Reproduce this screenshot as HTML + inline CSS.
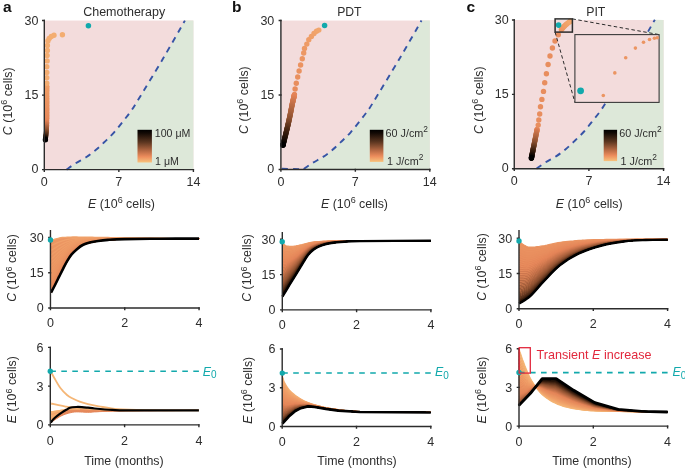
<!DOCTYPE html>
<html><head><meta charset="utf-8"><style>
html,body{margin:0;padding:0;background:#fff;}
svg{display:block;filter:blur(0.3px);}
</style></head><body>
<svg width="685" height="468" viewBox="0 0 685 468" font-family="'Liberation Sans', sans-serif">
<defs><linearGradient id="cba" x1="0" y1="0" x2="0" y2="1"><stop offset="0" stop-color="#000"/><stop offset="0.1" stop-color="#120904"/><stop offset="0.38" stop-color="#5c3620"/><stop offset="0.65" stop-color="#b86a44"/><stop offset="0.82" stop-color="#ec8c5c"/><stop offset="1" stop-color="#f8c27c"/></linearGradient><linearGradient id="cbb" x1="0" y1="0" x2="0" y2="1"><stop offset="0" stop-color="#000"/><stop offset="0.1" stop-color="#120904"/><stop offset="0.38" stop-color="#5c3620"/><stop offset="0.65" stop-color="#b86a44"/><stop offset="0.82" stop-color="#ec8c5c"/><stop offset="1" stop-color="#f8c27c"/></linearGradient><linearGradient id="cbc" x1="0" y1="0" x2="0" y2="1"><stop offset="0" stop-color="#000"/><stop offset="0.1" stop-color="#120904"/><stop offset="0.38" stop-color="#5c3620"/><stop offset="0.65" stop-color="#b86a44"/><stop offset="0.82" stop-color="#ec8c5c"/><stop offset="1" stop-color="#f8c27c"/></linearGradient></defs>
<rect width="685" height="468" fill="#fff"/>
<rect x="44.3" y="20.55" width="149.10" height="149.05" fill="#f3dcdc"/>
<polygon points="66.5,169.6 67.5,168.9 68.8,167.9 70.4,166.8 72.2,165.6 74.0,164.3 75.7,163.2 77.4,162.2 79.2,161.1 81.1,160.1 83.0,159.1 84.8,158.1 86.5,157.0 88.1,155.9 89.7,154.8 91.2,153.7 92.7,152.5 94.2,151.4 95.7,150.1 97.2,148.8 98.8,147.4 100.3,146.0 101.8,144.5 103.4,143.1 104.9,141.6 106.4,140.1 108.0,138.7 109.5,137.2 111.0,135.7 112.6,134.1 114.1,132.4 115.7,130.6 117.3,128.7 118.8,126.7 120.4,124.7 121.9,122.8 123.4,120.9 124.8,119.2 126.1,117.5 127.4,115.9 128.7,114.2 129.9,112.6 131.1,110.9 132.1,109.5 132.8,108.5 133.4,107.5 134.4,106.1 135.8,103.7 138.0,100.1 141.2,94.8 145.3,88.1 149.8,80.6 154.6,72.7 159.3,64.9 163.5,57.8 167.6,50.9 171.7,43.6 175.8,36.6 179.5,30.1 182.6,24.6 184.9,20.6 193.4,20.55 193.4,169.6" fill="#dde8d9"/>
<path d="M66.50,169.60 C68.03,168.53 72.37,165.30 75.70,163.20 C79.03,161.10 83.17,159.18 86.50,157.00 C89.83,154.82 92.63,152.67 95.70,150.10 C98.77,147.53 101.83,144.55 104.90,141.60 C107.97,138.65 111.02,135.85 114.10,132.40 C117.18,128.95 120.57,124.48 123.40,120.90 C126.23,117.32 128.67,114.37 131.10,110.90 C133.53,107.43 132.60,108.95 138.00,100.10 C143.40,91.25 155.68,71.05 163.50,57.80 C171.32,44.55 181.33,26.80 184.90,20.60" fill="none" stroke="#3654a6" stroke-width="1.9" stroke-dasharray="6 5.2"/>
<rect x="280.9" y="20.55" width="148.90" height="148.95" fill="#f3dcdc"/>
<polygon points="303.1,169.5 304.1,168.8 305.4,167.8 307.0,166.7 308.8,165.5 310.6,164.2 312.3,163.1 314.0,162.1 315.8,161.0 317.7,160.0 319.6,159.0 321.4,158.0 323.1,156.9 324.7,155.8 326.3,154.7 327.8,153.6 329.3,152.4 330.8,151.3 332.3,150.0 333.8,148.7 335.4,147.3 336.9,145.9 338.4,144.4 340.0,143.0 341.5,141.5 343.0,140.0 344.6,138.6 346.1,137.1 347.6,135.6 349.2,134.0 350.7,132.3 352.3,130.5 353.9,128.6 355.4,126.6 357.0,124.6 358.5,122.7 360.0,120.8 361.4,119.1 362.7,117.4 364.0,115.8 365.3,114.1 366.5,112.5 367.7,110.8 368.7,109.4 369.4,108.4 370.0,107.4 371.0,106.0 372.4,103.6 374.6,100.0 377.8,94.7 381.9,88.0 386.4,80.5 391.2,72.6 395.9,64.8 400.1,57.7 404.2,50.8 408.3,43.5 412.4,36.5 416.1,30.0 419.2,24.5 421.5,20.5 429.8,20.55 429.8,169.5" fill="#dde8d9"/>
<path d="M281.9,168.7 L303.10,169.2 L303.10,169.50 C304.63,168.43 308.97,165.20 312.30,163.10 C315.63,161.00 319.77,159.08 323.10,156.90 C326.43,154.72 329.23,152.57 332.30,150.00 C335.37,147.43 338.43,144.45 341.50,141.50 C344.57,138.55 347.62,135.75 350.70,132.30 C353.78,128.85 357.17,124.38 360.00,120.80 C362.83,117.22 365.27,114.27 367.70,110.80 C370.13,107.33 369.20,108.85 374.60,100.00 C380.00,91.15 392.28,70.95 400.10,57.70 C407.92,44.45 417.93,26.70 421.50,20.50" fill="none" stroke="#3654a6" stroke-width="1.9" stroke-dasharray="6 5.2"/>
<rect x="514.25" y="20.0" width="149.30" height="148.70" fill="#f3dcdc"/>
<polygon points="536.5,168.7 537.4,168.0 538.8,167.0 540.4,165.9 542.1,164.7 543.9,163.4 545.6,162.3 547.4,161.3 549.2,160.2 551.0,159.2 552.9,158.2 554.7,157.2 556.5,156.1 558.1,155.0 559.6,153.9 561.2,152.8 562.6,151.6 564.1,150.5 565.6,149.2 567.2,147.9 568.7,146.5 570.2,145.1 571.8,143.6 573.3,142.2 574.9,140.7 576.4,139.2 577.9,137.8 579.4,136.3 581.0,134.8 582.5,133.2 584.0,131.5 585.6,129.7 587.2,127.8 588.8,125.8 590.4,123.8 591.9,121.9 593.4,120.0 594.7,118.3 596.1,116.6 597.4,115.0 598.6,113.3 599.8,111.7 601.0,110.0 602.0,108.6 602.7,107.6 603.4,106.6 604.3,105.2 605.7,102.8 608.0,99.2 611.2,93.9 615.2,87.2 619.8,79.7 624.6,71.8 629.2,64.0 633.5,56.9 637.5,50.0 641.7,42.7 645.7,35.7 649.5,29.2 652.6,23.7 654.9,19.7 663.55,20.0 663.55,168.7" fill="#dde8d9"/>
<path d="M536.45,168.70 C537.98,167.63 542.32,164.40 545.65,162.30 C548.98,160.20 553.12,158.28 556.45,156.10 C559.78,153.92 562.58,151.77 565.65,149.20 C568.72,146.63 571.78,143.65 574.85,140.70 C577.92,137.75 580.97,134.95 584.05,131.50 C587.13,128.05 590.52,123.58 593.35,120.00 C596.18,116.42 598.62,113.47 601.05,110.00 C603.48,106.53 602.55,108.05 607.95,99.20 C613.35,90.35 625.63,70.15 633.45,56.90 C641.27,43.65 651.28,25.90 654.85,19.70" fill="none" stroke="#3654a6" stroke-width="1.9" stroke-dasharray="6 5.2"/>
<circle cx="46.9" cy="86.0" r="2.4" fill="#f0a069"/>
<circle cx="46.9" cy="86.3" r="2.4" fill="#f0a069"/>
<circle cx="46.9" cy="86.7" r="2.4" fill="#f09f69"/>
<circle cx="46.9" cy="87.1" r="2.4" fill="#f09f68"/>
<circle cx="46.9" cy="87.5" r="2.4" fill="#ef9e68"/>
<circle cx="46.9" cy="88.0" r="2.4" fill="#ef9e68"/>
<circle cx="46.9" cy="88.5" r="2.4" fill="#ef9e68"/>
<circle cx="46.9" cy="89.1" r="2.4" fill="#ef9d67"/>
<circle cx="46.9" cy="89.6" r="2.4" fill="#ef9d67"/>
<circle cx="46.9" cy="90.2" r="2.4" fill="#ee9c67"/>
<circle cx="46.9" cy="90.8" r="2.4" fill="#ee9c67"/>
<circle cx="46.9" cy="91.5" r="2.4" fill="#ee9c66"/>
<circle cx="46.9" cy="92.1" r="2.4" fill="#ee9b66"/>
<circle cx="46.9" cy="92.8" r="2.4" fill="#ee9b66"/>
<circle cx="46.9" cy="93.5" r="2.4" fill="#ee9b66"/>
<circle cx="46.9" cy="94.1" r="2.4" fill="#ee9a65"/>
<circle cx="46.9" cy="94.8" r="2.4" fill="#ed9a65"/>
<circle cx="46.9" cy="95.5" r="2.4" fill="#ed9965"/>
<circle cx="46.9" cy="96.2" r="2.4" fill="#ed9965"/>
<circle cx="46.9" cy="96.8" r="2.4" fill="#ed9965"/>
<circle cx="46.9" cy="97.5" r="2.4" fill="#ed9864"/>
<circle cx="46.9" cy="98.2" r="2.4" fill="#ec9864"/>
<circle cx="46.9" cy="98.8" r="2.4" fill="#ec9764"/>
<circle cx="46.9" cy="99.4" r="2.4" fill="#ec9764"/>
<circle cx="46.9" cy="100.0" r="2.4" fill="#ec9763"/>
<circle cx="46.9" cy="100.6" r="2.4" fill="#ec9663"/>
<circle cx="46.9" cy="101.2" r="2.4" fill="#ec9663"/>
<circle cx="46.9" cy="101.8" r="2.4" fill="#ec9663"/>
<circle cx="46.9" cy="102.3" r="2.4" fill="#eb9562"/>
<circle cx="46.9" cy="102.9" r="2.4" fill="#eb9562"/>
<circle cx="46.9" cy="103.5" r="2.4" fill="#eb9462"/>
<circle cx="46.9" cy="104.1" r="2.4" fill="#eb9462"/>
<circle cx="46.9" cy="104.7" r="2.4" fill="#eb9461"/>
<circle cx="46.9" cy="105.2" r="2.4" fill="#ea9361"/>
<circle cx="46.9" cy="105.8" r="2.4" fill="#ea9361"/>
<circle cx="46.9" cy="106.4" r="2.4" fill="#ea9261"/>
<circle cx="46.9" cy="107.0" r="2.4" fill="#ea9260"/>
<circle cx="46.9" cy="107.6" r="2.4" fill="#ea9260"/>
<circle cx="46.9" cy="108.2" r="2.4" fill="#ea9160"/>
<circle cx="46.9" cy="108.8" r="2.4" fill="#ea9160"/>
<circle cx="46.9" cy="109.3" r="2.4" fill="#e99060"/>
<circle cx="46.9" cy="109.9" r="2.4" fill="#e9905f"/>
<circle cx="46.9" cy="110.5" r="2.4" fill="#e9905f"/>
<circle cx="46.9" cy="111.1" r="2.4" fill="#e98f5f"/>
<circle cx="46.9" cy="111.7" r="2.4" fill="#e98f5f"/>
<circle cx="46.9" cy="112.2" r="2.4" fill="#e88e5e"/>
<circle cx="46.9" cy="112.8" r="2.4" fill="#e88e5e"/>
<circle cx="46.9" cy="113.4" r="2.4" fill="#e88e5e"/>
<circle cx="46.9" cy="114.0" r="2.4" fill="#e88d5e"/>
<circle cx="46.9" cy="114.6" r="2.4" fill="#e88d5d"/>
<circle cx="46.9" cy="115.2" r="2.4" fill="#e88d5d"/>
<circle cx="46.9" cy="115.8" r="2.4" fill="#e88c5d"/>
<circle cx="46.9" cy="116.4" r="2.4" fill="#e78c5d"/>
<circle cx="46.9" cy="117.0" r="2.4" fill="#e78b5c"/>
<circle cx="46.9" cy="117.6" r="2.4" fill="#e78b5c"/>
<circle cx="46.9" cy="118.2" r="2.4" fill="#e78b5c"/>
<circle cx="46.9" cy="118.8" r="2.4" fill="#e78a5c"/>
<circle cx="46.8" cy="119.4" r="2.4" fill="#e68a5c"/>
<circle cx="46.8" cy="119.9" r="2.4" fill="#e6895b"/>
<circle cx="46.8" cy="120.5" r="2.4" fill="#e6885a"/>
<circle cx="46.8" cy="121.1" r="2.4" fill="#e58659"/>
<circle cx="46.8" cy="121.7" r="2.4" fill="#e48559"/>
<circle cx="46.8" cy="122.3" r="2.4" fill="#e28357"/>
<circle cx="46.8" cy="122.9" r="2.4" fill="#dd8055"/>
<circle cx="46.8" cy="123.5" r="2.4" fill="#d87d53"/>
<circle cx="46.8" cy="124.1" r="2.4" fill="#d37a50"/>
<circle cx="46.7" cy="124.7" r="2.4" fill="#ce774e"/>
<circle cx="46.7" cy="125.2" r="2.4" fill="#c9744c"/>
<circle cx="46.7" cy="125.8" r="2.4" fill="#c37149"/>
<circle cx="46.7" cy="126.4" r="2.4" fill="#be6e47"/>
<circle cx="46.7" cy="126.9" r="2.4" fill="#b96a44"/>
<circle cx="46.6" cy="127.5" r="2.4" fill="#b36742"/>
<circle cx="46.6" cy="128.0" r="2.4" fill="#ae643f"/>
<circle cx="46.6" cy="128.5" r="2.4" fill="#a8613d"/>
<circle cx="46.5" cy="129.1" r="2.4" fill="#a35d3a"/>
<circle cx="46.5" cy="129.7" r="2.4" fill="#9d5a38"/>
<circle cx="46.4" cy="130.2" r="2.4" fill="#985735"/>
<circle cx="46.4" cy="130.8" r="2.4" fill="#925433"/>
<circle cx="46.3" cy="131.4" r="2.4" fill="#8c5030"/>
<circle cx="46.3" cy="131.9" r="2.4" fill="#844b2d"/>
<circle cx="46.2" cy="132.5" r="2.4" fill="#7c472a"/>
<circle cx="46.2" cy="133.1" r="2.4" fill="#744226"/>
<circle cx="46.1" cy="133.6" r="2.4" fill="#6c3d23"/>
<circle cx="46.0" cy="134.2" r="2.4" fill="#643820"/>
<circle cx="46.0" cy="134.7" r="2.4" fill="#5b331d"/>
<circle cx="45.9" cy="135.3" r="2.4" fill="#532e19"/>
<circle cx="45.9" cy="135.8" r="2.4" fill="#4b2916"/>
<circle cx="45.8" cy="136.3" r="2.4" fill="#422413"/>
<circle cx="45.7" cy="136.8" r="2.4" fill="#3a1f0f"/>
<circle cx="45.7" cy="137.2" r="2.4" fill="#321a0c"/>
<circle cx="45.6" cy="137.7" r="2.4" fill="#2b160a"/>
<circle cx="45.6" cy="138.1" r="2.4" fill="#241209"/>
<circle cx="45.5" cy="138.5" r="2.4" fill="#1c0f07"/>
<circle cx="45.5" cy="138.8" r="2.4" fill="#150b05"/>
<circle cx="45.5" cy="139.1" r="2.4" fill="#0e0703"/>
<circle cx="45.4" cy="139.4" r="2.4" fill="#070402"/>
<circle cx="45.4" cy="139.7" r="2.4" fill="#000000"/>
<circle cx="45.4" cy="139.7" r="2.7" fill="#000"/>
<circle cx="46.8" cy="83.3" r="2.7" fill="#f3ad71"/>
<circle cx="46.8" cy="77.8" r="2.7" fill="#f3ad71"/>
<circle cx="46.8" cy="72.4" r="2.7" fill="#f3ad71"/>
<circle cx="46.8" cy="66.7" r="2.7" fill="#f3ad71"/>
<circle cx="47.1" cy="60.9" r="2.7" fill="#f3ad71"/>
<circle cx="47.1" cy="55.5" r="2.7" fill="#f3ad71"/>
<circle cx="47.4" cy="50.4" r="2.7" fill="#f3ad71"/>
<circle cx="47.4" cy="45.5" r="2.7" fill="#f3ad71"/>
<circle cx="47.9" cy="41.0" r="2.7" fill="#f3ad71"/>
<circle cx="49.2" cy="38.5" r="2.7" fill="#f3ad71"/>
<circle cx="51.3" cy="36.5" r="2.7" fill="#f3ad71"/>
<circle cx="54.0" cy="35.3" r="2.7" fill="#f3ad71"/>
<circle cx="62.4" cy="34.7" r="2.7" fill="#f3ad71"/>
<circle cx="88.4" cy="25.7" r="2.75" fill="#12a9ac"/>
<rect x="137.5" y="129.8" width="14.4" height="32.7" fill="url(#cba)"/>
<circle cx="294.5" cy="94.5" r="2.6" fill="#e5875a"/>
<circle cx="294.4" cy="94.7" r="2.6" fill="#e5875a"/>
<circle cx="294.4" cy="95.0" r="2.6" fill="#e5875a"/>
<circle cx="294.3" cy="95.3" r="2.6" fill="#e58659"/>
<circle cx="294.2" cy="95.6" r="2.6" fill="#e58659"/>
<circle cx="294.2" cy="95.9" r="2.6" fill="#e58559"/>
<circle cx="294.1" cy="96.2" r="2.6" fill="#e48558"/>
<circle cx="294.0" cy="96.6" r="2.6" fill="#e48458"/>
<circle cx="293.9" cy="97.0" r="2.6" fill="#e38358"/>
<circle cx="293.8" cy="97.4" r="2.6" fill="#e18257"/>
<circle cx="293.7" cy="97.8" r="2.6" fill="#e08156"/>
<circle cx="293.6" cy="98.3" r="2.6" fill="#de8055"/>
<circle cx="293.5" cy="98.7" r="2.6" fill="#dc7f54"/>
<circle cx="293.4" cy="99.2" r="2.6" fill="#da7e53"/>
<circle cx="293.2" cy="99.7" r="2.6" fill="#d87d53"/>
<circle cx="293.1" cy="100.2" r="2.6" fill="#d67c52"/>
<circle cx="293.0" cy="100.7" r="2.6" fill="#d47b51"/>
<circle cx="292.9" cy="101.2" r="2.6" fill="#d27950"/>
<circle cx="292.8" cy="101.7" r="2.6" fill="#d0784f"/>
<circle cx="292.6" cy="102.2" r="2.6" fill="#ce774e"/>
<circle cx="292.5" cy="102.7" r="2.6" fill="#cc764d"/>
<circle cx="292.4" cy="103.3" r="2.6" fill="#ca754c"/>
<circle cx="292.3" cy="103.8" r="2.6" fill="#c8734b"/>
<circle cx="292.2" cy="104.3" r="2.6" fill="#c6724a"/>
<circle cx="292.1" cy="104.9" r="2.6" fill="#c47149"/>
<circle cx="292.0" cy="105.5" r="2.6" fill="#c17048"/>
<circle cx="291.8" cy="106.1" r="2.6" fill="#bf6e47"/>
<circle cx="291.7" cy="106.7" r="2.6" fill="#bd6d46"/>
<circle cx="291.6" cy="107.4" r="2.6" fill="#bb6c45"/>
<circle cx="291.5" cy="108.0" r="2.6" fill="#b96a44"/>
<circle cx="291.3" cy="108.7" r="2.6" fill="#b66943"/>
<circle cx="291.2" cy="109.3" r="2.6" fill="#b46842"/>
<circle cx="291.1" cy="110.0" r="2.6" fill="#b26641"/>
<circle cx="291.0" cy="110.7" r="2.6" fill="#b06540"/>
<circle cx="290.8" cy="111.4" r="2.6" fill="#ad643f"/>
<circle cx="290.7" cy="112.0" r="2.6" fill="#ab623e"/>
<circle cx="290.6" cy="112.7" r="2.6" fill="#a9613d"/>
<circle cx="290.4" cy="113.4" r="2.6" fill="#a6603c"/>
<circle cx="290.3" cy="114.1" r="2.6" fill="#a45e3b"/>
<circle cx="290.2" cy="114.8" r="2.6" fill="#a25d3a"/>
<circle cx="290.0" cy="115.4" r="2.6" fill="#9f5b39"/>
<circle cx="289.9" cy="116.1" r="2.6" fill="#9d5a38"/>
<circle cx="289.8" cy="116.7" r="2.6" fill="#9b5937"/>
<circle cx="289.6" cy="117.4" r="2.6" fill="#985736"/>
<circle cx="289.5" cy="118.0" r="2.6" fill="#965634"/>
<circle cx="289.4" cy="118.6" r="2.6" fill="#935433"/>
<circle cx="289.2" cy="119.2" r="2.6" fill="#915332"/>
<circle cx="289.1" cy="119.8" r="2.6" fill="#8e5131"/>
<circle cx="289.0" cy="120.4" r="2.6" fill="#8c5030"/>
<circle cx="288.8" cy="121.0" r="2.6" fill="#884e2f"/>
<circle cx="288.7" cy="121.6" r="2.6" fill="#854c2d"/>
<circle cx="288.6" cy="122.2" r="2.6" fill="#814a2c"/>
<circle cx="288.4" cy="122.8" r="2.6" fill="#7e472a"/>
<circle cx="288.3" cy="123.3" r="2.6" fill="#7a4529"/>
<circle cx="288.2" cy="123.9" r="2.6" fill="#774327"/>
<circle cx="288.0" cy="124.5" r="2.6" fill="#734126"/>
<circle cx="287.9" cy="125.1" r="2.6" fill="#6f3f25"/>
<circle cx="287.8" cy="125.7" r="2.6" fill="#6c3d23"/>
<circle cx="287.6" cy="126.2" r="2.6" fill="#683a22"/>
<circle cx="287.5" cy="126.8" r="2.6" fill="#653820"/>
<circle cx="287.4" cy="127.4" r="2.6" fill="#61361f"/>
<circle cx="287.2" cy="128.0" r="2.6" fill="#5d341d"/>
<circle cx="287.1" cy="128.6" r="2.6" fill="#5a321c"/>
<circle cx="286.9" cy="129.2" r="2.6" fill="#562f1a"/>
<circle cx="286.8" cy="129.8" r="2.6" fill="#522d19"/>
<circle cx="286.6" cy="130.4" r="2.6" fill="#4e2b17"/>
<circle cx="286.5" cy="131.0" r="2.6" fill="#4b2916"/>
<circle cx="286.3" cy="131.6" r="2.6" fill="#472714"/>
<circle cx="286.2" cy="132.3" r="2.6" fill="#432413"/>
<circle cx="286.0" cy="133.0" r="2.6" fill="#3f2211"/>
<circle cx="285.8" cy="133.7" r="2.6" fill="#3c2010"/>
<circle cx="285.7" cy="134.4" r="2.6" fill="#381e0e"/>
<circle cx="285.5" cy="135.1" r="2.6" fill="#341b0d"/>
<circle cx="285.3" cy="135.9" r="2.6" fill="#31190c"/>
<circle cx="285.1" cy="136.6" r="2.6" fill="#2d180b"/>
<circle cx="284.9" cy="137.4" r="2.6" fill="#2a160a"/>
<circle cx="284.7" cy="138.1" r="2.6" fill="#271409"/>
<circle cx="284.6" cy="138.9" r="2.6" fill="#241309"/>
<circle cx="284.4" cy="139.6" r="2.6" fill="#211108"/>
<circle cx="284.2" cy="140.3" r="2.6" fill="#1d0f07"/>
<circle cx="284.0" cy="141.0" r="2.6" fill="#1a0e06"/>
<circle cx="283.9" cy="141.6" r="2.6" fill="#170c05"/>
<circle cx="283.7" cy="142.2" r="2.6" fill="#140a05"/>
<circle cx="283.6" cy="142.8" r="2.6" fill="#100904"/>
<circle cx="283.4" cy="143.4" r="2.6" fill="#0d0703"/>
<circle cx="283.3" cy="143.9" r="2.6" fill="#0a0502"/>
<circle cx="283.2" cy="144.3" r="2.6" fill="#070302"/>
<circle cx="283.1" cy="144.7" r="2.6" fill="#030201"/>
<circle cx="283.0" cy="145.1" r="2.6" fill="#000000"/>
<circle cx="283.0" cy="145.1" r="2.8" fill="#000"/>
<circle cx="295.1" cy="89.0" r="2.7" fill="#e78c5d"/>
<circle cx="296.3" cy="83.2" r="2.7" fill="#e88e5e"/>
<circle cx="297.7" cy="77.0" r="2.7" fill="#e9905f"/>
<circle cx="299.1" cy="71.0" r="2.7" fill="#ea9260"/>
<circle cx="300.6" cy="65.0" r="2.7" fill="#eb9361"/>
<circle cx="302.3" cy="58.7" r="2.7" fill="#eb9563"/>
<circle cx="303.7" cy="53.0" r="2.7" fill="#ec9764"/>
<circle cx="304.5" cy="48.4" r="2.7" fill="#ed9965"/>
<circle cx="306.8" cy="44.1" r="2.7" fill="#ee9b66"/>
<circle cx="308.8" cy="39.8" r="2.7" fill="#ef9d67"/>
<circle cx="311.4" cy="36.4" r="2.7" fill="#ef9f68"/>
<circle cx="314.0" cy="33.5" r="2.7" fill="#f0a16a"/>
<circle cx="316.5" cy="31.3" r="2.7" fill="#f1a46b"/>
<circle cx="318.8" cy="30.1" r="2.7" fill="#f1a66d"/>
<circle cx="324.6" cy="25.6" r="2.75" fill="#12a9ac"/>
<rect x="369.8" y="129.8" width="13.6" height="32.1" fill="url(#cbb)"/>
<circle cx="537.1" cy="129.4" r="2.6" fill="#e5875a"/>
<circle cx="537.0" cy="129.8" r="2.6" fill="#e58559"/>
<circle cx="536.9" cy="130.2" r="2.6" fill="#e38357"/>
<circle cx="536.8" cy="130.7" r="2.6" fill="#de8055"/>
<circle cx="536.7" cy="131.3" r="2.6" fill="#d97d53"/>
<circle cx="536.6" cy="131.9" r="2.6" fill="#d47a51"/>
<circle cx="536.5" cy="132.6" r="2.6" fill="#cf784f"/>
<circle cx="536.3" cy="133.3" r="2.6" fill="#ca754c"/>
<circle cx="536.2" cy="134.1" r="2.6" fill="#c6724a"/>
<circle cx="536.0" cy="134.8" r="2.6" fill="#c16f48"/>
<circle cx="535.9" cy="135.6" r="2.6" fill="#bd6d46"/>
<circle cx="535.7" cy="136.4" r="2.6" fill="#b86a44"/>
<circle cx="535.6" cy="137.1" r="2.6" fill="#b46842"/>
<circle cx="535.4" cy="137.9" r="2.6" fill="#b06540"/>
<circle cx="535.3" cy="138.6" r="2.6" fill="#ab623e"/>
<circle cx="535.1" cy="139.3" r="2.6" fill="#a7603c"/>
<circle cx="535.0" cy="140.0" r="2.6" fill="#a35d3a"/>
<circle cx="534.9" cy="140.6" r="2.6" fill="#9e5b38"/>
<circle cx="534.7" cy="141.3" r="2.6" fill="#9a5836"/>
<circle cx="534.6" cy="141.9" r="2.6" fill="#965634"/>
<circle cx="534.5" cy="142.6" r="2.6" fill="#925333"/>
<circle cx="534.4" cy="143.2" r="2.6" fill="#8e5131"/>
<circle cx="534.2" cy="143.9" r="2.6" fill="#884e2f"/>
<circle cx="534.1" cy="144.5" r="2.6" fill="#824a2c"/>
<circle cx="534.0" cy="145.2" r="2.6" fill="#7d472a"/>
<circle cx="533.8" cy="145.8" r="2.6" fill="#774328"/>
<circle cx="533.7" cy="146.4" r="2.6" fill="#714025"/>
<circle cx="533.6" cy="147.0" r="2.6" fill="#6b3c23"/>
<circle cx="533.5" cy="147.6" r="2.6" fill="#653921"/>
<circle cx="533.3" cy="148.3" r="2.6" fill="#60351e"/>
<circle cx="533.2" cy="148.8" r="2.6" fill="#5a321c"/>
<circle cx="533.1" cy="149.4" r="2.6" fill="#542f1a"/>
<circle cx="533.0" cy="150.0" r="2.6" fill="#4f2b17"/>
<circle cx="532.9" cy="150.6" r="2.6" fill="#492815"/>
<circle cx="532.8" cy="151.2" r="2.6" fill="#432413"/>
<circle cx="532.7" cy="151.8" r="2.6" fill="#3e2111"/>
<circle cx="532.5" cy="152.3" r="2.6" fill="#381e0e"/>
<circle cx="532.4" cy="152.9" r="2.6" fill="#331a0c"/>
<circle cx="532.3" cy="153.5" r="2.6" fill="#2e180b"/>
<circle cx="532.2" cy="154.1" r="2.6" fill="#29150a"/>
<circle cx="532.1" cy="154.7" r="2.6" fill="#251309"/>
<circle cx="532.0" cy="155.2" r="2.6" fill="#201108"/>
<circle cx="531.9" cy="155.7" r="2.6" fill="#1b0e07"/>
<circle cx="531.8" cy="156.2" r="2.6" fill="#170c05"/>
<circle cx="531.7" cy="156.7" r="2.6" fill="#120904"/>
<circle cx="531.6" cy="157.1" r="2.6" fill="#0e0703"/>
<circle cx="531.5" cy="157.5" r="2.6" fill="#090502"/>
<circle cx="531.5" cy="157.8" r="2.6" fill="#050201"/>
<circle cx="531.4" cy="158.1" r="2.6" fill="#000000"/>
<circle cx="531.4" cy="158.1" r="2.8" fill="#000"/>
<circle cx="538.2" cy="125.1" r="2.7" fill="#e88e5e"/>
<circle cx="538.8" cy="120.0" r="2.7" fill="#e88e5e"/>
<circle cx="539.7" cy="114.0" r="2.7" fill="#e88e5e"/>
<circle cx="540.5" cy="106.8" r="2.7" fill="#e88e5e"/>
<circle cx="541.9" cy="99.4" r="2.7" fill="#e88e5e"/>
<circle cx="543.5" cy="91.4" r="2.7" fill="#e88e5e"/>
<circle cx="544.7" cy="82.7" r="2.7" fill="#e88e5e"/>
<circle cx="546.4" cy="73.7" r="2.7" fill="#e88e5e"/>
<circle cx="548.1" cy="64.5" r="2.7" fill="#e88e5e"/>
<circle cx="550.0" cy="56.0" r="2.7" fill="#e88e5e"/>
<circle cx="552.4" cy="48.0" r="2.7" fill="#e88e5e"/>
<circle cx="555.0" cy="41.0" r="2.7" fill="#e88e5e"/>
<circle cx="558.3" cy="34.8" r="2.7" fill="#e88e5e"/>
<circle cx="561.3" cy="29.6" r="2.6" fill="#eb9562"/>
<circle cx="561.7" cy="29.2" r="2.6" fill="#ec9663"/>
<circle cx="562.2" cy="28.5" r="2.6" fill="#ec9864"/>
<circle cx="562.8" cy="27.8" r="2.6" fill="#ed9965"/>
<circle cx="563.5" cy="27.0" r="2.6" fill="#ee9a66"/>
<circle cx="564.3" cy="26.2" r="2.6" fill="#ee9c66"/>
<circle cx="565.0" cy="25.5" r="2.6" fill="#ef9d67"/>
<circle cx="565.8" cy="24.7" r="2.6" fill="#ef9f68"/>
<circle cx="566.8" cy="23.9" r="2.6" fill="#f0a069"/>
<circle cx="567.8" cy="23.1" r="2.6" fill="#f0a26a"/>
<circle cx="568.8" cy="22.3" r="2.6" fill="#f1a46b"/>
<circle cx="569.6" cy="21.7" r="2.6" fill="#f1a66d"/>
<circle cx="570.2" cy="21.2" r="2.6" fill="#f2a86e"/>
<circle cx="558.6" cy="25.1" r="2.8" fill="#12a9ac"/>
<rect x="603.7" y="129.8" width="13.4" height="31.3" fill="url(#cbc)"/>
<path d="M572.4,18.9 L659.1,34.6 M555.1,32.1 L574.9,102.4" stroke="#2c2c2c" stroke-width="1" stroke-dasharray="3.5 2.5" fill="none"/>
<rect x="555.1" y="18.9" width="17.3" height="13.2" fill="none" stroke="#2c2c2c" stroke-width="1.5"/>
<rect x="574.9" y="34.6" width="84.2" height="67.8" fill="#f3dcdc" stroke="#3a3a3a" stroke-width="1.1"/>
<circle cx="603.3" cy="95.5" r="1.8" fill="#eb9562"/>
<circle cx="614.8" cy="72.9" r="1.8" fill="#eb9562"/>
<circle cx="625.7" cy="57.7" r="1.8" fill="#eb9562"/>
<circle cx="635.4" cy="48.1" r="1.8" fill="#eb9562"/>
<circle cx="643.5" cy="42.3" r="1.8" fill="#eb9562"/>
<circle cx="649.5" cy="39.5" r="1.8" fill="#eb9562"/>
<circle cx="654.4" cy="38.2" r="1.8" fill="#eb9562"/>
<circle cx="657.2" cy="37.8" r="1.8" fill="#eb9562"/>
<circle cx="580.6" cy="90.8" r="3.4" fill="#12a9ac"/>
<path d="M44.30,20.55 V169.60 H193.40" fill="none" stroke="#2c2c2c" stroke-width="1.4" stroke-linecap="square"/>
<path d="M44.30,169.60 v1.6 M118.85,169.60 v1.6 M193.40,169.60 v1.6 M44.30,169.60 h-1.6 M44.30,95.08 h-1.6 M44.30,20.55 h-1.6 " fill="none" stroke="#2c2c2c" stroke-width="1.4" stroke-linecap="square"/>
<path d="M280.90,20.55 V169.50 H429.80" fill="none" stroke="#2c2c2c" stroke-width="1.4" stroke-linecap="square"/>
<path d="M280.90,169.50 v1.6 M355.35,169.50 v1.6 M429.80,169.50 v1.6 M280.90,169.50 h-1.6 M280.90,95.03 h-1.6 M280.90,20.55 h-1.6 " fill="none" stroke="#2c2c2c" stroke-width="1.4" stroke-linecap="square"/>
<path d="M514.25,20.00 V168.70 H663.55" fill="none" stroke="#2c2c2c" stroke-width="1.4" stroke-linecap="square"/>
<path d="M514.25,168.70 v1.6 M588.90,168.70 v1.6 M663.55,168.70 v1.6 M514.25,168.70 h-1.6 M514.25,94.35 h-1.6 M514.25,20.00 h-1.6 " fill="none" stroke="#2c2c2c" stroke-width="1.4" stroke-linecap="square"/>
<path d="M50.8,240.6 L51.0,240.5 L51.3,240.4 L51.7,240.3 L52.1,240.1 L52.5,240.0 L53.0,239.8 L53.4,239.7 L53.9,239.5 L54.4,239.3 L54.9,239.2 L55.4,239.1 L55.9,238.9 L56.4,238.8 L56.9,238.6 L57.4,238.5 L58.0,238.3 L58.6,238.2 L59.2,238.0 L59.8,237.9 L60.5,237.8 L61.2,237.7 L61.9,237.6 L62.6,237.5 L63.4,237.4 L64.1,237.4 L64.9,237.3 L65.8,237.2 L66.7,237.2 L67.7,237.1 L68.8,237.1 L69.9,237.1 L71.0,237.0 L72.2,237.0 L73.4,237.0 L74.7,237.0 L76.1,237.0 L77.5,237.0 L79.1,237.1 L80.8,237.1 L82.7,237.1 L84.8,237.1 L87.2,237.2 L89.7,237.2 L92.4,237.2 L95.2,237.3 L98.0,237.3 L100.7,237.4 L103.3,237.4 L105.8,237.5 L108.0,237.5 L109.9,237.5 L111.5,237.6 L113.0,237.6 L114.3,237.7 L115.6,237.7 L116.9,237.8 L118.3,237.8 L120.0,237.9 L122.0,237.9 L124.4,238.0 L127.2,238.1 L130.2,238.1 L133.6,238.2 L137.1,238.2 L140.8,238.3 L144.6,238.3 L148.5,238.4 L152.4,238.4 L156.2,238.5 L160.0,238.5 L163.9,238.5 L168.2,238.5 L172.7,238.6 L177.2,238.6 L181.8,238.6 L186.1,238.6 L190.1,238.6 L193.7,238.6 L196.7,238.6 L199.1,238.6 L199.1,238.6 L196.7,238.6 L193.7,238.6 L190.1,238.6 L186.1,238.6 L181.8,238.6 L177.2,238.6 L172.7,238.6 L168.2,238.7 L163.9,238.7 L160.0,238.7 L156.2,238.7 L152.4,238.8 L148.5,238.8 L144.6,238.8 L140.8,238.9 L137.1,238.9 L133.6,238.9 L130.2,239.0 L127.2,239.0 L124.4,239.1 L122.0,239.2 L119.8,239.2 L117.9,239.3 L116.2,239.4 L114.6,239.5 L113.2,239.5 L111.8,239.6 L110.6,239.7 L109.3,239.8 L108.0,239.9 L106.7,240.0 L105.6,240.1 L104.5,240.2 L103.5,240.3 L102.5,240.4 L101.6,240.5 L100.7,240.6 L99.8,240.7 L98.9,240.9 L98.0,241.0 L97.1,241.1 L96.2,241.3 L95.3,241.4 L94.5,241.6 L93.7,241.7 L92.8,241.9 L92.0,242.0 L91.2,242.2 L90.5,242.4 L89.7,242.6 L88.9,242.8 L88.2,243.0 L87.5,243.2 L86.7,243.4 L86.0,243.7 L85.3,243.9 L84.6,244.1 L84.0,244.4 L83.3,244.7 L82.7,245.0 L82.1,245.3 L81.5,245.7 L80.9,246.0 L80.4,246.4 L79.9,246.8 L79.3,247.2 L78.8,247.6 L78.3,248.0 L77.7,248.4 L77.2,248.9 L76.6,249.4 L76.1,249.9 L75.5,250.4 L74.9,250.9 L74.3,251.5 L73.7,252.1 L73.2,252.6 L72.6,253.2 L72.1,253.8 L71.6,254.4 L71.1,255.0 L70.7,255.6 L70.2,256.2 L69.8,256.8 L69.4,257.4 L69.0,258.0 L68.6,258.7 L68.2,259.3 L67.8,260.0 L67.4,260.7 L67.0,261.4 L66.6,262.1 L66.2,262.9 L65.8,263.6 L65.4,264.4 L64.9,265.1 L64.5,265.9 L64.1,266.7 L63.7,267.5 L63.3,268.3 L62.9,269.1 L62.5,269.9 L62.0,270.8 L61.6,271.6 L61.2,272.5 L60.8,273.3 L60.4,274.2 L59.9,275.0 L59.5,275.9 L59.1,276.7 L58.7,277.5 L58.3,278.4 L57.9,279.2 L57.4,280.1 L57.0,280.9 L56.6,281.7 L56.2,282.6 L55.8,283.4 L55.4,284.2 L55.0,285.0 L54.6,285.8 L54.1,286.7 L53.7,287.6 L53.2,288.5 L52.8,289.3 L52.4,290.1 L52.0,290.9 L51.6,291.6 L51.3,292.2 L51.1,292.6 Z" fill="#eb9562"/>
<path d="M51.1,240.5 L51.3,240.4 L51.7,240.3 L52.3,240.0 L53.0,239.8 L53.9,239.5 L54.8,239.2 L55.9,238.9 L57.0,238.6 L58.2,238.3 L59.5,238.0 L60.9,237.7 L62.4,237.5 L63.9,237.4 L65.5,237.3 L67.2,237.2 L69.0,237.1 L70.8,237.1 L72.7,237.0 L74.6,237.0 L76.6,237.0 L78.7,237.1 L80.8,237.1 L83.0,237.1 L85.3,237.1 L87.6,237.2 L89.9,237.2 L92.3,237.2 L94.8,237.3 L97.3,237.3 L99.9,237.3 L102.5,237.4 L105.2,237.4 L107.9,237.5 L110.7,237.6 L113.6,237.7 L116.4,237.8 L119.4,237.9 L122.3,238.0 L125.4,238.0 L128.4,238.1 L131.6,238.1 L134.7,238.2 L137.9,238.2 L141.2,238.3 L144.5,238.3 L147.8,238.4 L151.2,238.4 L154.6,238.4 L158.1,238.5 L161.6,238.5 L165.2,238.5 L168.8,238.5 L172.4,238.6 L176.1,238.6 L179.8,238.6 L183.6,238.6 L187.4,238.6 L191.2,238.6 L195.1,238.6 L199.1,238.6" fill="none" stroke="#f1a36b" stroke-width="1.3"/>
<path d="M51.1,245.7 L51.3,245.6 L51.7,245.4 L52.3,245.1 L53.0,244.7 L53.9,244.3 L54.8,243.8 L55.9,243.3 L57.0,242.8 L58.2,242.3 L59.5,241.8 L60.9,241.3 L62.4,240.8 L63.9,240.4 L65.5,239.9 L67.2,239.5 L69.0,239.2 L70.8,238.9 L72.7,238.6 L74.6,238.4 L76.6,238.3 L78.7,238.1 L80.8,238.0 L83.0,237.9 L85.3,237.8 L87.6,237.8 L89.9,237.7 L92.3,237.7 L94.8,237.7 L97.3,237.7 L99.9,237.7 L102.5,237.7 L105.2,237.7 L107.9,237.7 L110.7,237.8 L113.6,237.9 L116.4,237.9 L119.4,238.0 L122.3,238.1 L125.4,238.1 L128.4,238.2 L131.6,238.2 L134.7,238.3 L137.9,238.3 L141.2,238.3 L144.5,238.4 L147.8,238.4 L151.2,238.4 L154.6,238.5 L158.1,238.5 L161.6,238.5 L165.2,238.5 L168.8,238.6 L172.4,238.6 L176.1,238.6 L179.8,238.6 L183.6,238.6 L187.4,238.6 L191.2,238.6 L195.1,238.6 L199.1,238.6" fill="none" stroke="#f0a16a" stroke-width="1.3"/>
<path d="M51.1,250.5 L51.3,250.4 L51.7,250.1 L52.3,249.7 L53.0,249.3 L53.9,248.7 L54.8,248.1 L55.9,247.5 L57.0,246.8 L58.2,246.0 L59.5,245.3 L60.9,244.6 L62.4,243.8 L63.9,243.1 L65.5,242.4 L67.2,241.8 L69.0,241.2 L70.8,240.6 L72.7,240.2 L74.6,239.8 L76.6,239.4 L78.7,239.1 L80.8,238.8 L83.0,238.6 L85.3,238.4 L87.6,238.3 L89.9,238.2 L92.3,238.1 L94.8,238.1 L97.3,238.0 L99.9,238.0 L102.5,238.0 L105.2,238.0 L107.9,238.0 L110.7,238.0 L113.6,238.0 L116.4,238.1 L119.4,238.1 L122.3,238.2 L125.4,238.2 L128.4,238.3 L131.6,238.3 L134.7,238.3 L137.9,238.4 L141.2,238.4 L144.5,238.4 L147.8,238.5 L151.2,238.5 L154.6,238.5 L158.1,238.5 L161.6,238.5 L165.2,238.6 L168.8,238.6 L172.4,238.6 L176.1,238.6 L179.8,238.6 L183.6,238.6 L187.4,238.6 L191.2,238.6 L195.1,238.6 L199.1,238.6" fill="none" stroke="#f09f69" stroke-width="1.3"/>
<path d="M51.1,255.0 L51.3,254.9 L51.7,254.5 L52.3,254.1 L53.0,253.5 L53.9,252.8 L54.8,252.1 L55.9,251.3 L57.0,250.4 L58.2,249.5 L59.5,248.6 L60.9,247.6 L62.4,246.6 L63.9,245.7 L65.5,244.7 L67.2,243.8 L69.0,243.0 L70.8,242.2 L72.7,241.5 L74.6,241.0 L76.6,240.5 L78.7,240.0 L80.8,239.6 L83.0,239.3 L85.3,239.0 L87.6,238.8 L89.9,238.7 L92.3,238.6 L94.8,238.4 L97.3,238.4 L99.9,238.3 L102.5,238.2 L105.2,238.2 L107.9,238.2 L110.7,238.2 L113.6,238.2 L116.4,238.2 L119.4,238.3 L122.3,238.3 L125.4,238.3 L128.4,238.3 L131.6,238.4 L134.7,238.4 L137.9,238.4 L141.2,238.4 L144.5,238.5 L147.8,238.5 L151.2,238.5 L154.6,238.5 L158.1,238.5 L161.6,238.6 L165.2,238.6 L168.8,238.6 L172.4,238.6 L176.1,238.6 L179.8,238.6 L183.6,238.6 L187.4,238.6 L191.2,238.6 L195.1,238.6 L199.1,238.6" fill="none" stroke="#ef9e68" stroke-width="1.3"/>
<path d="M51.1,259.2 L51.3,259.0 L51.7,258.6 L52.3,258.1 L53.0,257.4 L53.9,256.7 L54.8,255.8 L55.9,254.9 L57.0,253.8 L58.2,252.7 L59.5,251.6 L60.9,250.4 L62.4,249.3 L63.9,248.1 L65.5,246.9 L67.2,245.7 L69.0,244.7 L70.8,243.7 L72.7,242.8 L74.6,242.1 L76.6,241.5 L78.7,240.9 L80.8,240.3 L83.0,239.9 L85.3,239.6 L87.6,239.3 L89.9,239.1 L92.3,238.9 L94.8,238.8 L97.3,238.7 L99.9,238.6 L102.5,238.5 L105.2,238.4 L107.9,238.4 L110.7,238.3 L113.6,238.3 L116.4,238.3 L119.4,238.4 L122.3,238.4 L125.4,238.4 L128.4,238.4 L131.6,238.4 L134.7,238.4 L137.9,238.5 L141.2,238.5 L144.5,238.5 L147.8,238.5 L151.2,238.5 L154.6,238.6 L158.1,238.6 L161.6,238.6 L165.2,238.6 L168.8,238.6 L172.4,238.6 L176.1,238.6 L179.8,238.6 L183.6,238.6 L187.4,238.6 L191.2,238.6 L195.1,238.6 L199.1,238.6" fill="none" stroke="#ef9d67" stroke-width="1.3"/>
<path d="M51.1,263.1 L51.3,262.8 L51.7,262.4 L52.3,261.8 L53.0,261.0 L53.9,260.2 L54.8,259.2 L55.9,258.1 L57.0,257.0 L58.2,255.7 L59.5,254.4 L60.9,253.0 L62.4,251.7 L63.9,250.3 L65.5,248.9 L67.2,247.5 L69.0,246.2 L70.8,245.0 L72.7,244.0 L74.6,243.2 L76.6,242.4 L78.7,241.7 L80.8,241.0 L83.0,240.5 L85.3,240.1 L87.6,239.8 L89.9,239.5 L92.3,239.3 L94.8,239.1 L97.3,238.9 L99.9,238.8 L102.5,238.7 L105.2,238.6 L107.9,238.5 L110.7,238.5 L113.6,238.5 L116.4,238.5 L119.4,238.5 L122.3,238.5 L125.4,238.5 L128.4,238.5 L131.6,238.5 L134.7,238.5 L137.9,238.5 L141.2,238.5 L144.5,238.5 L147.8,238.6 L151.2,238.6 L154.6,238.6 L158.1,238.6 L161.6,238.6 L165.2,238.6 L168.8,238.6 L172.4,238.6 L176.1,238.6 L179.8,238.6 L183.6,238.6 L187.4,238.6 L191.2,238.6 L195.1,238.6 L199.1,238.6" fill="none" stroke="#ee9b66" stroke-width="1.3"/>
<path d="M51.1,266.6 L51.3,266.4 L51.7,265.9 L52.3,265.2 L53.0,264.4 L53.9,263.4 L54.8,262.3 L55.9,261.2 L57.0,259.8 L58.2,258.4 L59.5,257.0 L60.9,255.4 L62.4,253.9 L63.9,252.3 L65.5,250.7 L67.2,249.1 L69.0,247.6 L70.8,246.3 L72.7,245.1 L74.6,244.1 L76.6,243.2 L78.7,242.4 L80.8,241.6 L83.0,241.0 L85.3,240.5 L87.6,240.2 L89.9,239.9 L92.3,239.6 L94.8,239.4 L97.3,239.2 L99.9,239.0 L102.5,238.9 L105.2,238.8 L107.9,238.7 L110.7,238.6 L113.6,238.6 L116.4,238.6 L119.4,238.6 L122.3,238.6 L125.4,238.6 L128.4,238.5 L131.6,238.6 L134.7,238.6 L137.9,238.6 L141.2,238.6 L144.5,238.6 L147.8,238.6 L151.2,238.6 L154.6,238.6 L158.1,238.6 L161.6,238.6 L165.2,238.6 L168.8,238.6 L172.4,238.6 L176.1,238.6 L179.8,238.6 L183.6,238.6 L187.4,238.6 L191.2,238.6 L195.1,238.6 L199.1,238.6" fill="none" stroke="#ed9a65" stroke-width="1.3"/>
<path d="M51.1,269.9 L51.3,269.6 L51.7,269.0 L52.3,268.3 L53.0,267.4 L53.9,266.4 L54.8,265.2 L55.9,263.9 L57.0,262.5 L58.2,260.9 L59.5,259.3 L60.9,257.6 L62.4,255.9 L63.9,254.1 L65.5,252.4 L67.2,250.6 L69.0,248.9 L70.8,247.4 L72.7,246.1 L74.6,245.0 L76.6,244.0 L78.7,243.0 L80.8,242.2 L83.0,241.5 L85.3,241.0 L87.6,240.6 L89.9,240.2 L92.3,239.9 L94.8,239.7 L97.3,239.4 L99.9,239.3 L102.5,239.1 L105.2,239.0 L107.9,238.9 L110.7,238.8 L113.6,238.7 L116.4,238.7 L119.4,238.6 L122.3,238.6 L125.4,238.6 L128.4,238.6 L131.6,238.6 L134.7,238.6 L137.9,238.6 L141.2,238.6 L144.5,238.6 L147.8,238.6 L151.2,238.6 L154.6,238.6 L158.1,238.6 L161.6,238.6 L165.2,238.6 L168.8,238.6 L172.4,238.6 L176.1,238.6 L179.8,238.6 L183.6,238.6 L187.4,238.6 L191.2,238.6 L195.1,238.6 L199.1,238.6" fill="none" stroke="#ed9864" stroke-width="1.3"/>
<path d="M51.1,272.8 L51.3,272.5 L51.7,272.0 L52.3,271.2 L53.0,270.2 L53.9,269.1 L54.8,267.8 L55.9,266.4 L57.0,264.9 L58.2,263.2 L59.5,261.5 L60.9,259.6 L62.4,257.8 L63.9,255.8 L65.5,253.9 L67.2,252.0 L69.0,250.1 L70.8,248.5 L72.7,247.1 L74.6,245.8 L76.6,244.7 L78.7,243.6 L80.8,242.7 L83.0,241.9 L85.3,241.3 L87.6,240.9 L89.9,240.5 L92.3,240.2 L94.8,239.9 L97.3,239.7 L99.9,239.4 L102.5,239.3 L105.2,239.1 L107.9,239.0 L110.7,238.9 L113.6,238.8 L116.4,238.8 L119.4,238.7 L122.3,238.7 L125.4,238.7 L128.4,238.7 L131.6,238.7 L134.7,238.6 L137.9,238.6 L141.2,238.6 L144.5,238.6 L147.8,238.6 L151.2,238.6 L154.6,238.6 L158.1,238.6 L161.6,238.6 L165.2,238.6 L168.8,238.6 L172.4,238.6 L176.1,238.6 L179.8,238.6 L183.6,238.6 L187.4,238.6 L191.2,238.6 L195.1,238.6 L199.1,238.6" fill="none" stroke="#ec9763" stroke-width="1.3"/>
<path d="M51.1,275.5 L51.3,275.2 L51.7,274.6 L52.3,273.8 L53.0,272.8 L53.9,271.6 L54.8,270.2 L55.9,268.7 L57.0,267.1 L58.2,265.3 L59.5,263.4 L60.9,261.5 L62.4,259.4 L63.9,257.4 L65.5,255.3 L67.2,253.2 L69.0,251.2 L70.8,249.4 L72.7,247.9 L74.6,246.6 L76.6,245.3 L78.7,244.2 L80.8,243.1 L83.0,242.3 L85.3,241.7 L87.6,241.2 L89.9,240.8 L92.3,240.4 L94.8,240.1 L97.3,239.9 L99.9,239.6 L102.5,239.4 L105.2,239.2 L107.9,239.1 L110.7,239.0 L113.6,238.9 L116.4,238.8 L119.4,238.8 L122.3,238.8 L125.4,238.7 L128.4,238.7 L131.6,238.7 L134.7,238.7 L137.9,238.7 L141.2,238.7 L144.5,238.7 L147.8,238.7 L151.2,238.6 L154.6,238.6 L158.1,238.6 L161.6,238.6 L165.2,238.6 L168.8,238.6 L172.4,238.6 L176.1,238.6 L179.8,238.6 L183.6,238.6 L187.4,238.6 L191.2,238.6 L195.1,238.6 L199.1,238.6" fill="none" stroke="#eb9563" stroke-width="1.3"/>
<path d="M51.1,277.9 L51.3,277.6 L51.7,277.0 L52.3,276.1 L53.0,275.0 L53.9,273.8 L54.8,272.4 L55.9,270.8 L57.0,269.1 L58.2,267.2 L59.5,265.2 L60.9,263.1 L62.4,261.0 L63.9,258.8 L65.5,256.5 L67.2,254.3 L69.0,252.2 L70.8,250.3 L72.7,248.7 L74.6,247.2 L76.6,245.9 L78.7,244.7 L80.8,243.6 L83.0,242.7 L85.3,242.0 L87.6,241.5 L89.9,241.0 L92.3,240.6 L94.8,240.3 L97.3,240.0 L99.9,239.8 L102.5,239.6 L105.2,239.4 L107.9,239.2 L110.7,239.1 L113.6,239.0 L116.4,238.9 L119.4,238.9 L122.3,238.8 L125.4,238.8 L128.4,238.8 L131.6,238.7 L134.7,238.7 L137.9,238.7 L141.2,238.7 L144.5,238.7 L147.8,238.7 L151.2,238.7 L154.6,238.7 L158.1,238.6 L161.6,238.6 L165.2,238.6 L168.8,238.6 L172.4,238.6 L176.1,238.6 L179.8,238.6 L183.6,238.6 L187.4,238.6 L191.2,238.6 L195.1,238.6 L199.1,238.6" fill="none" stroke="#eb9462" stroke-width="1.3"/>
<path d="M51.1,280.1 L51.3,279.8 L51.7,279.1 L52.3,278.2 L53.0,277.1 L53.9,275.8 L54.8,274.3 L55.9,272.7 L57.0,270.8 L58.2,268.9 L59.5,266.8 L60.9,264.6 L62.4,262.3 L63.9,260.0 L65.5,257.6 L67.2,255.3 L69.0,253.1 L70.8,251.1 L72.7,249.3 L74.6,247.8 L76.6,246.4 L78.7,245.1 L80.8,243.9 L83.0,243.0 L85.3,242.3 L87.6,241.7 L89.9,241.3 L92.3,240.8 L94.8,240.5 L97.3,240.2 L99.9,239.9 L102.5,239.7 L105.2,239.5 L107.9,239.3 L110.7,239.2 L113.6,239.1 L116.4,239.0 L119.4,238.9 L122.3,238.9 L125.4,238.8 L128.4,238.8 L131.6,238.8 L134.7,238.7 L137.9,238.7 L141.2,238.7 L144.5,238.7 L147.8,238.7 L151.2,238.7 L154.6,238.7 L158.1,238.7 L161.6,238.6 L165.2,238.6 L168.8,238.6 L172.4,238.6 L176.1,238.6 L179.8,238.6 L183.6,238.6 L187.4,238.6 L191.2,238.6 L195.1,238.6 L199.1,238.6" fill="none" stroke="#ea9361" stroke-width="1.3"/>
<path d="M51.1,282.1 L51.3,281.8 L51.7,281.1 L52.3,280.1 L53.0,279.0 L53.9,277.6 L54.8,276.1 L55.9,274.3 L57.0,272.4 L58.2,270.4 L59.5,268.2 L60.9,265.9 L62.4,263.6 L63.9,261.1 L65.5,258.7 L67.2,256.2 L69.0,253.9 L70.8,251.7 L72.7,249.9 L74.6,248.4 L76.6,246.9 L78.7,245.5 L80.8,244.3 L83.0,243.3 L85.3,242.6 L87.6,242.0 L89.9,241.5 L92.3,241.0 L94.8,240.7 L97.3,240.3 L99.9,240.0 L102.5,239.8 L105.2,239.6 L107.9,239.4 L110.7,239.3 L113.6,239.1 L116.4,239.0 L119.4,239.0 L122.3,238.9 L125.4,238.9 L128.4,238.8 L131.6,238.8 L134.7,238.8 L137.9,238.8 L141.2,238.7 L144.5,238.7 L147.8,238.7 L151.2,238.7 L154.6,238.7 L158.1,238.7 L161.6,238.7 L165.2,238.6 L168.8,238.6 L172.4,238.6 L176.1,238.6 L179.8,238.6 L183.6,238.6 L187.4,238.6 L191.2,238.6 L195.1,238.6 L199.1,238.6" fill="none" stroke="#ea9160" stroke-width="1.3"/>
<path d="M51.1,283.8 L51.3,283.5 L51.7,282.8 L52.3,281.8 L53.0,280.6 L53.9,279.2 L54.8,277.6 L55.9,275.8 L57.0,273.9 L58.2,271.7 L59.5,269.5 L60.9,267.1 L62.4,264.7 L63.9,262.1 L65.5,259.6 L67.2,257.0 L69.0,254.6 L70.8,252.4 L72.7,250.5 L74.6,248.8 L76.6,247.3 L78.7,245.9 L80.8,244.6 L83.0,243.6 L85.3,242.8 L87.6,242.2 L89.9,241.6 L92.3,241.2 L94.8,240.8 L97.3,240.5 L99.9,240.2 L102.5,239.9 L105.2,239.7 L107.9,239.5 L110.7,239.3 L113.6,239.2 L116.4,239.1 L119.4,239.0 L122.3,239.0 L125.4,238.9 L128.4,238.9 L131.6,238.8 L134.7,238.8 L137.9,238.8 L141.2,238.8 L144.5,238.7 L147.8,238.7 L151.2,238.7 L154.6,238.7 L158.1,238.7 L161.6,238.7 L165.2,238.6 L168.8,238.6 L172.4,238.6 L176.1,238.6 L179.8,238.6 L183.6,238.6 L187.4,238.6 L191.2,238.6 L195.1,238.6 L199.1,238.6" fill="none" stroke="#e9905f" stroke-width="1.3"/>
<path d="M51.1,285.4 L51.3,285.0 L51.7,284.3 L52.3,283.3 L53.0,282.0 L53.9,280.6 L54.8,279.0 L55.9,277.1 L57.0,275.1 L58.2,272.9 L59.5,270.6 L60.9,268.2 L62.4,265.6 L63.9,263.0 L65.5,260.3 L67.2,257.7 L69.0,255.2 L70.8,252.9 L72.7,251.0 L74.6,249.3 L76.6,247.7 L78.7,246.2 L80.8,244.8 L83.0,243.8 L85.3,243.0 L87.6,242.4 L89.9,241.8 L92.3,241.3 L94.8,240.9 L97.3,240.6 L99.9,240.3 L102.5,240.0 L105.2,239.8 L107.9,239.6 L110.7,239.4 L113.6,239.3 L116.4,239.1 L119.4,239.1 L122.3,239.0 L125.4,238.9 L128.4,238.9 L131.6,238.9 L134.7,238.8 L137.9,238.8 L141.2,238.8 L144.5,238.8 L147.8,238.7 L151.2,238.7 L154.6,238.7 L158.1,238.7 L161.6,238.7 L165.2,238.7 L168.8,238.6 L172.4,238.6 L176.1,238.6 L179.8,238.6 L183.6,238.6 L187.4,238.6 L191.2,238.6 L195.1,238.6 L199.1,238.6" fill="none" stroke="#e88e5e" stroke-width="1.3"/>
<path d="M51.1,286.7 L51.3,286.4 L51.7,285.6 L52.3,284.6 L53.0,283.3 L53.9,281.8 L54.8,280.2 L55.9,278.3 L57.0,276.2 L58.2,274.0 L59.5,271.6 L60.9,269.1 L62.4,266.5 L63.9,263.8 L65.5,261.0 L67.2,258.4 L69.0,255.8 L70.8,253.4 L72.7,251.4 L74.6,249.6 L76.6,248.0 L78.7,246.5 L80.8,245.1 L83.0,244.0 L85.3,243.2 L87.6,242.5 L89.9,241.9 L92.3,241.4 L94.8,241.0 L97.3,240.7 L99.9,240.3 L102.5,240.1 L105.2,239.8 L107.9,239.6 L110.7,239.5 L113.6,239.3 L116.4,239.2 L119.4,239.1 L122.3,239.0 L125.4,239.0 L128.4,238.9 L131.6,238.9 L134.7,238.8 L137.9,238.8 L141.2,238.8 L144.5,238.8 L147.8,238.7 L151.2,238.7 L154.6,238.7 L158.1,238.7 L161.6,238.7 L165.2,238.7 L168.8,238.6 L172.4,238.6 L176.1,238.6 L179.8,238.6 L183.6,238.6 L187.4,238.6 L191.2,238.6 L195.1,238.6 L199.1,238.6" fill="none" stroke="#e88d5d" stroke-width="1.3"/>
<path d="M51.1,287.9 L51.3,287.5 L51.7,286.8 L52.3,285.7 L53.0,284.4 L53.9,282.9 L54.8,281.2 L55.9,279.3 L57.0,277.2 L58.2,274.9 L59.5,272.4 L60.9,269.9 L62.4,267.2 L63.9,264.5 L65.5,261.6 L67.2,258.9 L69.0,256.2 L70.8,253.8 L72.7,251.7 L74.6,250.0 L76.6,248.3 L78.7,246.7 L80.8,245.3 L83.0,244.2 L85.3,243.3 L87.6,242.6 L89.9,242.1 L92.3,241.6 L94.8,241.1 L97.3,240.8 L99.9,240.4 L102.5,240.1 L105.2,239.9 L107.9,239.7 L110.7,239.5 L113.6,239.4 L116.4,239.2 L119.4,239.1 L122.3,239.0 L125.4,239.0 L128.4,238.9 L131.6,238.9 L134.7,238.9 L137.9,238.8 L141.2,238.8 L144.5,238.8 L147.8,238.8 L151.2,238.7 L154.6,238.7 L158.1,238.7 L161.6,238.7 L165.2,238.7 L168.8,238.6 L172.4,238.6 L176.1,238.6 L179.8,238.6 L183.6,238.6 L187.4,238.6 L191.2,238.6 L195.1,238.6 L199.1,238.6" fill="none" stroke="#e78b5c" stroke-width="1.3"/>
<path d="M51.1,288.9 L51.3,288.5 L51.7,287.7 L52.3,286.7 L53.0,285.4 L53.9,283.8 L54.8,282.1 L55.9,280.1 L57.0,278.0 L58.2,275.6 L59.5,273.2 L60.9,270.6 L62.4,267.8 L63.9,265.0 L65.5,262.2 L67.2,259.3 L69.0,256.6 L70.8,254.2 L72.7,252.1 L74.6,250.2 L76.6,248.5 L78.7,246.9 L80.8,245.5 L83.0,244.3 L85.3,243.4 L87.6,242.8 L89.9,242.2 L92.3,241.6 L94.8,241.2 L97.3,240.8 L99.9,240.5 L102.5,240.2 L105.2,239.9 L107.9,239.7 L110.7,239.6 L113.6,239.4 L116.4,239.3 L119.4,239.1 L122.3,239.1 L125.4,239.0 L128.4,239.0 L131.6,238.9 L134.7,238.9 L137.9,238.8 L141.2,238.8 L144.5,238.8 L147.8,238.8 L151.2,238.7 L154.6,238.7 L158.1,238.7 L161.6,238.7 L165.2,238.7 L168.8,238.6 L172.4,238.6 L176.1,238.6 L179.8,238.6 L183.6,238.6 L187.4,238.6 L191.2,238.6 L195.1,238.6 L199.1,238.6" fill="none" stroke="#e78a5c" stroke-width="1.3"/>
<path d="M51.1,289.8 L51.3,289.4 L51.7,288.6 L52.3,287.5 L53.0,286.2 L53.9,284.6 L54.8,282.8 L55.9,280.9 L57.0,278.7 L58.2,276.3 L59.5,273.8 L60.9,271.1 L62.4,268.3 L63.9,265.5 L65.5,262.6 L67.2,259.7 L69.0,257.0 L70.8,254.4 L72.7,252.3 L74.6,250.5 L76.6,248.7 L78.7,247.1 L80.8,245.6 L83.0,244.4 L85.3,243.6 L87.6,242.9 L89.9,242.3 L92.3,241.7 L94.8,241.3 L97.3,240.9 L99.9,240.5 L102.5,240.2 L105.2,240.0 L107.9,239.8 L110.7,239.6 L113.6,239.4 L116.4,239.3 L119.4,239.2 L122.3,239.1 L125.4,239.0 L128.4,239.0 L131.6,238.9 L134.7,238.9 L137.9,238.9 L141.2,238.8 L144.5,238.8 L147.8,238.8 L151.2,238.7 L154.6,238.7 L158.1,238.7 L161.6,238.7 L165.2,238.7 L168.8,238.7 L172.4,238.6 L176.1,238.6 L179.8,238.6 L183.6,238.6 L187.4,238.6 L191.2,238.6 L195.1,238.6 L199.1,238.6" fill="none" stroke="#e6895b" stroke-width="1.3"/>
<path d="M51.1,290.5 L51.3,290.1 L51.7,289.3 L52.3,288.2 L53.0,286.8 L53.9,285.3 L54.8,283.5 L55.9,281.5 L57.0,279.2 L58.2,276.8 L59.5,274.3 L60.9,271.6 L62.4,268.8 L63.9,265.9 L65.5,263.0 L67.2,260.1 L69.0,257.3 L70.8,254.7 L72.7,252.5 L74.6,250.6 L76.6,248.9 L78.7,247.2 L80.8,245.7 L83.0,244.5 L85.3,243.6 L87.6,242.9 L89.9,242.3 L92.3,241.8 L94.8,241.3 L97.3,240.9 L99.9,240.6 L102.5,240.3 L105.2,240.0 L107.9,239.8 L110.7,239.6 L113.6,239.4 L116.4,239.3 L119.4,239.2 L122.3,239.1 L125.4,239.0 L128.4,239.0 L131.6,238.9 L134.7,238.9 L137.9,238.9 L141.2,238.8 L144.5,238.8 L147.8,238.8 L151.2,238.7 L154.6,238.7 L158.1,238.7 L161.6,238.7 L165.2,238.7 L168.8,238.7 L172.4,238.6 L176.1,238.6 L179.8,238.6 L183.6,238.6 L187.4,238.6 L191.2,238.6 L195.1,238.6 L199.1,238.6" fill="none" stroke="#e5875a" stroke-width="1.3"/>
<path d="M51.1,291.0 L51.3,290.6 L51.7,289.8 L52.3,288.7 L53.0,287.4 L53.9,285.8 L54.8,284.0 L55.9,282.0 L57.0,279.7 L58.2,277.3 L59.5,274.7 L60.9,272.0 L62.4,269.2 L63.9,266.2 L65.5,263.3 L67.2,260.3 L69.0,257.5 L70.8,254.9 L72.7,252.7 L74.6,250.8 L76.6,249.0 L78.7,247.4 L80.8,245.8 L83.0,244.6 L85.3,243.7 L87.6,243.0 L89.9,242.4 L92.3,241.8 L94.8,241.4 L97.3,241.0 L99.9,240.6 L102.5,240.3 L105.2,240.0 L107.9,239.8 L110.7,239.6 L113.6,239.5 L116.4,239.3 L119.4,239.2 L122.3,239.1 L125.4,239.0 L128.4,239.0 L131.6,238.9 L134.7,238.9 L137.9,238.9 L141.2,238.8 L144.5,238.8 L147.8,238.8 L151.2,238.8 L154.6,238.7 L158.1,238.7 L161.6,238.7 L165.2,238.7 L168.8,238.7 L172.4,238.6 L176.1,238.6 L179.8,238.6 L183.6,238.6 L187.4,238.6 L191.2,238.6 L195.1,238.6 L199.1,238.6" fill="none" stroke="#e58659" stroke-width="1.3"/>
<path d="M51.1,291.5 L51.3,291.1 L51.7,290.3 L52.3,289.2 L53.0,287.8 L53.9,286.2 L54.8,284.4 L55.9,282.4 L57.0,280.1 L58.2,277.7 L59.5,275.1 L60.9,272.3 L62.4,269.4 L63.9,266.5 L65.5,263.5 L67.2,260.5 L69.0,257.7 L70.8,255.1 L72.7,252.9 L74.6,250.9 L76.6,249.1 L78.7,247.4 L80.8,245.9 L83.0,244.7 L85.3,243.8 L87.6,243.1 L89.9,242.4 L92.3,241.9 L94.8,241.4 L97.3,241.0 L99.9,240.7 L102.5,240.3 L105.2,240.1 L107.9,239.9 L110.7,239.7 L113.6,239.5 L116.4,239.3 L119.4,239.2 L122.3,239.1 L125.4,239.1 L128.4,239.0 L131.6,239.0 L134.7,238.9 L137.9,238.9 L141.2,238.8 L144.5,238.8 L147.8,238.8 L151.2,238.8 L154.6,238.7 L158.1,238.7 L161.6,238.7 L165.2,238.7 L168.8,238.7 L172.4,238.6 L176.1,238.6 L179.8,238.6 L183.6,238.6 L187.4,238.6 L191.2,238.6 L195.1,238.6 L199.1,238.6" fill="none" stroke="#e48458" stroke-width="1.3"/>
<path d="M51.1,291.9 L51.3,291.5 L51.7,290.6 L52.3,289.5 L53.0,288.1 L53.9,286.5 L54.8,284.7 L55.9,282.7 L57.0,280.4 L58.2,277.9 L59.5,275.3 L60.9,272.6 L62.4,269.7 L63.9,266.7 L65.5,263.7 L67.2,260.7 L69.0,257.8 L70.8,255.2 L72.7,253.0 L74.6,251.0 L76.6,249.2 L78.7,247.5 L80.8,246.0 L83.0,244.7 L85.3,243.8 L87.6,243.1 L89.9,242.5 L92.3,241.9 L94.8,241.5 L97.3,241.0 L99.9,240.7 L102.5,240.4 L105.2,240.1 L107.9,239.9 L110.7,239.7 L113.6,239.5 L116.4,239.3 L119.4,239.2 L122.3,239.1 L125.4,239.1 L128.4,239.0 L131.6,239.0 L134.7,238.9 L137.9,238.9 L141.2,238.8 L144.5,238.8 L147.8,238.8 L151.2,238.8 L154.6,238.7 L158.1,238.7 L161.6,238.7 L165.2,238.7 L168.8,238.7 L172.4,238.6 L176.1,238.6 L179.8,238.6 L183.6,238.6 L187.4,238.6 L191.2,238.6 L195.1,238.6 L199.1,238.6" fill="none" stroke="#e08256" stroke-width="1.3"/>
<path d="M51.1,292.1 L51.3,291.7 L51.7,290.9 L52.3,289.8 L53.0,288.4 L53.9,286.8 L54.8,285.0 L55.9,282.9 L57.0,280.6 L58.2,278.1 L59.5,275.5 L60.9,272.7 L62.4,269.8 L63.9,266.9 L65.5,263.8 L67.2,260.8 L69.0,257.9 L70.8,255.3 L72.7,253.1 L74.6,251.1 L76.6,249.3 L78.7,247.6 L80.8,246.0 L83.0,244.8 L85.3,243.9 L87.6,243.1 L89.9,242.5 L92.3,241.9 L94.8,241.5 L97.3,241.1 L99.9,240.7 L102.5,240.4 L105.2,240.1 L107.9,239.9 L110.7,239.7 L113.6,239.5 L116.4,239.3 L119.4,239.2 L122.3,239.1 L125.4,239.1 L128.4,239.0 L131.6,239.0 L134.7,238.9 L137.9,238.9 L141.2,238.8 L144.5,238.8 L147.8,238.8 L151.2,238.8 L154.6,238.7 L158.1,238.7 L161.6,238.7 L165.2,238.7 L168.8,238.7 L172.4,238.6 L176.1,238.6 L179.8,238.6 L183.6,238.6 L187.4,238.6 L191.2,238.6 L195.1,238.6 L199.1,238.6" fill="none" stroke="#dc7f54" stroke-width="1.3"/>
<path d="M51.1,292.3 L51.3,291.9 L51.7,291.1 L52.3,290.0 L53.0,288.6 L53.9,287.0 L54.8,285.1 L55.9,283.1 L57.0,280.8 L58.2,278.3 L59.5,275.7 L60.9,272.9 L62.4,270.0 L63.9,267.0 L65.5,263.9 L67.2,260.9 L69.0,258.0 L70.8,255.4 L72.7,253.1 L74.6,251.2 L76.6,249.3 L78.7,247.6 L80.8,246.0 L83.0,244.8 L85.3,243.9 L87.6,243.2 L89.9,242.5 L92.3,242.0 L94.8,241.5 L97.3,241.1 L99.9,240.7 L102.5,240.4 L105.2,240.1 L107.9,239.9 L110.7,239.7 L113.6,239.5 L116.4,239.4 L119.4,239.2 L122.3,239.1 L125.4,239.1 L128.4,239.0 L131.6,239.0 L134.7,238.9 L137.9,238.9 L141.2,238.8 L144.5,238.8 L147.8,238.8 L151.2,238.8 L154.6,238.7 L158.1,238.7 L161.6,238.7 L165.2,238.7 L168.8,238.7 L172.4,238.6 L176.1,238.6 L179.8,238.6 L183.6,238.6 L187.4,238.6 L191.2,238.6 L195.1,238.6 L199.1,238.6" fill="none" stroke="#d77c52" stroke-width="1.3"/>
<path d="M51.1,292.5 L51.3,292.1 L51.7,291.2 L52.3,290.1 L53.0,288.7 L53.9,287.1 L54.8,285.2 L55.9,283.2 L57.0,280.9 L58.2,278.4 L59.5,275.8 L60.9,273.0 L62.4,270.0 L63.9,267.1 L65.5,264.0 L67.2,261.0 L69.0,258.1 L70.8,255.4 L72.7,253.2 L74.6,251.2 L76.6,249.4 L78.7,247.6 L80.8,246.1 L83.0,244.8 L85.3,243.9 L87.6,243.2 L89.9,242.5 L92.3,242.0 L94.8,241.5 L97.3,241.1 L99.9,240.7 L102.5,240.4 L105.2,240.1 L107.9,239.9 L110.7,239.7 L113.6,239.5 L116.4,239.4 L119.4,239.2 L122.3,239.1 L125.4,239.1 L128.4,239.0 L131.6,239.0 L134.7,238.9 L137.9,238.9 L141.2,238.9 L144.5,238.8 L147.8,238.8 L151.2,238.8 L154.6,238.7 L158.1,238.7 L161.6,238.7 L165.2,238.7 L168.8,238.7 L172.4,238.6 L176.1,238.6 L179.8,238.6 L183.6,238.6 L187.4,238.6 L191.2,238.6 L195.1,238.6 L199.1,238.6" fill="none" stroke="#d37a50" stroke-width="1.3"/>
<path d="M51.1,292.5 L51.3,292.1 L51.7,291.3 L52.3,290.2 L53.0,288.8 L53.9,287.2 L54.8,285.3 L55.9,283.2 L57.0,280.9 L58.2,278.5 L59.5,275.8 L60.9,273.0 L62.4,270.1 L63.9,267.1 L65.5,264.0 L67.2,261.0 L69.0,258.1 L70.8,255.4 L72.7,253.2 L74.6,251.2 L76.6,249.4 L78.7,247.7 L80.8,246.1 L83.0,244.8 L85.3,243.9 L87.6,243.2 L89.9,242.5 L92.3,242.0 L94.8,241.5 L97.3,241.1 L99.9,240.7 L102.5,240.4 L105.2,240.1 L107.9,239.9 L110.7,239.7 L113.6,239.5 L116.4,239.4 L119.4,239.2 L122.3,239.2 L125.4,239.1 L128.4,239.0 L131.6,239.0 L134.7,238.9 L137.9,238.9 L141.2,238.9 L144.5,238.8 L147.8,238.8 L151.2,238.8 L154.6,238.7 L158.1,238.7 L161.6,238.7 L165.2,238.7 L168.8,238.7 L172.4,238.6 L176.1,238.6 L179.8,238.6 L183.6,238.6 L187.4,238.6 L191.2,238.6 L195.1,238.6 L199.1,238.6" fill="none" stroke="#ce774e" stroke-width="1.3"/>
<path d="M51.1,292.6 L51.3,292.2 L51.7,291.3 L52.3,290.2 L53.0,288.8 L53.9,287.2 L54.8,285.3 L55.9,283.3 L57.0,281.0 L58.2,278.5 L59.5,275.8 L60.9,273.0 L62.4,270.1 L63.9,267.1 L65.5,264.0 L67.2,261.0 L69.0,258.1 L70.8,255.4 L72.7,253.2 L74.6,251.2 L76.6,249.4 L78.7,247.7 L80.8,246.1 L83.0,244.9 L85.3,243.9 L87.6,243.2 L89.9,242.5 L92.3,242.0 L94.8,241.5 L97.3,241.1 L99.9,240.7 L102.5,240.4 L105.2,240.1 L107.9,239.9 L110.7,239.7 L113.6,239.5 L116.4,239.4 L119.4,239.2 L122.3,239.2 L125.4,239.1 L128.4,239.0 L131.6,239.0 L134.7,238.9 L137.9,238.9 L141.2,238.9 L144.5,238.8 L147.8,238.8 L151.2,238.8 L154.6,238.7 L158.1,238.7 L161.6,238.7 L165.2,238.7 L168.8,238.7 L172.4,238.6 L176.1,238.6 L179.8,238.6 L183.6,238.6 L187.4,238.6 L191.2,238.6 L195.1,238.6 L199.1,238.6" fill="none" stroke="#ca754c" stroke-width="1.3"/>
<path d="M51.1,292.6 L51.3,292.2 L51.7,291.4 L52.3,290.2 L53.0,288.8 L53.9,287.2 L54.8,285.4 L55.9,283.3 L57.0,281.0 L58.2,278.5 L59.5,275.9 L60.9,273.1 L62.4,270.1 L63.9,267.1 L65.5,264.1 L67.2,261.0 L69.0,258.1 L70.8,255.5 L72.7,253.2 L74.6,251.2 L76.6,249.4 L78.7,247.7 L80.8,246.1 L83.0,244.9 L85.3,243.9 L87.6,243.2 L89.9,242.5 L92.3,242.0 L94.8,241.5 L97.3,241.1 L99.9,240.7 L102.5,240.4 L105.2,240.1 L107.9,239.9 L110.7,239.7 L113.6,239.5 L116.4,239.4 L119.4,239.2 L122.3,239.2 L125.4,239.1 L128.4,239.0 L131.6,239.0 L134.7,238.9 L137.9,238.9 L141.2,238.9 L144.5,238.8 L147.8,238.8 L151.2,238.8 L154.6,238.7 L158.1,238.7 L161.6,238.7 L165.2,238.7 L168.8,238.7 L172.4,238.6 L176.1,238.6 L179.8,238.6 L183.6,238.6 L187.4,238.6 L191.2,238.6 L195.1,238.6 L199.1,238.6" fill="none" stroke="#c5724a" stroke-width="1.3"/>
<path d="M51.1,292.6 L51.3,292.2 L51.7,291.4 L52.3,290.2 L53.0,288.8 L53.9,287.2 L54.8,285.4 L55.9,283.3 L57.0,281.0 L58.2,278.5 L59.5,275.9 L60.9,273.1 L62.4,270.1 L63.9,267.1 L65.5,264.1 L67.2,261.0 L69.0,258.1 L70.8,255.5 L72.7,253.2 L74.6,251.2 L76.6,249.4 L78.7,247.7 L80.8,246.1 L83.0,244.9 L85.3,243.9 L87.6,243.2 L89.9,242.5 L92.3,242.0 L94.8,241.5 L97.3,241.1 L99.9,240.7 L102.5,240.4 L105.2,240.1 L107.9,239.9 L110.7,239.7 L113.6,239.5 L116.4,239.4 L119.4,239.2 L122.3,239.2 L125.4,239.1 L128.4,239.0 L131.6,239.0 L134.7,238.9 L137.9,238.9 L141.2,238.9 L144.5,238.8 L147.8,238.8 L151.2,238.8 L154.6,238.7 L158.1,238.7 L161.6,238.7 L165.2,238.7 L168.8,238.7 L172.4,238.6 L176.1,238.6 L179.8,238.6 L183.6,238.6 L187.4,238.6 L191.2,238.6 L195.1,238.6 L199.1,238.6" fill="none" stroke="#c16f48" stroke-width="1.3"/>
<path d="M51.10,292.60 C51.75,291.33 53.67,287.65 55.00,285.00 C56.33,282.35 57.72,279.48 59.10,276.70 C60.48,273.92 61.92,270.97 63.30,268.30 C64.68,265.63 66.02,263.02 67.40,260.70 C68.78,258.38 69.97,256.37 71.60,254.40 C73.23,252.43 75.35,250.47 77.20,248.90 C79.05,247.33 80.62,246.05 82.70,245.00 C84.78,243.95 87.15,243.27 89.70,242.60 C92.25,241.93 94.95,241.45 98.00,241.00 C101.05,240.55 103.60,240.22 108.00,239.90 C112.40,239.58 115.73,239.30 124.40,239.10 C133.07,238.90 147.56,238.78 160.00,238.70 C172.44,238.62 192.55,238.62 199.06,238.60" fill="none" stroke="#000" stroke-width="2.6" stroke-linejoin="round"/>
<path d="M282.4,242.2 L282.5,242.4 L282.7,242.6 L282.9,242.9 L283.1,243.2 L283.4,243.5 L283.7,243.8 L283.9,244.1 L284.2,244.4 L284.5,244.7 L284.8,244.9 L285.1,245.1 L285.3,245.3 L285.5,245.4 L285.8,245.6 L286.1,245.7 L286.3,245.9 L286.7,246.0 L287.0,246.1 L287.5,246.1 L288.0,246.2 L288.6,246.3 L289.2,246.3 L289.8,246.3 L290.5,246.4 L291.2,246.4 L292.0,246.3 L292.9,246.3 L293.8,246.2 L294.9,246.1 L296.0,245.9 L297.3,245.7 L298.7,245.3 L300.2,245.0 L301.8,244.5 L303.5,244.1 L305.2,243.7 L306.9,243.2 L308.7,242.8 L310.4,242.5 L312.0,242.2 L313.5,242.0 L314.9,241.8 L316.3,241.7 L317.6,241.5 L319.0,241.4 L320.4,241.4 L322.0,241.3 L323.8,241.2 L325.8,241.2 L328.0,241.1 L330.4,241.0 L332.8,241.0 L335.2,240.9 L337.8,240.8 L340.6,240.8 L343.6,240.7 L347.0,240.7 L350.9,240.7 L355.2,240.6 L360.0,240.6 L365.8,240.6 L372.8,240.6 L380.6,240.6 L389.0,240.6 L397.4,240.6 L405.8,240.6 L413.6,240.6 L420.6,240.6 L426.5,240.6 L430.9,240.6 L430.9,240.7 L426.4,240.7 L420.4,240.8 L413.1,240.8 L405.0,240.8 L396.4,240.9 L387.8,240.9 L379.5,241.0 L371.8,241.0 L365.2,241.1 L360.0,241.1 L356.2,241.1 L353.3,241.2 L351.1,241.2 L349.5,241.3 L348.4,241.3 L347.6,241.4 L346.9,241.5 L346.2,241.5 L345.3,241.6 L344.1,241.7 L342.7,241.8 L341.3,241.9 L339.9,242.0 L338.6,242.1 L337.3,242.2 L336.0,242.4 L334.8,242.5 L333.6,242.7 L332.4,242.8 L331.3,243.0 L330.2,243.2 L329.1,243.4 L328.1,243.6 L327.2,243.8 L326.2,244.0 L325.3,244.3 L324.4,244.5 L323.5,244.8 L322.6,245.1 L321.7,245.4 L320.8,245.7 L320.0,246.1 L319.1,246.4 L318.3,246.8 L317.5,247.2 L316.7,247.6 L315.9,248.0 L315.1,248.5 L314.4,248.9 L313.7,249.4 L313.0,249.9 L312.4,250.4 L311.8,250.9 L311.2,251.4 L310.7,251.9 L310.2,252.5 L309.6,253.0 L309.1,253.6 L308.6,254.3 L308.0,255.0 L307.4,255.7 L306.9,256.5 L306.3,257.4 L305.8,258.2 L305.2,259.1 L304.7,260.0 L304.1,260.9 L303.6,261.9 L303.0,262.8 L302.4,263.8 L301.8,264.8 L301.2,265.8 L300.5,266.8 L299.9,267.9 L299.2,269.0 L298.6,270.0 L297.9,271.1 L297.3,272.2 L296.6,273.2 L296.0,274.3 L295.4,275.3 L294.7,276.4 L294.1,277.4 L293.5,278.4 L292.9,279.4 L292.2,280.4 L291.6,281.5 L290.9,282.5 L290.3,283.6 L289.6,284.7 L288.9,285.9 L288.1,287.2 L287.3,288.6 L286.4,290.0 L285.6,291.4 L284.8,292.7 L284.1,293.9 L283.4,295.0 L282.8,296.0 L282.4,296.7 Z" fill="#e98f5f"/>
<path d="M282.4,242.2 L282.6,242.5 L283.0,243.0 L283.6,243.7 L284.3,244.5 L285.2,245.2 L286.1,245.8 L287.2,246.1 L288.3,246.2 L289.5,246.3 L290.8,246.4 L292.2,246.3 L293.7,246.2 L295.3,246.0 L296.9,245.7 L298.6,245.4 L300.3,244.9 L302.1,244.5 L304.0,244.0 L306.0,243.5 L308.0,243.0 L310.1,242.5 L312.2,242.2 L314.4,241.9 L316.7,241.6 L319.0,241.5 L321.4,241.3 L323.8,241.2 L326.3,241.2 L328.8,241.1 L331.4,241.0 L334.0,240.9 L336.7,240.9 L339.5,240.8 L342.2,240.8 L345.1,240.7 L348.0,240.7 L350.9,240.7 L353.9,240.6 L356.9,240.6 L360.0,240.6 L363.1,240.6 L366.3,240.6 L369.5,240.6 L372.8,240.6 L376.1,240.6 L379.5,240.6 L382.9,240.6 L386.3,240.6 L389.8,240.6 L393.3,240.6 L396.9,240.6 L400.5,240.6 L404.2,240.6 L407.9,240.6 L411.6,240.6 L415.4,240.6 L419.2,240.6 L423.1,240.6 L427.0,240.6 L430.9,240.6" fill="none" stroke="#ee9a66" stroke-width="1.2"/>
<path d="M282.4,244.2 L282.6,244.5 L283.0,245.0 L283.6,245.6 L284.3,246.3 L285.2,246.9 L286.1,247.4 L287.2,247.7 L288.3,247.7 L289.5,247.7 L290.8,247.7 L292.2,247.6 L293.7,247.4 L295.3,247.1 L296.9,246.7 L298.6,246.3 L300.3,245.8 L302.1,245.2 L304.0,244.6 L306.0,244.0 L308.0,243.4 L310.1,242.9 L312.2,242.5 L314.4,242.1 L316.7,241.8 L319.0,241.6 L321.4,241.5 L323.8,241.4 L326.3,241.3 L328.8,241.2 L331.4,241.1 L334.0,241.0 L336.7,240.9 L339.5,240.8 L342.2,240.8 L345.1,240.8 L348.0,240.7 L350.9,240.7 L353.9,240.7 L356.9,240.6 L360.0,240.6 L363.1,240.6 L366.3,240.6 L369.5,240.6 L372.8,240.6 L376.1,240.6 L379.5,240.6 L382.9,240.6 L386.3,240.6 L389.8,240.6 L393.3,240.6 L396.9,240.6 L400.5,240.6 L404.2,240.6 L407.9,240.6 L411.6,240.6 L415.4,240.6 L419.2,240.6 L423.1,240.6 L427.0,240.6 L430.9,240.6" fill="none" stroke="#ed9864" stroke-width="1.2"/>
<path d="M282.4,246.2 L282.6,246.4 L283.0,246.9 L283.6,247.5 L284.3,248.1 L285.2,248.6 L286.1,249.1 L287.2,249.2 L288.3,249.2 L289.5,249.1 L290.8,249.0 L292.2,248.8 L293.7,248.5 L295.3,248.2 L296.9,247.7 L298.6,247.2 L300.3,246.6 L302.1,245.9 L304.0,245.2 L306.0,244.5 L308.0,243.9 L310.1,243.3 L312.2,242.8 L314.4,242.4 L316.7,242.1 L319.0,241.8 L321.4,241.6 L323.8,241.5 L326.3,241.4 L328.8,241.2 L331.4,241.1 L334.0,241.0 L336.7,241.0 L339.5,240.9 L342.2,240.8 L345.1,240.8 L348.0,240.7 L350.9,240.7 L353.9,240.7 L356.9,240.7 L360.0,240.6 L363.1,240.6 L366.3,240.6 L369.5,240.6 L372.8,240.6 L376.1,240.6 L379.5,240.6 L382.9,240.6 L386.3,240.6 L389.8,240.6 L393.3,240.6 L396.9,240.6 L400.5,240.6 L404.2,240.6 L407.9,240.6 L411.6,240.6 L415.4,240.6 L419.2,240.6 L423.1,240.6 L427.0,240.6 L430.9,240.6" fill="none" stroke="#ec9663" stroke-width="1.2"/>
<path d="M282.4,248.2 L282.6,248.3 L283.0,248.8 L283.6,249.3 L284.3,249.9 L285.2,250.3 L286.1,250.7 L287.2,250.7 L288.3,250.7 L289.5,250.5 L290.8,250.3 L292.2,250.0 L293.7,249.7 L295.3,249.2 L296.9,248.7 L298.6,248.1 L300.3,247.4 L302.1,246.6 L304.0,245.8 L306.0,245.0 L308.0,244.3 L310.1,243.6 L312.2,243.1 L314.4,242.6 L316.7,242.3 L319.0,242.0 L321.4,241.8 L323.8,241.6 L326.3,241.5 L328.8,241.3 L331.4,241.2 L334.0,241.1 L336.7,241.0 L339.5,240.9 L342.2,240.9 L345.1,240.8 L348.0,240.8 L350.9,240.7 L353.9,240.7 L356.9,240.7 L360.0,240.7 L363.1,240.6 L366.3,240.6 L369.5,240.6 L372.8,240.6 L376.1,240.6 L379.5,240.6 L382.9,240.6 L386.3,240.6 L389.8,240.6 L393.3,240.6 L396.9,240.6 L400.5,240.6 L404.2,240.6 L407.9,240.6 L411.6,240.6 L415.4,240.6 L419.2,240.6 L423.1,240.6 L427.0,240.6 L430.9,240.6" fill="none" stroke="#eb9562" stroke-width="1.2"/>
<path d="M282.4,250.1 L282.6,250.3 L283.0,250.6 L283.6,251.1 L284.3,251.6 L285.2,252.0 L286.1,252.2 L287.2,252.3 L288.3,252.1 L289.5,251.9 L290.8,251.6 L292.2,251.3 L293.7,250.8 L295.3,250.3 L296.9,249.7 L298.6,248.9 L300.3,248.2 L302.1,247.3 L304.0,246.4 L306.0,245.6 L308.0,244.7 L310.1,244.0 L312.2,243.4 L314.4,242.9 L316.7,242.5 L319.0,242.2 L321.4,241.9 L323.8,241.7 L326.3,241.6 L328.8,241.4 L331.4,241.3 L334.0,241.2 L336.7,241.1 L339.5,241.0 L342.2,240.9 L345.1,240.8 L348.0,240.8 L350.9,240.7 L353.9,240.7 L356.9,240.7 L360.0,240.7 L363.1,240.7 L366.3,240.6 L369.5,240.6 L372.8,240.6 L376.1,240.6 L379.5,240.6 L382.9,240.6 L386.3,240.6 L389.8,240.6 L393.3,240.6 L396.9,240.6 L400.5,240.6 L404.2,240.6 L407.9,240.6 L411.6,240.6 L415.4,240.6 L419.2,240.6 L423.1,240.6 L427.0,240.6 L430.9,240.6" fill="none" stroke="#ea9361" stroke-width="1.2"/>
<path d="M282.4,252.0 L282.6,252.1 L283.0,252.5 L283.6,252.9 L284.3,253.3 L285.2,253.6 L286.1,253.8 L287.2,253.7 L288.3,253.5 L289.5,253.2 L290.8,252.9 L292.2,252.4 L293.7,251.9 L295.3,251.3 L296.9,250.6 L298.6,249.8 L300.3,248.9 L302.1,248.0 L304.0,247.0 L306.0,246.1 L308.0,245.1 L310.1,244.3 L312.2,243.7 L314.4,243.1 L316.7,242.7 L319.0,242.4 L321.4,242.1 L323.8,241.9 L326.3,241.7 L328.8,241.5 L331.4,241.4 L334.0,241.2 L336.7,241.1 L339.5,241.0 L342.2,240.9 L345.1,240.9 L348.0,240.8 L350.9,240.8 L353.9,240.7 L356.9,240.7 L360.0,240.7 L363.1,240.7 L366.3,240.7 L369.5,240.7 L372.8,240.6 L376.1,240.6 L379.5,240.6 L382.9,240.6 L386.3,240.6 L389.8,240.6 L393.3,240.6 L396.9,240.6 L400.5,240.6 L404.2,240.6 L407.9,240.6 L411.6,240.6 L415.4,240.6 L419.2,240.6 L423.1,240.6 L427.0,240.6 L430.9,240.6" fill="none" stroke="#e99160" stroke-width="1.2"/>
<path d="M282.4,253.8 L282.6,254.0 L283.0,254.3 L283.6,254.6 L284.3,255.0 L285.2,255.2 L286.1,255.3 L287.2,255.2 L288.3,254.9 L289.5,254.5 L290.8,254.1 L292.2,253.6 L293.7,253.0 L295.3,252.3 L296.9,251.5 L298.6,250.6 L300.3,249.7 L302.1,248.7 L304.0,247.6 L306.0,246.5 L308.0,245.5 L310.1,244.7 L312.2,244.0 L314.4,243.4 L316.7,242.9 L319.0,242.5 L321.4,242.2 L323.8,242.0 L326.3,241.8 L328.8,241.6 L331.4,241.4 L334.0,241.3 L336.7,241.2 L339.5,241.1 L342.2,241.0 L345.1,240.9 L348.0,240.8 L350.9,240.8 L353.9,240.8 L356.9,240.7 L360.0,240.7 L363.1,240.7 L366.3,240.7 L369.5,240.7 L372.8,240.7 L376.1,240.7 L379.5,240.6 L382.9,240.6 L386.3,240.6 L389.8,240.6 L393.3,240.6 L396.9,240.6 L400.5,240.6 L404.2,240.6 L407.9,240.6 L411.6,240.6 L415.4,240.6 L419.2,240.6 L423.1,240.6 L427.0,240.6 L430.9,240.6" fill="none" stroke="#e98f5e" stroke-width="1.2"/>
<path d="M282.4,255.7 L282.6,255.8 L283.0,256.0 L283.6,256.3 L284.3,256.6 L285.2,256.8 L286.1,256.8 L287.2,256.6 L288.3,256.3 L289.5,255.8 L290.8,255.3 L292.2,254.8 L293.7,254.1 L295.3,253.3 L296.9,252.4 L298.6,251.5 L300.3,250.4 L302.1,249.3 L304.0,248.2 L306.0,247.0 L308.0,246.0 L310.1,245.0 L312.2,244.2 L314.4,243.6 L316.7,243.1 L319.0,242.7 L321.4,242.4 L323.8,242.1 L326.3,241.9 L328.8,241.7 L331.4,241.5 L334.0,241.3 L336.7,241.2 L339.5,241.1 L342.2,241.0 L345.1,240.9 L348.0,240.9 L350.9,240.8 L353.9,240.8 L356.9,240.7 L360.0,240.7 L363.1,240.7 L366.3,240.7 L369.5,240.7 L372.8,240.7 L376.1,240.7 L379.5,240.7 L382.9,240.7 L386.3,240.7 L389.8,240.6 L393.3,240.6 L396.9,240.6 L400.5,240.6 L404.2,240.6 L407.9,240.6 L411.6,240.6 L415.4,240.6 L419.2,240.6 L423.1,240.6 L427.0,240.6 L430.9,240.6" fill="none" stroke="#e88d5d" stroke-width="1.2"/>
<path d="M282.4,257.5 L282.6,257.6 L283.0,257.8 L283.6,258.0 L284.3,258.2 L285.2,258.3 L286.1,258.3 L287.2,258.1 L288.3,257.6 L289.5,257.1 L290.8,256.5 L292.2,255.9 L293.7,255.1 L295.3,254.3 L296.9,253.3 L298.6,252.3 L300.3,251.2 L302.1,250.0 L304.0,248.8 L306.0,247.5 L308.0,246.4 L310.1,245.3 L312.2,244.5 L314.4,243.8 L316.7,243.3 L319.0,242.9 L321.4,242.5 L323.8,242.2 L326.3,242.0 L328.8,241.7 L331.4,241.6 L334.0,241.4 L336.7,241.3 L339.5,241.2 L342.2,241.1 L345.1,241.0 L348.0,240.9 L350.9,240.8 L353.9,240.8 L356.9,240.8 L360.0,240.7 L363.1,240.7 L366.3,240.7 L369.5,240.7 L372.8,240.7 L376.1,240.7 L379.5,240.7 L382.9,240.7 L386.3,240.7 L389.8,240.7 L393.3,240.7 L396.9,240.7 L400.5,240.6 L404.2,240.6 L407.9,240.6 L411.6,240.6 L415.4,240.6 L419.2,240.6 L423.1,240.6 L427.0,240.6 L430.9,240.6" fill="none" stroke="#e78b5c" stroke-width="1.2"/>
<path d="M282.4,259.3 L282.6,259.3 L283.0,259.5 L283.6,259.7 L284.3,259.8 L285.2,259.9 L286.1,259.8 L287.2,259.4 L288.3,258.9 L289.5,258.4 L290.8,257.7 L292.2,257.0 L293.7,256.2 L295.3,255.3 L296.9,254.2 L298.6,253.1 L300.3,251.9 L302.1,250.6 L304.0,249.3 L306.0,248.0 L308.0,246.7 L310.1,245.7 L312.2,244.8 L314.4,244.1 L316.7,243.5 L319.0,243.0 L321.4,242.6 L323.8,242.3 L326.3,242.1 L328.8,241.8 L331.4,241.6 L334.0,241.4 L336.7,241.3 L339.5,241.2 L342.2,241.1 L345.1,241.0 L348.0,240.9 L350.9,240.8 L353.9,240.8 L356.9,240.8 L360.0,240.8 L363.1,240.7 L366.3,240.7 L369.5,240.7 L372.8,240.7 L376.1,240.7 L379.5,240.7 L382.9,240.7 L386.3,240.7 L389.8,240.7 L393.3,240.7 L396.9,240.7 L400.5,240.7 L404.2,240.7 L407.9,240.7 L411.6,240.6 L415.4,240.6 L419.2,240.6 L423.1,240.6 L427.0,240.6 L430.9,240.6" fill="none" stroke="#e6895b" stroke-width="1.2"/>
<path d="M282.4,261.0 L282.6,261.1 L283.0,261.2 L283.6,261.3 L284.3,261.4 L285.2,261.4 L286.1,261.2 L287.2,260.8 L288.3,260.2 L289.5,259.6 L290.8,258.9 L292.2,258.1 L293.7,257.2 L295.3,256.2 L296.9,255.1 L298.6,253.9 L300.3,252.6 L302.1,251.3 L304.0,249.9 L306.0,248.4 L308.0,247.1 L310.1,246.0 L312.2,245.1 L314.4,244.3 L316.7,243.7 L319.0,243.2 L321.4,242.8 L323.8,242.4 L326.3,242.1 L328.8,241.9 L331.4,241.7 L334.0,241.5 L336.7,241.4 L339.5,241.2 L342.2,241.1 L345.1,241.0 L348.0,240.9 L350.9,240.9 L353.9,240.8 L356.9,240.8 L360.0,240.8 L363.1,240.8 L366.3,240.7 L369.5,240.7 L372.8,240.7 L376.1,240.7 L379.5,240.7 L382.9,240.7 L386.3,240.7 L389.8,240.7 L393.3,240.7 L396.9,240.7 L400.5,240.7 L404.2,240.7 L407.9,240.7 L411.6,240.7 L415.4,240.7 L419.2,240.6 L423.1,240.6 L427.0,240.6 L430.9,240.6" fill="none" stroke="#e5875a" stroke-width="1.2"/>
<path d="M282.4,262.7 L282.6,262.8 L283.0,262.8 L283.6,262.9 L284.3,262.9 L285.2,262.8 L286.1,262.6 L287.2,262.1 L288.3,261.5 L289.5,260.8 L290.8,260.0 L292.2,259.2 L293.7,258.2 L295.3,257.1 L296.9,256.0 L298.6,254.7 L300.3,253.3 L302.1,251.9 L304.0,250.4 L306.0,248.9 L308.0,247.5 L310.1,246.3 L312.2,245.3 L314.4,244.5 L316.7,243.9 L319.0,243.3 L321.4,242.9 L323.8,242.5 L326.3,242.2 L328.8,242.0 L331.4,241.7 L334.0,241.6 L336.7,241.4 L339.5,241.3 L342.2,241.2 L345.1,241.1 L348.0,240.9 L350.9,240.9 L353.9,240.8 L356.9,240.8 L360.0,240.8 L363.1,240.8 L366.3,240.8 L369.5,240.7 L372.8,240.7 L376.1,240.7 L379.5,240.7 L382.9,240.7 L386.3,240.7 L389.8,240.7 L393.3,240.7 L396.9,240.7 L400.5,240.7 L404.2,240.7 L407.9,240.7 L411.6,240.7 L415.4,240.7 L419.2,240.7 L423.1,240.6 L427.0,240.6 L430.9,240.6" fill="none" stroke="#e48559" stroke-width="1.2"/>
<path d="M282.4,264.4 L282.6,264.4 L283.0,264.5 L283.6,264.5 L284.3,264.5 L285.2,264.3 L286.1,264.0 L287.2,263.5 L288.3,262.8 L289.5,262.0 L290.8,261.2 L292.2,260.2 L293.7,259.2 L295.3,258.0 L296.9,256.8 L298.6,255.4 L300.3,254.0 L302.1,252.5 L304.0,250.9 L306.0,249.3 L308.0,247.9 L310.1,246.6 L312.2,245.6 L314.4,244.7 L316.7,244.1 L319.0,243.5 L321.4,243.0 L323.8,242.7 L326.3,242.3 L328.8,242.0 L331.4,241.8 L334.0,241.6 L336.7,241.4 L339.5,241.3 L342.2,241.2 L345.1,241.1 L348.0,241.0 L350.9,240.9 L353.9,240.9 L356.9,240.8 L360.0,240.8 L363.1,240.8 L366.3,240.8 L369.5,240.8 L372.8,240.7 L376.1,240.7 L379.5,240.7 L382.9,240.7 L386.3,240.7 L389.8,240.7 L393.3,240.7 L396.9,240.7 L400.5,240.7 L404.2,240.7 L407.9,240.7 L411.6,240.7 L415.4,240.7 L419.2,240.7 L423.1,240.7 L427.0,240.6 L430.9,240.6" fill="none" stroke="#e18257" stroke-width="1.2"/>
<path d="M282.4,266.1 L282.6,266.1 L283.0,266.1 L283.6,266.0 L284.3,265.9 L285.2,265.7 L286.1,265.3 L287.2,264.8 L288.3,264.0 L289.5,263.2 L290.8,262.3 L292.2,261.2 L293.7,260.1 L295.3,258.9 L296.9,257.6 L298.6,256.2 L300.3,254.7 L302.1,253.1 L304.0,251.5 L306.0,249.8 L308.0,248.2 L310.1,246.9 L312.2,245.8 L314.4,245.0 L316.7,244.2 L319.0,243.7 L321.4,243.2 L323.8,242.8 L326.3,242.4 L328.8,242.1 L331.4,241.9 L334.0,241.7 L336.7,241.5 L339.5,241.3 L342.2,241.2 L345.1,241.1 L348.0,241.0 L350.9,240.9 L353.9,240.9 L356.9,240.8 L360.0,240.8 L363.1,240.8 L366.3,240.8 L369.5,240.8 L372.8,240.8 L376.1,240.7 L379.5,240.7 L382.9,240.7 L386.3,240.7 L389.8,240.7 L393.3,240.7 L396.9,240.7 L400.5,240.7 L404.2,240.7 L407.9,240.7 L411.6,240.7 L415.4,240.7 L419.2,240.7 L423.1,240.7 L427.0,240.7 L430.9,240.6" fill="none" stroke="#db7e54" stroke-width="1.2"/>
<path d="M282.4,267.7 L282.6,267.7 L283.0,267.6 L283.6,267.5 L284.3,267.4 L285.2,267.1 L286.1,266.7 L287.2,266.0 L288.3,265.2 L289.5,264.3 L290.8,263.3 L292.2,262.3 L293.7,261.1 L295.3,259.8 L296.9,258.4 L298.6,256.9 L300.3,255.3 L302.1,253.7 L304.0,252.0 L306.0,250.2 L308.0,248.6 L310.1,247.2 L312.2,246.1 L314.4,245.2 L316.7,244.4 L319.0,243.8 L321.4,243.3 L323.8,242.9 L326.3,242.5 L328.8,242.2 L331.4,241.9 L334.0,241.7 L336.7,241.5 L339.5,241.4 L342.2,241.3 L345.1,241.1 L348.0,241.0 L350.9,240.9 L353.9,240.9 L356.9,240.9 L360.0,240.8 L363.1,240.8 L366.3,240.8 L369.5,240.8 L372.8,240.8 L376.1,240.8 L379.5,240.7 L382.9,240.7 L386.3,240.7 L389.8,240.7 L393.3,240.7 L396.9,240.7 L400.5,240.7 L404.2,240.7 L407.9,240.7 L411.6,240.7 L415.4,240.7 L419.2,240.7 L423.1,240.7 L427.0,240.7 L430.9,240.6" fill="none" stroke="#d47b51" stroke-width="1.2"/>
<path d="M282.4,269.3 L282.6,269.2 L283.0,269.1 L283.6,269.0 L284.3,268.8 L285.2,268.5 L286.1,268.0 L287.2,267.3 L288.3,266.4 L289.5,265.4 L290.8,264.4 L292.2,263.2 L293.7,262.0 L295.3,260.7 L296.9,259.2 L298.6,257.6 L300.3,256.0 L302.1,254.3 L304.0,252.5 L306.0,250.6 L308.0,248.9 L310.1,247.5 L312.2,246.3 L314.4,245.4 L316.7,244.6 L319.0,244.0 L321.4,243.4 L323.8,243.0 L326.3,242.6 L328.8,242.3 L331.4,242.0 L334.0,241.8 L336.7,241.6 L339.5,241.4 L342.2,241.3 L345.1,241.2 L348.0,241.0 L350.9,241.0 L353.9,240.9 L356.9,240.9 L360.0,240.8 L363.1,240.8 L366.3,240.8 L369.5,240.8 L372.8,240.8 L376.1,240.8 L379.5,240.8 L382.9,240.7 L386.3,240.7 L389.8,240.7 L393.3,240.7 L396.9,240.7 L400.5,240.7 L404.2,240.7 L407.9,240.7 L411.6,240.7 L415.4,240.7 L419.2,240.7 L423.1,240.7 L427.0,240.7 L430.9,240.6" fill="none" stroke="#ce774e" stroke-width="1.2"/>
<path d="M282.4,270.8 L282.6,270.8 L283.0,270.6 L283.6,270.5 L284.3,270.2 L285.2,269.8 L286.1,269.2 L287.2,268.5 L288.3,267.5 L289.5,266.5 L290.8,265.4 L292.2,264.2 L293.7,262.9 L295.3,261.5 L296.9,260.0 L298.6,258.3 L300.3,256.6 L302.1,254.8 L304.0,253.0 L306.0,251.0 L308.0,249.3 L310.1,247.8 L312.2,246.6 L314.4,245.6 L316.7,244.8 L319.0,244.1 L321.4,243.5 L323.8,243.1 L326.3,242.7 L328.8,242.3 L331.4,242.0 L334.0,241.8 L336.7,241.6 L339.5,241.5 L342.2,241.3 L345.1,241.2 L348.0,241.0 L350.9,241.0 L353.9,240.9 L356.9,240.9 L360.0,240.9 L363.1,240.8 L366.3,240.8 L369.5,240.8 L372.8,240.8 L376.1,240.8 L379.5,240.8 L382.9,240.8 L386.3,240.7 L389.8,240.7 L393.3,240.7 L396.9,240.7 L400.5,240.7 L404.2,240.7 L407.9,240.7 L411.6,240.7 L415.4,240.7 L419.2,240.7 L423.1,240.7 L427.0,240.7 L430.9,240.7" fill="none" stroke="#c8744b" stroke-width="1.2"/>
<path d="M282.4,272.3 L282.6,272.3 L283.0,272.1 L283.6,271.9 L284.3,271.6 L285.2,271.1 L286.1,270.5 L287.2,269.7 L288.3,268.7 L289.5,267.6 L290.8,266.4 L292.2,265.2 L293.7,263.8 L295.3,262.3 L296.9,260.7 L298.6,259.0 L300.3,257.2 L302.1,255.4 L304.0,253.4 L306.0,251.4 L308.0,249.6 L310.1,248.1 L312.2,246.8 L314.4,245.8 L316.7,244.9 L319.0,244.2 L321.4,243.7 L323.8,243.2 L326.3,242.7 L328.8,242.4 L331.4,242.1 L334.0,241.9 L336.7,241.7 L339.5,241.5 L342.2,241.3 L345.1,241.2 L348.0,241.1 L350.9,241.0 L353.9,240.9 L356.9,240.9 L360.0,240.9 L363.1,240.9 L366.3,240.8 L369.5,240.8 L372.8,240.8 L376.1,240.8 L379.5,240.8 L382.9,240.8 L386.3,240.8 L389.8,240.7 L393.3,240.7 L396.9,240.7 L400.5,240.7 L404.2,240.7 L407.9,240.7 L411.6,240.7 L415.4,240.7 L419.2,240.7 L423.1,240.7 L427.0,240.7 L430.9,240.7" fill="none" stroke="#c27049" stroke-width="1.2"/>
<path d="M282.4,273.8 L282.6,273.7 L283.0,273.5 L283.6,273.3 L284.3,272.9 L285.2,272.4 L286.1,271.7 L287.2,270.8 L288.3,269.8 L289.5,268.6 L290.8,267.4 L292.2,266.1 L293.7,264.7 L295.3,263.1 L296.9,261.5 L298.6,259.7 L300.3,257.8 L302.1,255.9 L304.0,253.9 L306.0,251.8 L308.0,249.9 L310.1,248.3 L312.2,247.0 L314.4,246.0 L316.7,245.1 L319.0,244.4 L321.4,243.8 L323.8,243.2 L326.3,242.8 L328.8,242.5 L331.4,242.1 L334.0,241.9 L336.7,241.7 L339.5,241.5 L342.2,241.4 L345.1,241.2 L348.0,241.1 L350.9,241.0 L353.9,241.0 L356.9,240.9 L360.0,240.9 L363.1,240.9 L366.3,240.8 L369.5,240.8 L372.8,240.8 L376.1,240.8 L379.5,240.8 L382.9,240.8 L386.3,240.8 L389.8,240.8 L393.3,240.7 L396.9,240.7 L400.5,240.7 L404.2,240.7 L407.9,240.7 L411.6,240.7 L415.4,240.7 L419.2,240.7 L423.1,240.7 L427.0,240.7 L430.9,240.7" fill="none" stroke="#bc6c46" stroke-width="1.2"/>
<path d="M282.4,275.3 L282.6,275.1 L283.0,274.9 L283.6,274.6 L284.3,274.2 L285.2,273.6 L286.1,272.9 L287.2,272.0 L288.3,270.9 L289.5,269.7 L290.8,268.4 L292.2,267.0 L293.7,265.5 L295.3,263.9 L296.9,262.2 L298.6,260.4 L300.3,258.4 L302.1,256.4 L304.0,254.4 L306.0,252.2 L308.0,250.3 L310.1,248.6 L312.2,247.2 L314.4,246.1 L316.7,245.2 L319.0,244.5 L321.4,243.9 L323.8,243.3 L326.3,242.9 L328.8,242.5 L331.4,242.2 L334.0,241.9 L336.7,241.7 L339.5,241.6 L342.2,241.4 L345.1,241.3 L348.0,241.1 L350.9,241.0 L353.9,241.0 L356.9,240.9 L360.0,240.9 L363.1,240.9 L366.3,240.9 L369.5,240.8 L372.8,240.8 L376.1,240.8 L379.5,240.8 L382.9,240.8 L386.3,240.8 L389.8,240.8 L393.3,240.8 L396.9,240.7 L400.5,240.7 L404.2,240.7 L407.9,240.7 L411.6,240.7 L415.4,240.7 L419.2,240.7 L423.1,240.7 L427.0,240.7 L430.9,240.7" fill="none" stroke="#b66943" stroke-width="1.2"/>
<path d="M282.4,276.7 L282.6,276.5 L283.0,276.3 L283.6,275.9 L284.3,275.5 L285.2,274.8 L286.1,274.0 L287.2,273.1 L288.3,271.9 L289.5,270.7 L290.8,269.3 L292.2,267.9 L293.7,266.3 L295.3,264.7 L296.9,262.9 L298.6,261.0 L300.3,259.0 L302.1,257.0 L304.0,254.8 L306.0,252.6 L308.0,250.6 L310.1,248.9 L312.2,247.5 L314.4,246.3 L316.7,245.4 L319.0,244.6 L321.4,244.0 L323.8,243.4 L326.3,243.0 L328.8,242.6 L331.4,242.3 L334.0,242.0 L336.7,241.8 L339.5,241.6 L342.2,241.4 L345.1,241.3 L348.0,241.1 L350.9,241.0 L353.9,241.0 L356.9,240.9 L360.0,240.9 L363.1,240.9 L366.3,240.9 L369.5,240.9 L372.8,240.8 L376.1,240.8 L379.5,240.8 L382.9,240.8 L386.3,240.8 L389.8,240.8 L393.3,240.8 L396.9,240.8 L400.5,240.7 L404.2,240.7 L407.9,240.7 L411.6,240.7 L415.4,240.7 L419.2,240.7 L423.1,240.7 L427.0,240.7 L430.9,240.7" fill="none" stroke="#b06540" stroke-width="1.2"/>
<path d="M282.4,278.0 L282.6,277.9 L283.0,277.6 L283.6,277.2 L284.3,276.7 L285.2,276.0 L286.1,275.2 L287.2,274.1 L288.3,272.9 L289.5,271.6 L290.8,270.2 L292.2,268.7 L293.7,267.1 L295.3,265.4 L296.9,263.6 L298.6,261.6 L300.3,259.6 L302.1,257.5 L304.0,255.2 L306.0,253.0 L308.0,250.9 L310.1,249.1 L312.2,247.7 L314.4,246.5 L316.7,245.6 L319.0,244.8 L321.4,244.1 L323.8,243.5 L326.3,243.0 L328.8,242.6 L331.4,242.3 L334.0,242.0 L336.7,241.8 L339.5,241.6 L342.2,241.5 L345.1,241.3 L348.0,241.1 L350.9,241.0 L353.9,241.0 L356.9,241.0 L360.0,240.9 L363.1,240.9 L366.3,240.9 L369.5,240.9 L372.8,240.8 L376.1,240.8 L379.5,240.8 L382.9,240.8 L386.3,240.8 L389.8,240.8 L393.3,240.8 L396.9,240.8 L400.5,240.8 L404.2,240.7 L407.9,240.7 L411.6,240.7 L415.4,240.7 L419.2,240.7 L423.1,240.7 L427.0,240.7 L430.9,240.7" fill="none" stroke="#a9613d" stroke-width="1.2"/>
<path d="M282.4,279.4 L282.6,279.2 L283.0,278.9 L283.6,278.5 L284.3,277.9 L285.2,277.2 L286.1,276.3 L287.2,275.2 L288.3,273.9 L289.5,272.6 L290.8,271.1 L292.2,269.6 L293.7,267.9 L295.3,266.1 L296.9,264.3 L298.6,262.2 L300.3,260.1 L302.1,257.9 L304.0,255.7 L306.0,253.3 L308.0,251.2 L310.1,249.4 L312.2,247.9 L314.4,246.7 L316.7,245.7 L319.0,244.9 L321.4,244.2 L323.8,243.6 L326.3,243.1 L328.8,242.7 L331.4,242.4 L334.0,242.1 L336.7,241.8 L339.5,241.6 L342.2,241.5 L345.1,241.3 L348.0,241.2 L350.9,241.1 L353.9,241.0 L356.9,241.0 L360.0,240.9 L363.1,240.9 L366.3,240.9 L369.5,240.9 L372.8,240.9 L376.1,240.8 L379.5,240.8 L382.9,240.8 L386.3,240.8 L389.8,240.8 L393.3,240.8 L396.9,240.8 L400.5,240.8 L404.2,240.7 L407.9,240.7 L411.6,240.7 L415.4,240.7 L419.2,240.7 L423.1,240.7 L427.0,240.7 L430.9,240.7" fill="none" stroke="#a35e3b" stroke-width="1.2"/>
<path d="M282.4,280.7 L282.6,280.5 L283.0,280.2 L283.6,279.7 L284.3,279.1 L285.2,278.3 L286.1,277.3 L287.2,276.2 L288.3,274.9 L289.5,273.5 L290.8,272.0 L292.2,270.4 L293.7,268.7 L295.3,266.8 L296.9,264.9 L298.6,262.8 L300.3,260.7 L302.1,258.4 L304.0,256.1 L306.0,253.7 L308.0,251.5 L310.1,249.6 L312.2,248.1 L314.4,246.8 L316.7,245.8 L319.0,245.0 L321.4,244.3 L323.8,243.7 L326.3,243.2 L328.8,242.8 L331.4,242.4 L334.0,242.1 L336.7,241.9 L339.5,241.7 L342.2,241.5 L345.1,241.4 L348.0,241.2 L350.9,241.1 L353.9,241.0 L356.9,241.0 L360.0,241.0 L363.1,240.9 L366.3,240.9 L369.5,240.9 L372.8,240.9 L376.1,240.9 L379.5,240.8 L382.9,240.8 L386.3,240.8 L389.8,240.8 L393.3,240.8 L396.9,240.8 L400.5,240.8 L404.2,240.8 L407.9,240.7 L411.6,240.7 L415.4,240.7 L419.2,240.7 L423.1,240.7 L427.0,240.7 L430.9,240.7" fill="none" stroke="#9d5a38" stroke-width="1.2"/>
<path d="M282.4,281.9 L282.6,281.8 L283.0,281.4 L283.6,280.9 L284.3,280.2 L285.2,279.4 L286.1,278.4 L287.2,277.2 L288.3,275.8 L289.5,274.4 L290.8,272.8 L292.2,271.2 L293.7,269.4 L295.3,267.5 L296.9,265.5 L298.6,263.4 L300.3,261.2 L302.1,258.9 L304.0,256.5 L306.0,254.0 L308.0,251.7 L310.1,249.8 L312.2,248.3 L314.4,247.0 L316.7,246.0 L319.0,245.1 L321.4,244.4 L323.8,243.8 L326.3,243.2 L328.8,242.8 L331.4,242.4 L334.0,242.1 L336.7,241.9 L339.5,241.7 L342.2,241.5 L345.1,241.4 L348.0,241.2 L350.9,241.1 L353.9,241.0 L356.9,241.0 L360.0,241.0 L363.1,240.9 L366.3,240.9 L369.5,240.9 L372.8,240.9 L376.1,240.9 L379.5,240.8 L382.9,240.8 L386.3,240.8 L389.8,240.8 L393.3,240.8 L396.9,240.8 L400.5,240.8 L404.2,240.8 L407.9,240.7 L411.6,240.7 L415.4,240.7 L419.2,240.7 L423.1,240.7 L427.0,240.7 L430.9,240.7" fill="none" stroke="#975735" stroke-width="1.2"/>
<path d="M282.4,283.2 L282.6,283.0 L283.0,282.6 L283.6,282.0 L284.3,281.3 L285.2,280.4 L286.1,279.4 L287.2,278.1 L288.3,276.8 L289.5,275.3 L290.8,273.6 L292.2,271.9 L293.7,270.1 L295.3,268.2 L296.9,266.1 L298.6,264.0 L300.3,261.7 L302.1,259.3 L304.0,256.8 L306.0,254.3 L308.0,252.0 L310.1,250.1 L312.2,248.4 L314.4,247.2 L316.7,246.1 L319.0,245.2 L321.4,244.5 L323.8,243.8 L326.3,243.3 L328.8,242.9 L331.4,242.5 L334.0,242.2 L336.7,241.9 L339.5,241.7 L342.2,241.6 L345.1,241.4 L348.0,241.2 L350.9,241.1 L353.9,241.0 L356.9,241.0 L360.0,241.0 L363.1,241.0 L366.3,240.9 L369.5,240.9 L372.8,240.9 L376.1,240.9 L379.5,240.9 L382.9,240.8 L386.3,240.8 L389.8,240.8 L393.3,240.8 L396.9,240.8 L400.5,240.8 L404.2,240.8 L407.9,240.8 L411.6,240.7 L415.4,240.7 L419.2,240.7 L423.1,240.7 L427.0,240.7 L430.9,240.7" fill="none" stroke="#915332" stroke-width="1.2"/>
<path d="M282.4,284.4 L282.6,284.1 L283.0,283.7 L283.6,283.1 L284.3,282.4 L285.2,281.4 L286.1,280.3 L287.2,279.1 L288.3,277.6 L289.5,276.1 L290.8,274.4 L292.2,272.7 L293.7,270.8 L295.3,268.8 L296.9,266.7 L298.6,264.5 L300.3,262.1 L302.1,259.7 L304.0,257.2 L306.0,254.6 L308.0,252.3 L310.1,250.3 L312.2,248.6 L314.4,247.3 L316.7,246.2 L319.0,245.3 L321.4,244.6 L323.8,243.9 L326.3,243.4 L328.8,242.9 L331.4,242.5 L334.0,242.2 L336.7,242.0 L339.5,241.8 L342.2,241.6 L345.1,241.4 L348.0,241.2 L350.9,241.1 L353.9,241.1 L356.9,241.0 L360.0,241.0 L363.1,241.0 L366.3,240.9 L369.5,240.9 L372.8,240.9 L376.1,240.9 L379.5,240.9 L382.9,240.8 L386.3,240.8 L389.8,240.8 L393.3,240.8 L396.9,240.8 L400.5,240.8 L404.2,240.8 L407.9,240.8 L411.6,240.7 L415.4,240.7 L419.2,240.7 L423.1,240.7 L427.0,240.7 L430.9,240.7" fill="none" stroke="#8a4f2f" stroke-width="1.2"/>
<path d="M282.4,285.5 L282.6,285.3 L283.0,284.8 L283.6,284.2 L284.3,283.4 L285.2,282.4 L286.1,281.3 L287.2,280.0 L288.3,278.5 L289.5,276.9 L290.8,275.2 L292.2,273.4 L293.7,271.5 L295.3,269.5 L296.9,267.3 L298.6,265.0 L300.3,262.6 L302.1,260.2 L304.0,257.6 L306.0,254.9 L308.0,252.5 L310.1,250.5 L312.2,248.8 L314.4,247.5 L316.7,246.4 L319.0,245.4 L321.4,244.7 L323.8,244.0 L326.3,243.4 L328.8,243.0 L331.4,242.6 L334.0,242.3 L336.7,242.0 L339.5,241.8 L342.2,241.6 L345.1,241.4 L348.0,241.2 L350.9,241.1 L353.9,241.1 L356.9,241.0 L360.0,241.0 L363.1,241.0 L366.3,240.9 L369.5,240.9 L372.8,240.9 L376.1,240.9 L379.5,240.9 L382.9,240.9 L386.3,240.8 L389.8,240.8 L393.3,240.8 L396.9,240.8 L400.5,240.8 L404.2,240.8 L407.9,240.8 L411.6,240.7 L415.4,240.7 L419.2,240.7 L423.1,240.7 L427.0,240.7 L430.9,240.7" fill="none" stroke="#824a2c" stroke-width="1.2"/>
<path d="M282.4,286.6 L282.6,286.4 L283.0,285.9 L283.6,285.2 L284.3,284.4 L285.2,283.4 L286.1,282.2 L287.2,280.8 L288.3,279.3 L289.5,277.7 L290.8,275.9 L292.2,274.1 L293.7,272.1 L295.3,270.0 L296.9,267.8 L298.6,265.5 L300.3,263.1 L302.1,260.6 L304.0,257.9 L306.0,255.2 L308.0,252.8 L310.1,250.7 L312.2,249.0 L314.4,247.6 L316.7,246.5 L319.0,245.6 L321.4,244.7 L323.8,244.1 L326.3,243.5 L328.8,243.0 L331.4,242.6 L334.0,242.3 L336.7,242.0 L339.5,241.8 L342.2,241.6 L345.1,241.5 L348.0,241.2 L350.9,241.1 L353.9,241.1 L356.9,241.0 L360.0,241.0 L363.1,241.0 L366.3,241.0 L369.5,240.9 L372.8,240.9 L376.1,240.9 L379.5,240.9 L382.9,240.9 L386.3,240.8 L389.8,240.8 L393.3,240.8 L396.9,240.8 L400.5,240.8 L404.2,240.8 L407.9,240.8 L411.6,240.8 L415.4,240.7 L419.2,240.7 L423.1,240.7 L427.0,240.7 L430.9,240.7" fill="none" stroke="#794428" stroke-width="1.2"/>
<path d="M282.4,287.6 L282.6,287.4 L283.0,286.9 L283.6,286.2 L284.3,285.3 L285.2,284.3 L286.1,283.0 L287.2,281.6 L288.3,280.1 L289.5,278.4 L290.8,276.6 L292.2,274.7 L293.7,272.7 L295.3,270.6 L296.9,268.4 L298.6,266.0 L300.3,263.5 L302.1,260.9 L304.0,258.3 L306.0,255.5 L308.0,253.0 L310.1,250.9 L312.2,249.1 L314.4,247.7 L316.7,246.6 L319.0,245.6 L321.4,244.8 L323.8,244.1 L326.3,243.5 L328.8,243.1 L331.4,242.7 L334.0,242.3 L336.7,242.1 L339.5,241.8 L342.2,241.7 L345.1,241.5 L348.0,241.3 L350.9,241.2 L353.9,241.1 L356.9,241.1 L360.0,241.0 L363.1,241.0 L366.3,241.0 L369.5,240.9 L372.8,240.9 L376.1,240.9 L379.5,240.9 L382.9,240.9 L386.3,240.9 L389.8,240.8 L393.3,240.8 L396.9,240.8 L400.5,240.8 L404.2,240.8 L407.9,240.8 L411.6,240.8 L415.4,240.7 L419.2,240.7 L423.1,240.7 L427.0,240.7 L430.9,240.7" fill="none" stroke="#703f25" stroke-width="1.2"/>
<path d="M282.4,288.7 L282.6,288.4 L283.0,287.9 L283.6,287.1 L284.3,286.2 L285.2,285.1 L286.1,283.9 L287.2,282.4 L288.3,280.8 L289.5,279.1 L290.8,277.3 L292.2,275.4 L293.7,273.3 L295.3,271.2 L296.9,268.9 L298.6,266.4 L300.3,263.9 L302.1,261.3 L304.0,258.6 L306.0,255.8 L308.0,253.2 L310.1,251.1 L312.2,249.3 L314.4,247.9 L316.7,246.7 L319.0,245.7 L321.4,244.9 L323.8,244.2 L326.3,243.6 L328.8,243.1 L331.4,242.7 L334.0,242.4 L336.7,242.1 L339.5,241.9 L342.2,241.7 L345.1,241.5 L348.0,241.3 L350.9,241.2 L353.9,241.1 L356.9,241.1 L360.0,241.0 L363.1,241.0 L366.3,241.0 L369.5,241.0 L372.8,240.9 L376.1,240.9 L379.5,240.9 L382.9,240.9 L386.3,240.9 L389.8,240.8 L393.3,240.8 L396.9,240.8 L400.5,240.8 L404.2,240.8 L407.9,240.8 L411.6,240.8 L415.4,240.7 L419.2,240.7 L423.1,240.7 L427.0,240.7 L430.9,240.7" fill="none" stroke="#673a21" stroke-width="1.2"/>
<path d="M282.4,289.6 L282.6,289.4 L283.0,288.8 L283.6,288.0 L284.3,287.1 L285.2,286.0 L286.1,284.7 L287.2,283.2 L288.3,281.6 L289.5,279.8 L290.8,277.9 L292.2,276.0 L293.7,273.9 L295.3,271.7 L296.9,269.4 L298.6,266.9 L300.3,264.3 L302.1,261.7 L304.0,258.9 L306.0,256.0 L308.0,253.4 L310.1,251.2 L312.2,249.4 L314.4,248.0 L316.7,246.8 L319.0,245.8 L321.4,245.0 L323.8,244.3 L326.3,243.6 L328.8,243.1 L331.4,242.7 L334.0,242.4 L336.7,242.1 L339.5,241.9 L342.2,241.7 L345.1,241.5 L348.0,241.3 L350.9,241.2 L353.9,241.1 L356.9,241.1 L360.0,241.0 L363.1,241.0 L366.3,241.0 L369.5,241.0 L372.8,240.9 L376.1,240.9 L379.5,240.9 L382.9,240.9 L386.3,240.9 L389.8,240.9 L393.3,240.8 L396.9,240.8 L400.5,240.8 L404.2,240.8 L407.9,240.8 L411.6,240.8 L415.4,240.7 L419.2,240.7 L423.1,240.7 L427.0,240.7 L430.9,240.7" fill="none" stroke="#5f351e" stroke-width="1.2"/>
<path d="M282.4,290.5 L282.6,290.3 L283.0,289.7 L283.6,288.9 L284.3,287.9 L285.2,286.8 L286.1,285.4 L287.2,283.9 L288.3,282.2 L289.5,280.5 L290.8,278.6 L292.2,276.6 L293.7,274.4 L295.3,272.2 L296.9,269.8 L298.6,267.3 L300.3,264.7 L302.1,262.0 L304.0,259.2 L306.0,256.3 L308.0,253.6 L310.1,251.4 L312.2,249.6 L314.4,248.1 L316.7,246.9 L319.0,245.9 L321.4,245.1 L323.8,244.3 L326.3,243.7 L328.8,243.2 L331.4,242.8 L334.0,242.4 L336.7,242.1 L339.5,241.9 L342.2,241.7 L345.1,241.5 L348.0,241.3 L350.9,241.2 L353.9,241.1 L356.9,241.1 L360.0,241.0 L363.1,241.0 L366.3,241.0 L369.5,241.0 L372.8,240.9 L376.1,240.9 L379.5,240.9 L382.9,240.9 L386.3,240.9 L389.8,240.9 L393.3,240.8 L396.9,240.8 L400.5,240.8 L404.2,240.8 L407.9,240.8 L411.6,240.8 L415.4,240.8 L419.2,240.7 L423.1,240.7 L427.0,240.7 L430.9,240.7" fill="none" stroke="#56301a" stroke-width="1.2"/>
<path d="M282.4,291.4 L282.6,291.1 L283.0,290.5 L283.6,289.7 L284.3,288.7 L285.2,287.5 L286.1,286.1 L287.2,284.6 L288.3,282.9 L289.5,281.1 L290.8,279.1 L292.2,277.1 L293.7,274.9 L295.3,272.7 L296.9,270.2 L298.6,267.7 L300.3,265.0 L302.1,262.3 L304.0,259.4 L306.0,256.5 L308.0,253.8 L310.1,251.6 L312.2,249.7 L314.4,248.2 L316.7,247.0 L319.0,246.0 L321.4,245.1 L323.8,244.4 L326.3,243.7 L328.8,243.2 L331.4,242.8 L334.0,242.4 L336.7,242.2 L339.5,241.9 L342.2,241.7 L345.1,241.5 L348.0,241.3 L350.9,241.2 L353.9,241.1 L356.9,241.1 L360.0,241.1 L363.1,241.0 L366.3,241.0 L369.5,241.0 L372.8,241.0 L376.1,240.9 L379.5,240.9 L382.9,240.9 L386.3,240.9 L389.8,240.9 L393.3,240.8 L396.9,240.8 L400.5,240.8 L404.2,240.8 L407.9,240.8 L411.6,240.8 L415.4,240.8 L419.2,240.7 L423.1,240.7 L427.0,240.7 L430.9,240.7" fill="none" stroke="#4d2a17" stroke-width="1.2"/>
<path d="M282.4,292.2 L282.6,291.9 L283.0,291.3 L283.6,290.5 L284.3,289.4 L285.2,288.2 L286.1,286.8 L287.2,285.2 L288.3,283.5 L289.5,281.7 L290.8,279.7 L292.2,277.6 L293.7,275.4 L295.3,273.1 L296.9,270.7 L298.6,268.1 L300.3,265.4 L302.1,262.6 L304.0,259.7 L306.0,256.7 L308.0,254.0 L310.1,251.7 L312.2,249.8 L314.4,248.3 L316.7,247.1 L319.0,246.1 L321.4,245.2 L323.8,244.4 L326.3,243.8 L328.8,243.3 L331.4,242.8 L334.0,242.5 L336.7,242.2 L339.5,241.9 L342.2,241.7 L345.1,241.6 L348.0,241.3 L350.9,241.2 L353.9,241.1 L356.9,241.1 L360.0,241.1 L363.1,241.0 L366.3,241.0 L369.5,241.0 L372.8,241.0 L376.1,240.9 L379.5,240.9 L382.9,240.9 L386.3,240.9 L389.8,240.9 L393.3,240.9 L396.9,240.8 L400.5,240.8 L404.2,240.8 L407.9,240.8 L411.6,240.8 L415.4,240.8 L419.2,240.7 L423.1,240.7 L427.0,240.7 L430.9,240.7" fill="none" stroke="#442513" stroke-width="1.2"/>
<path d="M282.4,293.0 L282.6,292.7 L283.0,292.1 L283.6,291.2 L284.3,290.1 L285.2,288.9 L286.1,287.4 L287.2,285.8 L288.3,284.1 L289.5,282.2 L290.8,280.2 L292.2,278.1 L293.7,275.9 L295.3,273.5 L296.9,271.0 L298.6,268.4 L300.3,265.7 L302.1,262.9 L304.0,259.9 L306.0,256.9 L308.0,254.2 L310.1,251.9 L312.2,250.0 L314.4,248.4 L316.7,247.2 L319.0,246.1 L321.4,245.2 L323.8,244.5 L326.3,243.8 L328.8,243.3 L331.4,242.9 L334.0,242.5 L336.7,242.2 L339.5,242.0 L342.2,241.8 L345.1,241.6 L348.0,241.3 L350.9,241.2 L353.9,241.1 L356.9,241.1 L360.0,241.1 L363.1,241.0 L366.3,241.0 L369.5,241.0 L372.8,241.0 L376.1,240.9 L379.5,240.9 L382.9,240.9 L386.3,240.9 L389.8,240.9 L393.3,240.9 L396.9,240.8 L400.5,240.8 L404.2,240.8 L407.9,240.8 L411.6,240.8 L415.4,240.8 L419.2,240.7 L423.1,240.7 L427.0,240.7 L430.9,240.7" fill="none" stroke="#3c2010" stroke-width="1.2"/>
<path d="M282.4,293.7 L282.6,293.4 L283.0,292.7 L283.6,291.9 L284.3,290.8 L285.2,289.5 L286.1,288.0 L287.2,286.4 L288.3,284.6 L289.5,282.7 L290.8,280.7 L292.2,278.5 L293.7,276.3 L295.3,273.9 L296.9,271.4 L298.6,268.7 L300.3,266.0 L302.1,263.1 L304.0,260.2 L306.0,257.1 L308.0,254.3 L310.1,252.0 L312.2,250.1 L314.4,248.5 L316.7,247.3 L319.0,246.2 L321.4,245.3 L323.8,244.5 L326.3,243.9 L328.8,243.3 L331.4,242.9 L334.0,242.5 L336.7,242.2 L339.5,242.0 L342.2,241.8 L345.1,241.6 L348.0,241.3 L350.9,241.2 L353.9,241.2 L356.9,241.1 L360.0,241.1 L363.1,241.0 L366.3,241.0 L369.5,241.0 L372.8,241.0 L376.1,241.0 L379.5,240.9 L382.9,240.9 L386.3,240.9 L389.8,240.9 L393.3,240.9 L396.9,240.8 L400.5,240.8 L404.2,240.8 L407.9,240.8 L411.6,240.8 L415.4,240.8 L419.2,240.7 L423.1,240.7 L427.0,240.7 L430.9,240.7" fill="none" stroke="#331b0c" stroke-width="1.2"/>
<path d="M282.4,294.4 L282.6,294.0 L283.0,293.4 L283.6,292.5 L284.3,291.3 L285.2,290.0 L286.1,288.6 L287.2,286.9 L288.3,285.1 L289.5,283.2 L290.8,281.1 L292.2,278.9 L293.7,276.7 L295.3,274.3 L296.9,271.7 L298.6,269.0 L300.3,266.2 L302.1,263.4 L304.0,260.4 L306.0,257.3 L308.0,254.5 L310.1,252.1 L312.2,250.2 L314.4,248.6 L316.7,247.3 L319.0,246.3 L321.4,245.3 L323.8,244.6 L326.3,243.9 L328.8,243.4 L331.4,242.9 L334.0,242.5 L336.7,242.2 L339.5,242.0 L342.2,241.8 L345.1,241.6 L348.0,241.3 L350.9,241.2 L353.9,241.2 L356.9,241.1 L360.0,241.1 L363.1,241.0 L366.3,241.0 L369.5,241.0 L372.8,241.0 L376.1,241.0 L379.5,240.9 L382.9,240.9 L386.3,240.9 L389.8,240.9 L393.3,240.9 L396.9,240.8 L400.5,240.8 L404.2,240.8 L407.9,240.8 L411.6,240.8 L415.4,240.8 L419.2,240.7 L423.1,240.7 L427.0,240.7 L430.9,240.7" fill="none" stroke="#2c170a" stroke-width="1.2"/>
<path d="M282.4,295.0 L282.6,294.6 L283.0,293.9 L283.6,293.0 L284.3,291.9 L285.2,290.5 L286.1,289.0 L287.2,287.4 L288.3,285.5 L289.5,283.6 L290.8,281.5 L292.2,279.3 L293.7,277.0 L295.3,274.6 L296.9,272.0 L298.6,269.3 L300.3,266.5 L302.1,263.6 L304.0,260.6 L306.0,257.4 L308.0,254.6 L310.1,252.2 L312.2,250.3 L314.4,248.7 L316.7,247.4 L319.0,246.3 L321.4,245.4 L323.8,244.6 L326.3,243.9 L328.8,243.4 L331.4,242.9 L334.0,242.6 L336.7,242.3 L339.5,242.0 L342.2,241.8 L345.1,241.6 L348.0,241.4 L350.9,241.2 L353.9,241.2 L356.9,241.1 L360.0,241.1 L363.1,241.1 L366.3,241.0 L369.5,241.0 L372.8,241.0 L376.1,241.0 L379.5,240.9 L382.9,240.9 L386.3,240.9 L389.8,240.9 L393.3,240.9 L396.9,240.9 L400.5,240.8 L404.2,240.8 L407.9,240.8 L411.6,240.8 L415.4,240.8 L419.2,240.8 L423.1,240.7 L427.0,240.7 L430.9,240.7" fill="none" stroke="#241309" stroke-width="1.2"/>
<path d="M282.4,295.5 L282.6,295.1 L283.0,294.4 L283.6,293.5 L284.3,292.3 L285.2,291.0 L286.1,289.5 L287.2,287.8 L288.3,285.9 L289.5,283.9 L290.8,281.8 L292.2,279.6 L293.7,277.3 L295.3,274.9 L296.9,272.3 L298.6,269.5 L300.3,266.7 L302.1,263.8 L304.0,260.7 L306.0,257.6 L308.0,254.7 L310.1,252.3 L312.2,250.3 L314.4,248.8 L316.7,247.5 L319.0,246.4 L321.4,245.4 L323.8,244.6 L326.3,244.0 L328.8,243.4 L331.4,242.9 L334.0,242.6 L336.7,242.3 L339.5,242.0 L342.2,241.8 L345.1,241.6 L348.0,241.4 L350.9,241.2 L353.9,241.2 L356.9,241.1 L360.0,241.1 L363.1,241.1 L366.3,241.0 L369.5,241.0 L372.8,241.0 L376.1,241.0 L379.5,240.9 L382.9,240.9 L386.3,240.9 L389.8,240.9 L393.3,240.9 L396.9,240.9 L400.5,240.8 L404.2,240.8 L407.9,240.8 L411.6,240.8 L415.4,240.8 L419.2,240.8 L423.1,240.7 L427.0,240.7 L430.9,240.7" fill="none" stroke="#1d0f07" stroke-width="1.2"/>
<path d="M282.4,295.9 L282.6,295.6 L283.0,294.9 L283.6,293.9 L284.3,292.7 L285.2,291.4 L286.1,289.8 L287.2,288.1 L288.3,286.3 L289.5,284.3 L290.8,282.1 L292.2,279.9 L293.7,277.6 L295.3,275.1 L296.9,272.5 L298.6,269.7 L300.3,266.9 L302.1,263.9 L304.0,260.9 L306.0,257.7 L308.0,254.8 L310.1,252.4 L312.2,250.4 L314.4,248.8 L316.7,247.5 L319.0,246.4 L321.4,245.5 L323.8,244.7 L326.3,244.0 L328.8,243.4 L331.4,243.0 L334.0,242.6 L336.7,242.3 L339.5,242.0 L342.2,241.8 L345.1,241.6 L348.0,241.4 L350.9,241.2 L353.9,241.2 L356.9,241.1 L360.0,241.1 L363.1,241.1 L366.3,241.0 L369.5,241.0 L372.8,241.0 L376.1,241.0 L379.5,240.9 L382.9,240.9 L386.3,240.9 L389.8,240.9 L393.3,240.9 L396.9,240.9 L400.5,240.8 L404.2,240.8 L407.9,240.8 L411.6,240.8 L415.4,240.8 L419.2,240.8 L423.1,240.7 L427.0,240.7 L430.9,240.7" fill="none" stroke="#160b05" stroke-width="1.2"/>
<path d="M282.4,296.3 L282.6,295.9 L283.0,295.2 L283.6,294.3 L284.3,293.1 L285.2,291.7 L286.1,290.1 L287.2,288.4 L288.3,286.5 L289.5,284.5 L290.8,282.4 L292.2,280.1 L293.7,277.8 L295.3,275.3 L296.9,272.7 L298.6,269.9 L300.3,267.0 L302.1,264.1 L304.0,261.0 L306.0,257.8 L308.0,254.9 L310.1,252.5 L312.2,250.5 L314.4,248.9 L316.7,247.6 L319.0,246.4 L321.4,245.5 L323.8,244.7 L326.3,244.0 L328.8,243.4 L331.4,243.0 L334.0,242.6 L336.7,242.3 L339.5,242.0 L342.2,241.8 L345.1,241.6 L348.0,241.4 L350.9,241.2 L353.9,241.2 L356.9,241.1 L360.0,241.1 L363.1,241.1 L366.3,241.0 L369.5,241.0 L372.8,241.0 L376.1,241.0 L379.5,240.9 L382.9,240.9 L386.3,240.9 L389.8,240.9 L393.3,240.9 L396.9,240.9 L400.5,240.8 L404.2,240.8 L407.9,240.8 L411.6,240.8 L415.4,240.8 L419.2,240.8 L423.1,240.7 L427.0,240.7 L430.9,240.7" fill="none" stroke="#0f0803" stroke-width="1.2"/>
<path d="M282.4,296.6 L282.6,296.2 L283.0,295.5 L283.6,294.5 L284.3,293.3 L285.2,291.9 L286.1,290.4 L287.2,288.6 L288.3,286.7 L289.5,284.7 L290.8,282.6 L292.2,280.3 L293.7,277.9 L295.3,275.4 L296.9,272.8 L298.6,270.0 L300.3,267.1 L302.1,264.2 L304.0,261.1 L306.0,257.9 L308.0,255.0 L310.1,252.5 L312.2,250.5 L314.4,248.9 L316.7,247.6 L319.0,246.5 L321.4,245.5 L323.8,244.7 L326.3,244.0 L328.8,243.4 L331.4,243.0 L334.0,242.6 L336.7,242.3 L339.5,242.0 L342.2,241.8 L345.1,241.6 L348.0,241.4 L350.9,241.2 L353.9,241.2 L356.9,241.1 L360.0,241.1 L363.1,241.1 L366.3,241.0 L369.5,241.0 L372.8,241.0 L376.1,241.0 L379.5,241.0 L382.9,240.9 L386.3,240.9 L389.8,240.9 L393.3,240.9 L396.9,240.9 L400.5,240.8 L404.2,240.8 L407.9,240.8 L411.6,240.8 L415.4,240.8 L419.2,240.8 L423.1,240.7 L427.0,240.7 L430.9,240.7" fill="none" stroke="#070402" stroke-width="1.2"/>
<path d="M282.4,296.7 L282.6,296.3 L283.0,295.6 L283.6,294.6 L284.3,293.4 L285.2,292.0 L286.1,290.5 L287.2,288.7 L288.3,286.8 L289.5,284.8 L290.8,282.7 L292.2,280.4 L293.7,278.0 L295.3,275.5 L296.9,272.9 L298.6,270.1 L300.3,267.2 L302.1,264.2 L304.0,261.1 L306.0,257.9 L308.0,255.0 L310.1,252.5 L312.2,250.5 L314.4,248.9 L316.7,247.6 L319.0,246.5 L321.4,245.5 L323.8,244.7 L326.3,244.0 L328.8,243.5 L331.4,243.0 L334.0,242.6 L336.7,242.3 L339.5,242.0 L342.2,241.8 L345.1,241.6 L348.0,241.4 L350.9,241.2 L353.9,241.2 L356.9,241.1 L360.0,241.1 L363.1,241.1 L366.3,241.0 L369.5,241.0 L372.8,241.0 L376.1,241.0 L379.5,241.0 L382.9,240.9 L386.3,240.9 L389.8,240.9 L393.3,240.9 L396.9,240.9 L400.5,240.8 L404.2,240.8 L407.9,240.8 L411.6,240.8 L415.4,240.8 L419.2,240.8 L423.1,240.7 L427.0,240.7 L430.9,240.7" fill="none" stroke="#000000" stroke-width="1.2"/>
<path d="M282.40,296.70 C283.60,294.70 287.33,288.43 289.60,284.70 C291.87,280.97 293.87,277.78 296.00,274.30 C298.13,270.82 300.40,267.02 302.40,263.80 C304.40,260.58 306.12,257.40 308.00,255.00 C309.88,252.60 311.42,251.00 313.70,249.40 C315.98,247.80 318.77,246.47 321.70,245.40 C324.63,244.33 327.57,243.62 331.30,243.00 C335.03,242.38 339.32,242.02 344.10,241.70 C348.88,241.38 345.53,241.27 360.00,241.10 C374.47,240.93 419.08,240.77 430.90,240.70" fill="none" stroke="#000" stroke-width="2.4" stroke-linejoin="round"/>
<path d="M519.2,241.2 L519.5,241.4 L519.9,241.8 L520.3,242.2 L520.8,242.6 L521.4,243.1 L522.0,243.6 L522.6,244.0 L523.1,244.5 L523.7,244.9 L524.3,245.2 L524.8,245.5 L525.3,245.8 L525.8,246.0 L526.3,246.3 L526.8,246.5 L527.3,246.7 L527.9,246.8 L528.6,247.0 L529.3,247.0 L530.2,247.1 L531.2,247.1 L532.2,247.1 L533.3,247.0 L534.5,247.0 L535.8,246.9 L537.1,246.7 L538.5,246.5 L540.0,246.4 L541.5,246.1 L543.0,245.9 L544.6,245.6 L546.3,245.3 L548.0,244.9 L549.8,244.5 L551.7,244.1 L553.6,243.6 L555.6,243.2 L557.6,242.8 L559.6,242.4 L561.7,242.1 L563.8,241.8 L565.9,241.5 L568.0,241.3 L570.2,241.1 L572.4,240.9 L574.7,240.7 L577.1,240.5 L579.6,240.3 L582.3,240.1 L585.1,240.0 L588.1,239.9 L591.2,239.8 L594.4,239.7 L597.7,239.6 L601.1,239.5 L604.6,239.5 L608.3,239.4 L612.1,239.4 L616.0,239.3 L620.1,239.3 L624.6,239.3 L629.6,239.3 L634.9,239.2 L640.5,239.2 L646.0,239.3 L651.4,239.3 L656.4,239.3 L660.9,239.3 L664.7,239.3 L667.6,239.3 L667.6,239.6 L666.3,239.6 L664.6,239.6 L662.6,239.7 L660.4,239.7 L658.0,239.7 L655.5,239.8 L652.9,239.8 L650.4,239.9 L648.0,239.9 L645.8,240.0 L643.7,240.1 L641.6,240.2 L639.6,240.2 L637.6,240.3 L635.6,240.4 L633.6,240.5 L631.5,240.7 L629.5,240.8 L627.4,241.0 L625.2,241.3 L623.0,241.6 L620.7,241.9 L618.4,242.2 L616.0,242.6 L613.7,243.0 L611.3,243.4 L608.9,243.9 L606.5,244.4 L604.2,244.9 L601.8,245.5 L599.4,246.1 L597.0,246.8 L594.6,247.6 L592.2,248.3 L589.8,249.1 L587.4,250.0 L585.1,250.9 L582.8,251.8 L580.5,252.7 L578.4,253.7 L576.3,254.7 L574.3,255.7 L572.4,256.8 L570.5,257.9 L568.6,259.0 L566.8,260.2 L565.0,261.4 L563.2,262.7 L561.5,264.0 L559.7,265.4 L558.0,266.9 L556.2,268.4 L554.5,270.0 L552.8,271.7 L551.2,273.4 L549.6,275.1 L548.0,276.8 L546.4,278.5 L544.9,280.1 L543.4,281.7 L542.0,283.2 L540.6,284.8 L539.2,286.3 L537.9,287.8 L536.6,289.3 L535.4,290.7 L534.1,292.1 L532.9,293.4 L531.7,294.7 L530.5,295.8 L529.3,296.9 L528.0,297.9 L526.6,298.8 L525.3,299.7 L524.0,300.6 L522.8,301.3 L521.7,302.0 L520.7,302.6 L519.9,303.2 L519.2,303.6 Z" fill="#e98f5f"/>
<path d="M519.2,241.2 L519.4,241.4 L519.8,241.7 L520.4,242.3 L521.1,242.9 L522.0,243.6 L522.9,244.3 L524.0,245.0 L525.1,245.6 L526.3,246.3 L527.6,246.8 L529.0,247.0 L530.5,247.1 L532.0,247.1 L533.7,247.0 L535.3,246.9 L537.1,246.7 L538.9,246.5 L540.8,246.2 L542.8,245.9 L544.8,245.6 L546.9,245.2 L549.0,244.7 L551.2,244.2 L553.5,243.7 L555.8,243.2 L558.1,242.7 L560.6,242.3 L563.0,241.9 L565.6,241.6 L568.2,241.3 L570.8,241.0 L573.5,240.8 L576.2,240.5 L579.0,240.3 L581.8,240.2 L584.7,240.0 L587.7,239.9 L590.7,239.8 L593.7,239.7 L596.8,239.6 L599.9,239.5 L603.1,239.5 L606.3,239.4 L609.5,239.4 L612.9,239.4 L616.2,239.3 L619.6,239.3 L623.0,239.3 L626.5,239.3 L630.1,239.3 L633.6,239.3 L637.2,239.2 L640.9,239.3 L644.6,239.3 L648.3,239.3 L652.1,239.3 L655.9,239.3 L659.8,239.3 L663.7,239.3 L667.6,239.3" fill="none" stroke="#eb9562" stroke-width="1.2"/>
<path d="M519.2,244.1 L519.4,244.2 L519.8,244.6 L520.4,245.0 L521.1,245.6 L522.0,246.3 L522.9,246.9 L524.0,247.6 L525.1,248.1 L526.3,248.7 L527.6,249.1 L529.0,249.3 L530.5,249.3 L532.0,249.3 L533.7,249.1 L535.3,248.9 L537.1,248.6 L538.9,248.3 L540.8,248.0 L542.8,247.6 L544.8,247.2 L546.9,246.7 L549.0,246.1 L551.2,245.5 L553.5,244.9 L555.8,244.3 L558.1,243.8 L560.6,243.3 L563.0,242.9 L565.6,242.5 L568.2,242.1 L570.8,241.8 L573.5,241.5 L576.2,241.2 L579.0,240.9 L581.8,240.7 L584.7,240.5 L587.7,240.3 L590.7,240.2 L593.7,240.1 L596.8,239.9 L599.9,239.8 L603.1,239.7 L606.3,239.7 L609.5,239.6 L612.9,239.5 L616.2,239.5 L619.6,239.4 L623.0,239.4 L626.5,239.4 L630.1,239.3 L633.6,239.3 L637.2,239.3 L640.9,239.3 L644.6,239.3 L648.3,239.3 L652.1,239.3 L655.9,239.3 L659.8,239.3 L663.7,239.3 L667.6,239.3" fill="none" stroke="#ea9361" stroke-width="1.2"/>
<path d="M519.2,246.9 L519.4,247.0 L519.8,247.3 L520.4,247.8 L521.1,248.3 L522.0,248.9 L522.9,249.5 L524.0,250.1 L525.1,250.6 L526.3,251.1 L527.6,251.4 L529.0,251.6 L530.5,251.5 L532.0,251.4 L533.7,251.2 L535.3,250.9 L537.1,250.5 L538.9,250.1 L540.8,249.7 L542.8,249.2 L544.8,248.7 L546.9,248.1 L549.0,247.5 L551.2,246.8 L553.5,246.1 L555.8,245.5 L558.1,244.9 L560.6,244.3 L563.0,243.8 L565.6,243.4 L568.2,242.9 L570.8,242.5 L573.5,242.2 L576.2,241.8 L579.0,241.5 L581.8,241.3 L584.7,241.0 L587.7,240.8 L590.7,240.6 L593.7,240.4 L596.8,240.3 L599.9,240.1 L603.1,240.0 L606.3,239.9 L609.5,239.8 L612.9,239.7 L616.2,239.6 L619.6,239.6 L623.0,239.5 L626.5,239.4 L630.1,239.4 L633.6,239.4 L637.2,239.3 L640.9,239.3 L644.6,239.3 L648.3,239.3 L652.1,239.3 L655.9,239.3 L659.8,239.3 L663.7,239.3 L667.6,239.3" fill="none" stroke="#ea9160" stroke-width="1.2"/>
<path d="M519.2,249.6 L519.4,249.7 L519.8,250.0 L520.4,250.4 L521.1,250.9 L522.0,251.4 L522.9,252.0 L524.0,252.5 L525.1,253.0 L526.3,253.4 L527.6,253.7 L529.0,253.7 L530.5,253.7 L532.0,253.5 L533.7,253.2 L535.3,252.8 L537.1,252.4 L538.9,251.9 L540.8,251.4 L542.8,250.8 L544.8,250.2 L546.9,249.6 L549.0,248.9 L551.2,248.1 L553.5,247.3 L555.8,246.6 L558.1,245.9 L560.6,245.3 L563.0,244.7 L565.6,244.2 L568.2,243.7 L570.8,243.3 L573.5,242.8 L576.2,242.5 L579.0,242.1 L581.8,241.8 L584.7,241.5 L587.7,241.2 L590.7,241.0 L593.7,240.8 L596.8,240.6 L599.9,240.4 L603.1,240.3 L606.3,240.1 L609.5,240.0 L612.9,239.9 L616.2,239.8 L619.6,239.7 L623.0,239.6 L626.5,239.5 L630.1,239.5 L633.6,239.4 L637.2,239.4 L640.9,239.4 L644.6,239.4 L648.3,239.3 L652.1,239.3 L655.9,239.3 L659.8,239.3 L663.7,239.3 L667.6,239.3" fill="none" stroke="#e98f5f" stroke-width="1.2"/>
<path d="M519.2,252.3 L519.4,252.4 L519.8,252.6 L520.4,253.0 L521.1,253.4 L522.0,253.9 L522.9,254.4 L524.0,254.9 L525.1,255.3 L526.3,255.6 L527.6,255.9 L529.0,255.9 L530.5,255.7 L532.0,255.5 L533.7,255.1 L535.3,254.7 L537.1,254.2 L538.9,253.6 L540.8,253.0 L542.8,252.4 L544.8,251.7 L546.9,251.0 L549.0,250.2 L551.2,249.4 L553.5,248.5 L555.8,247.7 L558.1,246.9 L560.6,246.3 L563.0,245.6 L565.6,245.0 L568.2,244.5 L570.8,244.0 L573.5,243.5 L576.2,243.1 L579.0,242.7 L581.8,242.3 L584.7,242.0 L587.7,241.7 L590.7,241.4 L593.7,241.1 L596.8,240.9 L599.9,240.7 L603.1,240.5 L606.3,240.3 L609.5,240.2 L612.9,240.0 L616.2,239.9 L619.6,239.8 L623.0,239.7 L626.5,239.6 L630.1,239.5 L633.6,239.5 L637.2,239.4 L640.9,239.4 L644.6,239.4 L648.3,239.4 L652.1,239.4 L655.9,239.4 L659.8,239.4 L663.7,239.4 L667.6,239.4" fill="none" stroke="#e88e5e" stroke-width="1.2"/>
<path d="M519.2,254.9 L519.4,255.0 L519.8,255.2 L520.4,255.5 L521.1,255.9 L522.0,256.3 L522.9,256.8 L524.0,257.2 L525.1,257.5 L526.3,257.8 L527.6,258.0 L529.0,258.0 L530.5,257.8 L532.0,257.4 L533.7,257.0 L535.3,256.5 L537.1,255.9 L538.9,255.3 L540.8,254.6 L542.8,253.9 L544.8,253.2 L546.9,252.3 L549.0,251.5 L551.2,250.6 L553.5,249.7 L555.8,248.8 L558.1,247.9 L560.6,247.2 L563.0,246.5 L565.6,245.9 L568.2,245.2 L570.8,244.7 L573.5,244.1 L576.2,243.7 L579.0,243.2 L581.8,242.8 L584.7,242.4 L587.7,242.1 L590.7,241.8 L593.7,241.5 L596.8,241.2 L599.9,241.0 L603.1,240.7 L606.3,240.5 L609.5,240.3 L612.9,240.2 L616.2,240.0 L619.6,239.9 L623.0,239.8 L626.5,239.7 L630.1,239.6 L633.6,239.5 L637.2,239.5 L640.9,239.5 L644.6,239.4 L648.3,239.4 L652.1,239.4 L655.9,239.4 L659.8,239.4 L663.7,239.4 L667.6,239.4" fill="none" stroke="#e78c5d" stroke-width="1.2"/>
<path d="M519.2,257.4 L519.4,257.5 L519.8,257.7 L520.4,258.0 L521.1,258.3 L522.0,258.7 L522.9,259.1 L524.0,259.4 L525.1,259.7 L526.3,260.0 L527.6,260.1 L529.0,260.0 L530.5,259.7 L532.0,259.4 L533.7,258.9 L535.3,258.3 L537.1,257.6 L538.9,256.9 L540.8,256.2 L542.8,255.4 L544.8,254.6 L546.9,253.7 L549.0,252.7 L551.2,251.8 L553.5,250.8 L555.8,249.8 L558.1,248.9 L560.6,248.1 L563.0,247.3 L565.6,246.6 L568.2,246.0 L570.8,245.3 L573.5,244.8 L576.2,244.2 L579.0,243.7 L581.8,243.3 L584.7,242.9 L587.7,242.5 L590.7,242.1 L593.7,241.8 L596.8,241.5 L599.9,241.2 L603.1,241.0 L606.3,240.7 L609.5,240.5 L612.9,240.3 L616.2,240.2 L619.6,240.0 L623.0,239.9 L626.5,239.8 L630.1,239.7 L633.6,239.6 L637.2,239.5 L640.9,239.5 L644.6,239.5 L648.3,239.4 L652.1,239.4 L655.9,239.4 L659.8,239.4 L663.7,239.4 L667.6,239.4" fill="none" stroke="#e78a5c" stroke-width="1.2"/>
<path d="M519.2,259.9 L519.4,259.9 L519.8,260.1 L520.4,260.4 L521.1,260.7 L522.0,261.0 L522.9,261.3 L524.0,261.6 L525.1,261.9 L526.3,262.1 L527.6,262.1 L529.0,262.0 L530.5,261.7 L532.0,261.2 L533.7,260.7 L535.3,260.0 L537.1,259.3 L538.9,258.5 L540.8,257.7 L542.8,256.8 L544.8,255.9 L546.9,255.0 L549.0,254.0 L551.2,252.9 L553.5,251.9 L555.8,250.8 L558.1,249.9 L560.6,249.0 L563.0,248.2 L565.6,247.4 L568.2,246.7 L570.8,246.0 L573.5,245.4 L576.2,244.8 L579.0,244.3 L581.8,243.8 L584.7,243.3 L587.7,242.9 L590.7,242.5 L593.7,242.1 L596.8,241.8 L599.9,241.5 L603.1,241.2 L606.3,240.9 L609.5,240.7 L612.9,240.5 L616.2,240.3 L619.6,240.1 L623.0,240.0 L626.5,239.8 L630.1,239.7 L633.6,239.6 L637.2,239.6 L640.9,239.5 L644.6,239.5 L648.3,239.5 L652.1,239.4 L655.9,239.4 L659.8,239.4 L663.7,239.4 L667.6,239.4" fill="none" stroke="#e6885a" stroke-width="1.2"/>
<path d="M519.2,262.3 L519.4,262.3 L519.8,262.5 L520.4,262.7 L521.1,263.0 L522.0,263.2 L522.9,263.5 L524.0,263.8 L525.1,264.0 L526.3,264.1 L527.6,264.1 L529.0,263.9 L530.5,263.5 L532.0,263.0 L533.7,262.4 L535.3,261.7 L537.1,260.9 L538.9,260.0 L540.8,259.1 L542.8,258.2 L544.8,257.3 L546.9,256.2 L549.0,255.1 L551.2,254.0 L553.5,252.9 L555.8,251.8 L558.1,250.8 L560.6,249.9 L563.0,249.0 L565.6,248.2 L568.2,247.4 L570.8,246.6 L573.5,246.0 L576.2,245.3 L579.0,244.8 L581.8,244.2 L584.7,243.7 L587.7,243.3 L590.7,242.8 L593.7,242.4 L596.8,242.1 L599.9,241.7 L603.1,241.4 L606.3,241.1 L609.5,240.9 L612.9,240.6 L616.2,240.4 L619.6,240.2 L623.0,240.1 L626.5,239.9 L630.1,239.8 L633.6,239.7 L637.2,239.6 L640.9,239.6 L644.6,239.5 L648.3,239.5 L652.1,239.5 L655.9,239.4 L659.8,239.4 L663.7,239.4 L667.6,239.4" fill="none" stroke="#e58659" stroke-width="1.2"/>
<path d="M519.2,264.6 L519.4,264.6 L519.8,264.8 L520.4,265.0 L521.1,265.2 L522.0,265.4 L522.9,265.7 L524.0,265.9 L525.1,266.0 L526.3,266.1 L527.6,266.0 L529.0,265.8 L530.5,265.4 L532.0,264.8 L533.7,264.1 L535.3,263.3 L537.1,262.5 L538.9,261.5 L540.8,260.6 L542.8,259.6 L544.8,258.6 L546.9,257.5 L549.0,256.3 L551.2,255.1 L553.5,253.9 L555.8,252.8 L558.1,251.7 L560.6,250.7 L563.0,249.8 L565.6,248.9 L568.2,248.1 L570.8,247.3 L573.5,246.5 L576.2,245.9 L579.0,245.2 L581.8,244.7 L584.7,244.1 L587.7,243.6 L590.7,243.2 L593.7,242.7 L596.8,242.3 L599.9,242.0 L603.1,241.6 L606.3,241.3 L609.5,241.0 L612.9,240.8 L616.2,240.5 L619.6,240.3 L623.0,240.1 L626.5,240.0 L630.1,239.8 L633.6,239.7 L637.2,239.7 L640.9,239.6 L644.6,239.6 L648.3,239.5 L652.1,239.5 L655.9,239.5 L659.8,239.4 L663.7,239.4 L667.6,239.4" fill="none" stroke="#e48458" stroke-width="1.2"/>
<path d="M519.2,266.8 L519.4,266.9 L519.8,267.0 L520.4,267.1 L521.1,267.3 L522.0,267.5 L522.9,267.7 L524.0,267.9 L525.1,267.9 L526.3,268.0 L527.6,267.9 L529.0,267.6 L530.5,267.1 L532.0,266.5 L533.7,265.8 L535.3,264.9 L537.1,264.0 L538.9,263.0 L540.8,262.0 L542.8,260.9 L544.8,259.8 L546.9,258.7 L549.0,257.4 L551.2,256.2 L553.5,254.9 L555.8,253.7 L558.1,252.6 L560.6,251.5 L563.0,250.5 L565.6,249.6 L568.2,248.7 L570.8,247.9 L573.5,247.1 L576.2,246.4 L579.0,245.7 L581.8,245.1 L584.7,244.5 L587.7,244.0 L590.7,243.5 L593.7,243.0 L596.8,242.6 L599.9,242.2 L603.1,241.8 L606.3,241.5 L609.5,241.2 L612.9,240.9 L616.2,240.7 L619.6,240.4 L623.0,240.2 L626.5,240.0 L630.1,239.9 L633.6,239.8 L637.2,239.7 L640.9,239.6 L644.6,239.6 L648.3,239.5 L652.1,239.5 L655.9,239.5 L659.8,239.5 L663.7,239.4 L667.6,239.4" fill="none" stroke="#df8156" stroke-width="1.2"/>
<path d="M519.2,269.0 L519.4,269.1 L519.8,269.2 L520.4,269.3 L521.1,269.4 L522.0,269.6 L522.9,269.7 L524.0,269.8 L525.1,269.8 L526.3,269.8 L527.6,269.7 L529.0,269.3 L530.5,268.8 L532.0,268.2 L533.7,267.4 L535.3,266.5 L537.1,265.5 L538.9,264.4 L540.8,263.3 L542.8,262.2 L544.8,261.0 L546.9,259.8 L549.0,258.5 L551.2,257.2 L553.5,255.9 L555.8,254.6 L558.1,253.4 L560.6,252.3 L563.0,251.3 L565.6,250.3 L568.2,249.3 L570.8,248.5 L573.5,247.7 L576.2,246.9 L579.0,246.2 L581.8,245.5 L584.7,244.9 L587.7,244.3 L590.7,243.8 L593.7,243.3 L596.8,242.9 L599.9,242.4 L603.1,242.0 L606.3,241.7 L609.5,241.3 L612.9,241.0 L616.2,240.8 L619.6,240.5 L623.0,240.3 L626.5,240.1 L630.1,239.9 L633.6,239.8 L637.2,239.7 L640.9,239.7 L644.6,239.6 L648.3,239.6 L652.1,239.5 L655.9,239.5 L659.8,239.5 L663.7,239.5 L667.6,239.4" fill="none" stroke="#da7e53" stroke-width="1.2"/>
<path d="M519.2,271.2 L519.4,271.2 L519.8,271.2 L520.4,271.3 L521.1,271.5 L522.0,271.6 L522.9,271.7 L524.0,271.7 L525.1,271.7 L526.3,271.6 L527.6,271.4 L529.0,271.0 L530.5,270.5 L532.0,269.8 L533.7,268.9 L535.3,268.0 L537.1,266.9 L538.9,265.8 L540.8,264.6 L542.8,263.4 L544.8,262.2 L546.9,260.9 L549.0,259.6 L551.2,258.2 L553.5,256.8 L555.8,255.5 L558.1,254.2 L560.6,253.1 L563.0,252.0 L565.6,250.9 L568.2,250.0 L570.8,249.0 L573.5,248.2 L576.2,247.4 L579.0,246.6 L581.8,245.9 L584.7,245.3 L587.7,244.7 L590.7,244.1 L593.7,243.6 L596.8,243.1 L599.9,242.7 L603.1,242.2 L606.3,241.8 L609.5,241.5 L612.9,241.2 L616.2,240.9 L619.6,240.6 L623.0,240.4 L626.5,240.2 L630.1,240.0 L633.6,239.9 L637.2,239.8 L640.9,239.7 L644.6,239.6 L648.3,239.6 L652.1,239.5 L655.9,239.5 L659.8,239.5 L663.7,239.5 L667.6,239.4" fill="none" stroke="#d47b51" stroke-width="1.2"/>
<path d="M519.2,273.2 L519.4,273.2 L519.8,273.3 L520.4,273.3 L521.1,273.4 L522.0,273.5 L522.9,273.6 L524.0,273.6 L525.1,273.5 L526.3,273.4 L527.6,273.1 L529.0,272.7 L530.5,272.1 L532.0,271.3 L533.7,270.4 L535.3,269.4 L537.1,268.3 L538.9,267.1 L540.8,265.9 L542.8,264.6 L544.8,263.4 L546.9,262.0 L549.0,260.6 L551.2,259.2 L553.5,257.7 L555.8,256.3 L558.1,255.0 L560.6,253.8 L563.0,252.7 L565.6,251.6 L568.2,250.5 L570.8,249.6 L573.5,248.7 L576.2,247.8 L579.0,247.1 L581.8,246.3 L584.7,245.7 L587.7,245.0 L590.7,244.4 L593.7,243.9 L596.8,243.4 L599.9,242.9 L603.1,242.4 L606.3,242.0 L609.5,241.6 L612.9,241.3 L616.2,241.0 L619.6,240.7 L623.0,240.5 L626.5,240.2 L630.1,240.0 L633.6,239.9 L637.2,239.8 L640.9,239.7 L644.6,239.7 L648.3,239.6 L652.1,239.6 L655.9,239.5 L659.8,239.5 L663.7,239.5 L667.6,239.5" fill="none" stroke="#ce774e" stroke-width="1.2"/>
<path d="M519.2,275.2 L519.4,275.2 L519.8,275.2 L520.4,275.3 L521.1,275.3 L522.0,275.4 L522.9,275.4 L524.0,275.3 L525.1,275.2 L526.3,275.1 L527.6,274.8 L529.0,274.3 L530.5,273.7 L532.0,272.8 L533.7,271.9 L535.3,270.8 L537.1,269.6 L538.9,268.4 L540.8,267.1 L542.8,265.8 L544.8,264.5 L546.9,263.1 L549.0,261.6 L551.2,260.1 L553.5,258.6 L555.8,257.2 L558.1,255.8 L560.6,254.5 L563.0,253.3 L565.6,252.2 L568.2,251.1 L570.8,250.1 L573.5,249.2 L576.2,248.3 L579.0,247.5 L581.8,246.7 L584.7,246.0 L587.7,245.3 L590.7,244.7 L593.7,244.1 L596.8,243.6 L599.9,243.1 L603.1,242.6 L606.3,242.2 L609.5,241.8 L612.9,241.4 L616.2,241.1 L619.6,240.8 L623.0,240.5 L626.5,240.3 L630.1,240.1 L633.6,239.9 L637.2,239.8 L640.9,239.8 L644.6,239.7 L648.3,239.6 L652.1,239.6 L655.9,239.5 L659.8,239.5 L663.7,239.5 L667.6,239.5" fill="none" stroke="#c9744c" stroke-width="1.2"/>
<path d="M519.2,277.1 L519.4,277.1 L519.8,277.1 L520.4,277.1 L521.1,277.1 L522.0,277.2 L522.9,277.1 L524.0,277.0 L525.1,276.9 L526.3,276.7 L527.6,276.3 L529.0,275.8 L530.5,275.2 L532.0,274.3 L533.7,273.3 L535.3,272.2 L537.1,270.9 L538.9,269.6 L540.8,268.3 L542.8,266.9 L544.8,265.5 L546.9,264.1 L549.0,262.6 L551.2,261.0 L553.5,259.5 L555.8,258.0 L558.1,256.5 L560.6,255.2 L563.0,254.0 L565.6,252.8 L568.2,251.7 L570.8,250.6 L573.5,249.7 L576.2,248.7 L579.0,247.9 L581.8,247.1 L584.7,246.3 L587.7,245.6 L590.7,245.0 L593.7,244.4 L596.8,243.8 L599.9,243.3 L603.1,242.8 L606.3,242.3 L609.5,241.9 L612.9,241.5 L616.2,241.2 L619.6,240.9 L623.0,240.6 L626.5,240.3 L630.1,240.1 L633.6,240.0 L637.2,239.9 L640.9,239.8 L644.6,239.7 L648.3,239.6 L652.1,239.6 L655.9,239.5 L659.8,239.5 L663.7,239.5 L667.6,239.5" fill="none" stroke="#c37049" stroke-width="1.2"/>
<path d="M519.2,279.0 L519.4,279.0 L519.8,279.0 L520.4,278.9 L521.1,278.9 L522.0,278.9 L522.9,278.8 L524.0,278.7 L525.1,278.5 L526.3,278.3 L527.6,277.9 L529.0,277.3 L530.5,276.6 L532.0,275.7 L533.7,274.6 L535.3,273.5 L537.1,272.2 L538.9,270.8 L540.8,269.4 L542.8,268.0 L544.8,266.6 L546.9,265.1 L549.0,263.5 L551.2,261.9 L553.5,260.3 L555.8,258.7 L558.1,257.2 L560.6,255.9 L563.0,254.6 L565.6,253.4 L568.2,252.2 L570.8,251.1 L573.5,250.1 L576.2,249.2 L579.0,248.3 L581.8,247.4 L584.7,246.7 L587.7,245.9 L590.7,245.3 L593.7,244.6 L596.8,244.0 L599.9,243.5 L603.1,242.9 L606.3,242.5 L609.5,242.0 L612.9,241.6 L616.2,241.3 L619.6,241.0 L623.0,240.7 L626.5,240.4 L630.1,240.2 L633.6,240.0 L637.2,239.9 L640.9,239.8 L644.6,239.7 L648.3,239.7 L652.1,239.6 L655.9,239.6 L659.8,239.5 L663.7,239.5 L667.6,239.5" fill="none" stroke="#bd6d46" stroke-width="1.2"/>
<path d="M519.2,280.8 L519.4,280.8 L519.8,280.7 L520.4,280.7 L521.1,280.6 L522.0,280.6 L522.9,280.5 L524.0,280.3 L525.1,280.1 L526.3,279.8 L527.6,279.3 L529.0,278.8 L530.5,278.0 L532.0,277.1 L533.7,276.0 L535.3,274.7 L537.1,273.4 L538.9,272.0 L540.8,270.5 L542.8,269.0 L544.8,267.6 L546.9,266.0 L549.0,264.4 L551.2,262.7 L553.5,261.1 L555.8,259.5 L558.1,257.9 L560.6,256.5 L563.0,255.2 L565.6,253.9 L568.2,252.7 L570.8,251.6 L573.5,250.6 L576.2,249.6 L579.0,248.6 L581.8,247.8 L584.7,247.0 L587.7,246.2 L590.7,245.5 L593.7,244.9 L596.8,244.2 L599.9,243.7 L603.1,243.1 L606.3,242.6 L609.5,242.1 L612.9,241.7 L616.2,241.4 L619.6,241.0 L623.0,240.7 L626.5,240.5 L630.1,240.2 L633.6,240.1 L637.2,239.9 L640.9,239.8 L644.6,239.8 L648.3,239.7 L652.1,239.6 L655.9,239.6 L659.8,239.5 L663.7,239.5 L667.6,239.5" fill="none" stroke="#b76a44" stroke-width="1.2"/>
<path d="M519.2,282.5 L519.4,282.5 L519.8,282.4 L520.4,282.3 L521.1,282.3 L522.0,282.2 L522.9,282.0 L524.0,281.8 L525.1,281.6 L526.3,281.2 L527.6,280.8 L529.0,280.1 L530.5,279.3 L532.0,278.4 L533.7,277.2 L535.3,275.9 L537.1,274.5 L538.9,273.1 L540.8,271.6 L542.8,270.1 L544.8,268.5 L546.9,266.9 L549.0,265.2 L551.2,263.5 L553.5,261.8 L555.8,260.2 L558.1,258.6 L560.6,257.1 L563.0,255.8 L565.6,254.5 L568.2,253.2 L570.8,252.1 L573.5,251.0 L576.2,250.0 L579.0,249.0 L581.8,248.1 L584.7,247.3 L587.7,246.5 L590.7,245.8 L593.7,245.1 L596.8,244.4 L599.9,243.8 L603.1,243.3 L606.3,242.7 L609.5,242.3 L612.9,241.8 L616.2,241.5 L619.6,241.1 L623.0,240.8 L626.5,240.5 L630.1,240.3 L633.6,240.1 L637.2,240.0 L640.9,239.9 L644.6,239.8 L648.3,239.7 L652.1,239.6 L655.9,239.6 L659.8,239.6 L663.7,239.5 L667.6,239.5" fill="none" stroke="#b26641" stroke-width="1.2"/>
<path d="M519.2,284.2 L519.4,284.1 L519.8,284.0 L520.4,284.0 L521.1,283.8 L522.0,283.7 L522.9,283.5 L524.0,283.3 L525.1,283.0 L526.3,282.6 L527.6,282.1 L529.0,281.5 L530.5,280.6 L532.0,279.6 L533.7,278.4 L535.3,277.1 L537.1,275.6 L538.9,274.1 L540.8,272.6 L542.8,271.0 L544.8,269.4 L546.9,267.8 L549.0,266.0 L551.2,264.3 L553.5,262.5 L555.8,260.8 L558.1,259.2 L560.6,257.7 L563.0,256.3 L565.6,255.0 L568.2,253.7 L570.8,252.5 L573.5,251.4 L576.2,250.3 L579.0,249.3 L581.8,248.4 L584.7,247.6 L587.7,246.8 L590.7,246.0 L593.7,245.3 L596.8,244.6 L599.9,244.0 L603.1,243.4 L606.3,242.9 L609.5,242.4 L612.9,241.9 L616.2,241.6 L619.6,241.2 L623.0,240.9 L626.5,240.6 L630.1,240.3 L633.6,240.1 L637.2,240.0 L640.9,239.9 L644.6,239.8 L648.3,239.7 L652.1,239.6 L655.9,239.6 L659.8,239.6 L663.7,239.5 L667.6,239.5" fill="none" stroke="#ac633f" stroke-width="1.2"/>
<path d="M519.2,285.7 L519.4,285.7 L519.8,285.6 L520.4,285.5 L521.1,285.4 L522.0,285.2 L522.9,285.0 L524.0,284.7 L525.1,284.4 L526.3,284.0 L527.6,283.4 L529.0,282.7 L530.5,281.9 L532.0,280.8 L533.7,279.6 L535.3,278.2 L537.1,276.7 L538.9,275.2 L540.8,273.5 L542.8,271.9 L544.8,270.3 L546.9,268.6 L549.0,266.8 L551.2,265.0 L553.5,263.2 L555.8,261.5 L558.1,259.8 L560.6,258.3 L563.0,256.9 L565.6,255.5 L568.2,254.2 L570.8,252.9 L573.5,251.8 L576.2,250.7 L579.0,249.7 L581.8,248.7 L584.7,247.9 L587.7,247.0 L590.7,246.3 L593.7,245.5 L596.8,244.8 L599.9,244.2 L603.1,243.6 L606.3,243.0 L609.5,242.5 L612.9,242.0 L616.2,241.6 L619.6,241.3 L623.0,240.9 L626.5,240.6 L630.1,240.4 L633.6,240.2 L637.2,240.0 L640.9,239.9 L644.6,239.8 L648.3,239.7 L652.1,239.7 L655.9,239.6 L659.8,239.6 L663.7,239.5 L667.6,239.5" fill="none" stroke="#a65f3c" stroke-width="1.2"/>
<path d="M519.2,287.3 L519.4,287.2 L519.8,287.1 L520.4,287.0 L521.1,286.8 L522.0,286.6 L522.9,286.4 L524.0,286.1 L525.1,285.7 L526.3,285.2 L527.6,284.7 L529.0,283.9 L530.5,283.1 L532.0,282.0 L533.7,280.7 L535.3,279.3 L537.1,277.7 L538.9,276.1 L540.8,274.5 L542.8,272.8 L544.8,271.2 L546.9,269.4 L549.0,267.6 L551.2,265.7 L553.5,263.9 L555.8,262.1 L558.1,260.4 L560.6,258.9 L563.0,257.4 L565.6,256.0 L568.2,254.6 L570.8,253.3 L573.5,252.2 L576.2,251.0 L579.0,250.0 L581.8,249.0 L584.7,248.1 L587.7,247.3 L590.7,246.5 L593.7,245.7 L596.8,245.0 L599.9,244.3 L603.1,243.7 L606.3,243.1 L609.5,242.6 L612.9,242.1 L616.2,241.7 L619.6,241.3 L623.0,241.0 L626.5,240.7 L630.1,240.4 L633.6,240.2 L637.2,240.1 L640.9,239.9 L644.6,239.8 L648.3,239.7 L652.1,239.7 L655.9,239.6 L659.8,239.6 L663.7,239.6 L667.6,239.5" fill="none" stroke="#a05c39" stroke-width="1.2"/>
<path d="M519.2,288.7 L519.4,288.7 L519.8,288.5 L520.4,288.4 L521.1,288.2 L522.0,288.0 L522.9,287.7 L524.0,287.4 L525.1,287.0 L526.3,286.5 L527.6,285.9 L529.0,285.1 L530.5,284.2 L532.0,283.1 L533.7,281.7 L535.3,280.3 L537.1,278.7 L538.9,277.1 L540.8,275.4 L542.8,273.7 L544.8,272.0 L546.9,270.2 L549.0,268.3 L551.2,266.4 L553.5,264.5 L555.8,262.7 L558.1,261.0 L560.6,259.4 L563.0,257.8 L565.6,256.4 L568.2,255.0 L570.8,253.7 L573.5,252.5 L576.2,251.4 L579.0,250.3 L581.8,249.3 L584.7,248.4 L587.7,247.5 L590.7,246.7 L593.7,245.9 L596.8,245.2 L599.9,244.5 L603.1,243.8 L606.3,243.2 L609.5,242.7 L612.9,242.2 L616.2,241.8 L619.6,241.4 L623.0,241.0 L626.5,240.7 L630.1,240.4 L633.6,240.2 L637.2,240.1 L640.9,240.0 L644.6,239.9 L648.3,239.8 L652.1,239.7 L655.9,239.6 L659.8,239.6 L663.7,239.6 L667.6,239.5" fill="none" stroke="#9b5937" stroke-width="1.2"/>
<path d="M519.2,290.1 L519.4,290.0 L519.8,289.9 L520.4,289.7 L521.1,289.5 L522.0,289.3 L522.9,289.0 L524.0,288.6 L525.1,288.2 L526.3,287.6 L527.6,287.0 L529.0,286.2 L530.5,285.3 L532.0,284.1 L533.7,282.8 L535.3,281.3 L537.1,279.6 L538.9,278.0 L540.8,276.2 L542.8,274.5 L544.8,272.7 L546.9,270.9 L549.0,269.0 L551.2,267.1 L553.5,265.2 L555.8,263.3 L558.1,261.5 L560.6,259.9 L563.0,258.3 L565.6,256.8 L568.2,255.4 L570.8,254.1 L573.5,252.9 L576.2,251.7 L579.0,250.6 L581.8,249.6 L584.7,248.6 L587.7,247.7 L590.7,246.9 L593.7,246.1 L596.8,245.3 L599.9,244.6 L603.1,243.9 L606.3,243.3 L609.5,242.8 L612.9,242.3 L616.2,241.9 L619.6,241.5 L623.0,241.1 L626.5,240.7 L630.1,240.5 L633.6,240.2 L637.2,240.1 L640.9,240.0 L644.6,239.9 L648.3,239.8 L652.1,239.7 L655.9,239.6 L659.8,239.6 L663.7,239.6 L667.6,239.5" fill="none" stroke="#955534" stroke-width="1.2"/>
<path d="M519.2,291.4 L519.4,291.3 L519.8,291.2 L520.4,291.0 L521.1,290.8 L522.0,290.5 L522.9,290.2 L524.0,289.8 L525.1,289.3 L526.3,288.8 L527.6,288.1 L529.0,287.3 L530.5,286.3 L532.0,285.1 L533.7,283.7 L535.3,282.2 L537.1,280.5 L538.9,278.8 L540.8,277.0 L542.8,275.3 L544.8,273.5 L546.9,271.6 L549.0,269.7 L551.2,267.7 L553.5,265.7 L555.8,263.8 L558.1,262.0 L560.6,260.3 L563.0,258.8 L565.6,257.2 L568.2,255.8 L570.8,254.5 L573.5,253.2 L576.2,252.0 L579.0,250.9 L581.8,249.8 L584.7,248.8 L587.7,247.9 L590.7,247.1 L593.7,246.3 L596.8,245.5 L599.9,244.8 L603.1,244.1 L606.3,243.4 L609.5,242.9 L612.9,242.4 L616.2,241.9 L619.6,241.5 L623.0,241.1 L626.5,240.8 L630.1,240.5 L633.6,240.3 L637.2,240.1 L640.9,240.0 L644.6,239.9 L648.3,239.8 L652.1,239.7 L655.9,239.7 L659.8,239.6 L663.7,239.6 L667.6,239.5" fill="none" stroke="#8f5231" stroke-width="1.2"/>
<path d="M519.2,292.7 L519.4,292.6 L519.8,292.4 L520.4,292.2 L521.1,291.9 L522.0,291.6 L522.9,291.3 L524.0,290.9 L525.1,290.4 L526.3,289.8 L527.6,289.1 L529.0,288.3 L530.5,287.3 L532.0,286.0 L533.7,284.6 L535.3,283.1 L537.1,281.4 L538.9,279.6 L540.8,277.8 L542.8,276.0 L544.8,274.2 L546.9,272.3 L549.0,270.3 L551.2,268.3 L553.5,266.3 L555.8,264.3 L558.1,262.5 L560.6,260.8 L563.0,259.2 L565.6,257.6 L568.2,256.2 L570.8,254.8 L573.5,253.5 L576.2,252.3 L579.0,251.1 L581.8,250.1 L584.7,249.1 L587.7,248.1 L590.7,247.3 L593.7,246.4 L596.8,245.6 L599.9,244.9 L603.1,244.2 L606.3,243.5 L609.5,243.0 L612.9,242.5 L616.2,242.0 L619.6,241.6 L623.0,241.2 L626.5,240.8 L630.1,240.5 L633.6,240.3 L637.2,240.1 L640.9,240.0 L644.6,239.9 L648.3,239.8 L652.1,239.7 L655.9,239.7 L659.8,239.6 L663.7,239.6 L667.6,239.5" fill="none" stroke="#894e2f" stroke-width="1.2"/>
<path d="M519.2,293.8 L519.4,293.8 L519.8,293.6 L520.4,293.3 L521.1,293.1 L522.0,292.8 L522.9,292.4 L524.0,291.9 L525.1,291.4 L526.3,290.8 L527.6,290.1 L529.0,289.2 L530.5,288.2 L532.0,286.9 L533.7,285.5 L535.3,283.9 L537.1,282.2 L538.9,280.4 L540.8,278.5 L542.8,276.7 L544.8,274.8 L546.9,272.9 L549.0,270.9 L551.2,268.8 L553.5,266.8 L555.8,264.8 L558.1,263.0 L560.6,261.2 L563.0,259.6 L565.6,258.0 L568.2,256.5 L570.8,255.1 L573.5,253.8 L576.2,252.5 L579.0,251.4 L581.8,250.3 L584.7,249.3 L587.7,248.3 L590.7,247.4 L593.7,246.6 L596.8,245.8 L599.9,245.0 L603.1,244.3 L606.3,243.6 L609.5,243.1 L612.9,242.5 L616.2,242.1 L619.6,241.6 L623.0,241.2 L626.5,240.9 L630.1,240.6 L633.6,240.3 L637.2,240.2 L640.9,240.0 L644.6,239.9 L648.3,239.8 L652.1,239.7 L655.9,239.7 L659.8,239.6 L663.7,239.6 L667.6,239.6" fill="none" stroke="#80492b" stroke-width="1.2"/>
<path d="M519.2,295.0 L519.4,294.9 L519.8,294.7 L520.4,294.4 L521.1,294.1 L522.0,293.8 L522.9,293.4 L524.0,292.9 L525.1,292.4 L526.3,291.8 L527.6,291.0 L529.0,290.1 L530.5,289.1 L532.0,287.8 L533.7,286.3 L535.3,284.7 L537.1,282.9 L538.9,281.1 L540.8,279.2 L542.8,277.3 L544.8,275.4 L546.9,273.5 L549.0,271.4 L551.2,269.3 L553.5,267.3 L555.8,265.3 L558.1,263.4 L560.6,261.6 L563.0,259.9 L565.6,258.4 L568.2,256.8 L570.8,255.4 L573.5,254.1 L576.2,252.8 L579.0,251.6 L581.8,250.5 L584.7,249.5 L587.7,248.5 L590.7,247.6 L593.7,246.7 L596.8,245.9 L599.9,245.1 L603.1,244.4 L606.3,243.7 L609.5,243.1 L612.9,242.6 L616.2,242.1 L619.6,241.7 L623.0,241.3 L626.5,240.9 L630.1,240.6 L633.6,240.3 L637.2,240.2 L640.9,240.1 L644.6,239.9 L648.3,239.8 L652.1,239.7 L655.9,239.7 L659.8,239.6 L663.7,239.6 L667.6,239.6" fill="none" stroke="#784428" stroke-width="1.2"/>
<path d="M519.2,296.0 L519.4,295.9 L519.8,295.7 L520.4,295.4 L521.1,295.1 L522.0,294.8 L522.9,294.3 L524.0,293.9 L525.1,293.3 L526.3,292.6 L527.6,291.9 L529.0,291.0 L530.5,289.9 L532.0,288.6 L533.7,287.1 L535.3,285.4 L537.1,283.6 L538.9,281.8 L540.8,279.8 L542.8,277.9 L544.8,276.0 L546.9,274.0 L549.0,271.9 L551.2,269.8 L553.5,267.7 L555.8,265.7 L558.1,263.8 L560.6,262.0 L563.0,260.3 L565.6,258.7 L568.2,257.1 L570.8,255.7 L573.5,254.3 L576.2,253.0 L579.0,251.8 L581.8,250.7 L584.7,249.7 L587.7,248.7 L590.7,247.7 L593.7,246.9 L596.8,246.0 L599.9,245.2 L603.1,244.5 L606.3,243.8 L609.5,243.2 L612.9,242.7 L616.2,242.2 L619.6,241.7 L623.0,241.3 L626.5,240.9 L630.1,240.6 L633.6,240.4 L637.2,240.2 L640.9,240.1 L644.6,240.0 L648.3,239.8 L652.1,239.8 L655.9,239.7 L659.8,239.6 L663.7,239.6 L667.6,239.6" fill="none" stroke="#703f25" stroke-width="1.2"/>
<path d="M519.2,297.0 L519.4,296.9 L519.8,296.7 L520.4,296.4 L521.1,296.1 L522.0,295.7 L522.9,295.2 L524.0,294.7 L525.1,294.1 L526.3,293.5 L527.6,292.7 L529.0,291.7 L530.5,290.6 L532.0,289.3 L533.7,287.8 L535.3,286.1 L537.1,284.3 L538.9,282.4 L540.8,280.4 L542.8,278.5 L544.8,276.6 L546.9,274.5 L549.0,272.4 L551.2,270.3 L553.5,268.2 L555.8,266.1 L558.1,264.2 L560.6,262.3 L563.0,260.6 L565.6,259.0 L568.2,257.4 L570.8,255.9 L573.5,254.6 L576.2,253.3 L579.0,252.0 L581.8,250.9 L584.7,249.8 L587.7,248.8 L590.7,247.9 L593.7,247.0 L596.8,246.1 L599.9,245.3 L603.1,244.6 L606.3,243.9 L609.5,243.3 L612.9,242.7 L616.2,242.2 L619.6,241.8 L623.0,241.3 L626.5,240.9 L630.1,240.6 L633.6,240.4 L637.2,240.2 L640.9,240.1 L644.6,240.0 L648.3,239.8 L652.1,239.8 L655.9,239.7 L659.8,239.7 L663.7,239.6 L667.6,239.6" fill="none" stroke="#683a22" stroke-width="1.2"/>
<path d="M519.2,297.9 L519.4,297.8 L519.8,297.6 L520.4,297.3 L521.1,296.9 L522.0,296.5 L522.9,296.1 L524.0,295.5 L525.1,294.9 L526.3,294.2 L527.6,293.4 L529.0,292.5 L530.5,291.3 L532.0,290.0 L533.7,288.5 L535.3,286.7 L537.1,284.9 L538.9,283.0 L540.8,281.0 L542.8,279.0 L544.8,277.1 L546.9,275.0 L549.0,272.9 L551.2,270.7 L553.5,268.6 L555.8,266.5 L558.1,264.5 L560.6,262.7 L563.0,260.9 L565.6,259.3 L568.2,257.7 L570.8,256.2 L573.5,254.8 L576.2,253.5 L579.0,252.2 L581.8,251.1 L584.7,250.0 L587.7,249.0 L590.7,248.0 L593.7,247.1 L596.8,246.2 L599.9,245.4 L603.1,244.7 L606.3,244.0 L609.5,243.3 L612.9,242.8 L616.2,242.3 L619.6,241.8 L623.0,241.4 L626.5,241.0 L630.1,240.7 L633.6,240.4 L637.2,240.2 L640.9,240.1 L644.6,240.0 L648.3,239.9 L652.1,239.8 L655.9,239.7 L659.8,239.7 L663.7,239.6 L667.6,239.6" fill="none" stroke="#60351e" stroke-width="1.2"/>
<path d="M519.2,298.7 L519.4,298.6 L519.8,298.4 L520.4,298.1 L521.1,297.7 L522.0,297.3 L522.9,296.8 L524.0,296.3 L525.1,295.7 L526.3,294.9 L527.6,294.1 L529.0,293.1 L530.5,292.0 L532.0,290.6 L533.7,289.1 L535.3,287.3 L537.1,285.5 L538.9,283.5 L540.8,281.5 L542.8,279.5 L544.8,277.5 L546.9,275.5 L549.0,273.3 L551.2,271.1 L553.5,268.9 L555.8,266.8 L558.1,264.8 L560.6,263.0 L563.0,261.2 L565.6,259.5 L568.2,257.9 L570.8,256.4 L573.5,255.0 L576.2,253.7 L579.0,252.4 L581.8,251.2 L584.7,250.1 L587.7,249.1 L590.7,248.1 L593.7,247.2 L596.8,246.3 L599.9,245.5 L603.1,244.7 L606.3,244.0 L609.5,243.4 L612.9,242.8 L616.2,242.3 L619.6,241.8 L623.0,241.4 L626.5,241.0 L630.1,240.7 L633.6,240.4 L637.2,240.2 L640.9,240.1 L644.6,240.0 L648.3,239.9 L652.1,239.8 L655.9,239.7 L659.8,239.7 L663.7,239.6 L667.6,239.6" fill="none" stroke="#58311b" stroke-width="1.2"/>
<path d="M519.2,299.5 L519.4,299.4 L519.8,299.2 L520.4,298.9 L521.1,298.5 L522.0,298.0 L522.9,297.6 L524.0,297.0 L525.1,296.3 L526.3,295.6 L527.6,294.8 L529.0,293.8 L530.5,292.6 L532.0,291.2 L533.7,289.6 L535.3,287.9 L537.1,286.0 L538.9,284.0 L540.8,282.0 L542.8,280.0 L544.8,278.0 L546.9,275.9 L549.0,273.7 L551.2,271.5 L553.5,269.3 L555.8,267.2 L558.1,265.1 L560.6,263.3 L563.0,261.5 L565.6,259.8 L568.2,258.2 L570.8,256.6 L573.5,255.2 L576.2,253.8 L579.0,252.6 L581.8,251.4 L584.7,250.3 L587.7,249.2 L590.7,248.3 L593.7,247.3 L596.8,246.4 L599.9,245.6 L603.1,244.8 L606.3,244.1 L609.5,243.4 L612.9,242.9 L616.2,242.3 L619.6,241.9 L623.0,241.4 L626.5,241.0 L630.1,240.7 L633.6,240.4 L637.2,240.3 L640.9,240.1 L644.6,240.0 L648.3,239.9 L652.1,239.8 L655.9,239.7 L659.8,239.7 L663.7,239.6 L667.6,239.6" fill="none" stroke="#502c18" stroke-width="1.2"/>
<path d="M519.2,300.2 L519.4,300.1 L519.8,299.9 L520.4,299.5 L521.1,299.2 L522.0,298.7 L522.9,298.2 L524.0,297.6 L525.1,297.0 L526.3,296.2 L527.6,295.3 L529.0,294.3 L530.5,293.2 L532.0,291.8 L533.7,290.2 L535.3,288.4 L537.1,286.5 L538.9,284.5 L540.8,282.4 L542.8,280.4 L544.8,278.4 L546.9,276.2 L549.0,274.0 L551.2,271.8 L553.5,269.6 L555.8,267.5 L558.1,265.4 L560.6,263.5 L563.0,261.7 L565.6,260.0 L568.2,258.4 L570.8,256.8 L573.5,255.4 L576.2,254.0 L579.0,252.7 L581.8,251.5 L584.7,250.4 L587.7,249.3 L590.7,248.4 L593.7,247.4 L596.8,246.5 L599.9,245.7 L603.1,244.9 L606.3,244.1 L609.5,243.5 L612.9,242.9 L616.2,242.4 L619.6,241.9 L623.0,241.5 L626.5,241.0 L630.1,240.7 L633.6,240.5 L637.2,240.3 L640.9,240.1 L644.6,240.0 L648.3,239.9 L652.1,239.8 L655.9,239.7 L659.8,239.7 L663.7,239.6 L667.6,239.6" fill="none" stroke="#472715" stroke-width="1.2"/>
<path d="M519.2,300.9 L519.4,300.7 L519.8,300.5 L520.4,300.2 L521.1,299.8 L522.0,299.3 L522.9,298.8 L524.0,298.2 L525.1,297.5 L526.3,296.7 L527.6,295.9 L529.0,294.9 L530.5,293.7 L532.0,292.2 L533.7,290.6 L535.3,288.8 L537.1,286.9 L538.9,284.9 L540.8,282.8 L542.8,280.8 L544.8,278.7 L546.9,276.6 L549.0,274.4 L551.2,272.1 L553.5,269.9 L555.8,267.7 L558.1,265.7 L560.6,263.7 L563.0,261.9 L565.6,260.2 L568.2,258.5 L570.8,257.0 L573.5,255.5 L576.2,254.1 L579.0,252.8 L581.8,251.6 L584.7,250.5 L587.7,249.4 L590.7,248.4 L593.7,247.5 L596.8,246.6 L599.9,245.7 L603.1,244.9 L606.3,244.2 L609.5,243.5 L612.9,243.0 L616.2,242.4 L619.6,241.9 L623.0,241.5 L626.5,241.1 L630.1,240.7 L633.6,240.5 L637.2,240.3 L640.9,240.1 L644.6,240.0 L648.3,239.9 L652.1,239.8 L655.9,239.7 L659.8,239.7 L663.7,239.6 L667.6,239.6" fill="none" stroke="#3f2211" stroke-width="1.2"/>
<path d="M519.2,301.4 L519.4,301.3 L519.8,301.1 L520.4,300.7 L521.1,300.3 L522.0,299.8 L522.9,299.3 L524.0,298.7 L525.1,298.0 L526.3,297.2 L527.6,296.3 L529.0,295.3 L530.5,294.1 L532.0,292.7 L533.7,291.0 L535.3,289.2 L537.1,287.3 L538.9,285.2 L540.8,283.2 L542.8,281.1 L544.8,279.0 L546.9,276.9 L549.0,274.6 L551.2,272.4 L553.5,270.1 L555.8,268.0 L558.1,265.9 L560.6,263.9 L563.0,262.1 L565.6,260.4 L568.2,258.7 L570.8,257.1 L573.5,255.7 L576.2,254.3 L579.0,253.0 L581.8,251.8 L584.7,250.6 L587.7,249.5 L590.7,248.5 L593.7,247.6 L596.8,246.7 L599.9,245.8 L603.1,245.0 L606.3,244.2 L609.5,243.6 L612.9,243.0 L616.2,242.4 L619.6,242.0 L623.0,241.5 L626.5,241.1 L630.1,240.7 L633.6,240.5 L637.2,240.3 L640.9,240.2 L644.6,240.0 L648.3,239.9 L652.1,239.8 L655.9,239.7 L659.8,239.7 L663.7,239.6 L667.6,239.6" fill="none" stroke="#371d0e" stroke-width="1.2"/>
<path d="M519.2,301.9 L519.4,301.8 L519.8,301.6 L520.4,301.2 L521.1,300.8 L522.0,300.3 L522.9,299.8 L524.0,299.2 L525.1,298.5 L526.3,297.7 L527.6,296.8 L529.0,295.7 L530.5,294.5 L532.0,293.1 L533.7,291.4 L535.3,289.6 L537.1,287.6 L538.9,285.6 L540.8,283.5 L542.8,281.4 L544.8,279.3 L546.9,277.1 L549.0,274.9 L551.2,272.6 L553.5,270.4 L555.8,268.2 L558.1,266.1 L560.6,264.1 L563.0,262.3 L565.6,260.5 L568.2,258.9 L570.8,257.3 L573.5,255.8 L576.2,254.4 L579.0,253.1 L581.8,251.9 L584.7,250.7 L587.7,249.6 L590.7,248.6 L593.7,247.6 L596.8,246.7 L599.9,245.8 L603.1,245.0 L606.3,244.3 L609.5,243.6 L612.9,243.0 L616.2,242.5 L619.6,242.0 L623.0,241.5 L626.5,241.1 L630.1,240.8 L633.6,240.5 L637.2,240.3 L640.9,240.2 L644.6,240.0 L648.3,239.9 L652.1,239.8 L655.9,239.7 L659.8,239.7 L663.7,239.6 L667.6,239.6" fill="none" stroke="#2f190b" stroke-width="1.2"/>
<path d="M519.2,302.4 L519.4,302.3 L519.8,302.0 L520.4,301.6 L521.1,301.2 L522.0,300.7 L522.9,300.2 L524.0,299.5 L525.1,298.8 L526.3,298.0 L527.6,297.1 L529.0,296.1 L530.5,294.9 L532.0,293.4 L533.7,291.7 L535.3,289.9 L537.1,287.9 L538.9,285.9 L540.8,283.7 L542.8,281.7 L544.8,279.6 L546.9,277.4 L549.0,275.1 L551.2,272.8 L553.5,270.6 L555.8,268.3 L558.1,266.2 L560.6,264.3 L563.0,262.4 L565.6,260.7 L568.2,259.0 L570.8,257.4 L573.5,255.9 L576.2,254.5 L579.0,253.2 L581.8,251.9 L584.7,250.8 L587.7,249.7 L590.7,248.7 L593.7,247.7 L596.8,246.8 L599.9,245.9 L603.1,245.1 L606.3,244.3 L609.5,243.6 L612.9,243.0 L616.2,242.5 L619.6,242.0 L623.0,241.5 L626.5,241.1 L630.1,240.8 L633.6,240.5 L637.2,240.3 L640.9,240.2 L644.6,240.0 L648.3,239.9 L652.1,239.8 L655.9,239.7 L659.8,239.7 L663.7,239.6 L667.6,239.6" fill="none" stroke="#29150a" stroke-width="1.2"/>
<path d="M519.2,302.8 L519.4,302.6 L519.8,302.3 L520.4,302.0 L521.1,301.6 L522.0,301.1 L522.9,300.5 L524.0,299.9 L525.1,299.2 L526.3,298.3 L527.6,297.4 L529.0,296.4 L530.5,295.1 L532.0,293.7 L533.7,292.0 L535.3,290.2 L537.1,288.2 L538.9,286.1 L540.8,284.0 L542.8,281.9 L544.8,279.8 L546.9,277.6 L549.0,275.3 L551.2,273.0 L553.5,270.7 L555.8,268.5 L558.1,266.4 L560.6,264.4 L563.0,262.6 L565.6,260.8 L568.2,259.1 L570.8,257.5 L573.5,256.0 L576.2,254.6 L579.0,253.2 L581.8,252.0 L584.7,250.8 L587.7,249.8 L590.7,248.7 L593.7,247.7 L596.8,246.8 L599.9,245.9 L603.1,245.1 L606.3,244.3 L609.5,243.7 L612.9,243.1 L616.2,242.5 L619.6,242.0 L623.0,241.5 L626.5,241.1 L630.1,240.8 L633.6,240.5 L637.2,240.3 L640.9,240.2 L644.6,240.0 L648.3,239.9 L652.1,239.8 L655.9,239.7 L659.8,239.7 L663.7,239.6 L667.6,239.6" fill="none" stroke="#221208" stroke-width="1.2"/>
<path d="M519.2,303.1 L519.4,302.9 L519.8,302.6 L520.4,302.3 L521.1,301.9 L522.0,301.4 L522.9,300.8 L524.0,300.1 L525.1,299.4 L526.3,298.6 L527.6,297.7 L529.0,296.6 L530.5,295.4 L532.0,293.9 L533.7,292.2 L535.3,290.4 L537.1,288.4 L538.9,286.3 L540.8,284.2 L542.8,282.1 L544.8,279.9 L546.9,277.7 L549.0,275.4 L551.2,273.1 L553.5,270.8 L555.8,268.6 L558.1,266.5 L560.6,264.5 L563.0,262.7 L565.6,260.9 L568.2,259.2 L570.8,257.6 L573.5,256.1 L576.2,254.6 L579.0,253.3 L581.8,252.1 L584.7,250.9 L587.7,249.8 L590.7,248.8 L593.7,247.8 L596.8,246.8 L599.9,246.0 L603.1,245.1 L606.3,244.4 L609.5,243.7 L612.9,243.1 L616.2,242.5 L619.6,242.0 L623.0,241.6 L626.5,241.1 L630.1,240.8 L633.6,240.5 L637.2,240.3 L640.9,240.2 L644.6,240.0 L648.3,239.9 L652.1,239.8 L655.9,239.7 L659.8,239.7 L663.7,239.6 L667.6,239.6" fill="none" stroke="#1b0e07" stroke-width="1.2"/>
<path d="M519.2,303.3 L519.4,303.2 L519.8,302.9 L520.4,302.5 L521.1,302.1 L522.0,301.6 L522.9,301.0 L524.0,300.4 L525.1,299.6 L526.3,298.8 L527.6,297.9 L529.0,296.8 L530.5,295.6 L532.0,294.1 L533.7,292.4 L535.3,290.5 L537.1,288.5 L538.9,286.4 L540.8,284.3 L542.8,282.2 L544.8,280.1 L546.9,277.9 L549.0,275.6 L551.2,273.2 L553.5,271.0 L555.8,268.7 L558.1,266.6 L560.6,264.6 L563.0,262.7 L565.6,261.0 L568.2,259.2 L570.8,257.6 L573.5,256.1 L576.2,254.7 L579.0,253.4 L581.8,252.1 L584.7,250.9 L587.7,249.8 L590.7,248.8 L593.7,247.8 L596.8,246.9 L599.9,246.0 L603.1,245.2 L606.3,244.4 L609.5,243.7 L612.9,243.1 L616.2,242.5 L619.6,242.0 L623.0,241.6 L626.5,241.1 L630.1,240.8 L633.6,240.5 L637.2,240.3 L640.9,240.2 L644.6,240.0 L648.3,239.9 L652.1,239.8 L655.9,239.7 L659.8,239.7 L663.7,239.6 L667.6,239.6" fill="none" stroke="#140b05" stroke-width="1.2"/>
<path d="M519.2,303.5 L519.4,303.3 L519.8,303.0 L520.4,302.7 L521.1,302.2 L522.0,301.7 L522.9,301.2 L524.0,300.5 L525.1,299.8 L526.3,298.9 L527.6,298.0 L529.0,296.9 L530.5,295.7 L532.0,294.2 L533.7,292.5 L535.3,290.7 L537.1,288.6 L538.9,286.5 L540.8,284.4 L542.8,282.3 L544.8,280.2 L546.9,277.9 L549.0,275.6 L551.2,273.3 L553.5,271.0 L555.8,268.8 L558.1,266.7 L560.6,264.7 L563.0,262.8 L565.6,261.0 L568.2,259.3 L570.8,257.7 L573.5,256.2 L576.2,254.7 L579.0,253.4 L581.8,252.1 L584.7,251.0 L587.7,249.9 L590.7,248.8 L593.7,247.8 L596.8,246.9 L599.9,246.0 L603.1,245.2 L606.3,244.4 L609.5,243.7 L612.9,243.1 L616.2,242.5 L619.6,242.0 L623.0,241.6 L626.5,241.1 L630.1,240.8 L633.6,240.5 L637.2,240.3 L640.9,240.2 L644.6,240.0 L648.3,239.9 L652.1,239.8 L655.9,239.7 L659.8,239.7 L663.7,239.6 L667.6,239.6" fill="none" stroke="#0e0703" stroke-width="1.2"/>
<path d="M519.2,303.6 L519.4,303.4 L519.8,303.1 L520.4,302.8 L521.1,302.3 L522.0,301.8 L522.9,301.3 L524.0,300.6 L525.1,299.9 L526.3,299.0 L527.6,298.1 L529.0,297.0 L530.5,295.8 L532.0,294.3 L533.7,292.6 L535.3,290.7 L537.1,288.7 L538.9,286.6 L540.8,284.5 L542.8,282.3 L544.8,280.2 L546.9,278.0 L549.0,275.7 L551.2,273.4 L553.5,271.1 L555.8,268.8 L558.1,266.7 L560.6,264.7 L563.0,262.8 L565.6,261.0 L568.2,259.3 L570.8,257.7 L573.5,256.2 L576.2,254.8 L579.0,253.4 L581.8,252.2 L584.7,251.0 L587.7,249.9 L590.7,248.8 L593.7,247.9 L596.8,246.9 L599.9,246.0 L603.1,245.2 L606.3,244.4 L609.5,243.7 L612.9,243.1 L616.2,242.6 L619.6,242.0 L623.0,241.6 L626.5,241.1 L630.1,240.8 L633.6,240.5 L637.2,240.3 L640.9,240.2 L644.6,240.0 L648.3,239.9 L652.1,239.8 L655.9,239.7 L659.8,239.7 L663.7,239.7 L667.6,239.6" fill="none" stroke="#070402" stroke-width="1.2"/>
<path d="M519.2,303.6 L519.4,303.5 L519.8,303.2 L520.4,302.8 L521.1,302.4 L522.0,301.9 L522.9,301.3 L524.0,300.6 L525.1,299.9 L526.3,299.1 L527.6,298.1 L529.0,297.0 L530.5,295.8 L532.0,294.3 L533.7,292.6 L535.3,290.8 L537.1,288.7 L538.9,286.6 L540.8,284.5 L542.8,282.4 L544.8,280.2 L546.9,278.0 L549.0,275.7 L551.2,273.4 L553.5,271.1 L555.8,268.8 L558.1,266.7 L560.6,264.7 L563.0,262.8 L565.6,261.0 L568.2,259.3 L570.8,257.7 L573.5,256.2 L576.2,254.8 L579.0,253.4 L581.8,252.2 L584.7,251.0 L587.7,249.9 L590.7,248.8 L593.7,247.9 L596.8,246.9 L599.9,246.0 L603.1,245.2 L606.3,244.4 L609.5,243.7 L612.9,243.1 L616.2,242.6 L619.6,242.0 L623.0,241.6 L626.5,241.1 L630.1,240.8 L633.6,240.5 L637.2,240.3 L640.9,240.2 L644.6,240.0 L648.3,239.9 L652.1,239.8 L655.9,239.7 L659.8,239.7 L663.7,239.7 L667.6,239.6" fill="none" stroke="#000000" stroke-width="1.2"/>
<path d="M519.20,303.60 C521.08,302.30 526.47,299.45 530.50,295.80 C534.53,292.15 538.53,286.77 543.40,281.70 C548.27,276.63 553.87,270.07 559.70,265.40 C565.53,260.73 571.38,257.02 578.40,253.70 C585.42,250.38 594.00,247.57 601.80,245.50 C609.60,243.43 617.87,242.22 625.20,241.30 C632.53,240.38 638.73,240.28 645.80,240.00 C652.87,239.72 663.97,239.67 667.60,239.60" fill="none" stroke="#000" stroke-width="2.4" stroke-linejoin="round"/>
<path d="M50.45,230.60 V308.00 H199.06" fill="none" stroke="#2c2c2c" stroke-width="1.4" stroke-linecap="square"/>
<path d="M50.45,308.00 v1.6 M124.75,308.00 v1.6 M199.06,308.00 v1.6 M50.45,308.00 h-1.6 M50.45,272.73 h-1.6 M50.45,237.45 h-1.6 " fill="none" stroke="#2c2c2c" stroke-width="1.4" stroke-linecap="square"/>
<path d="M282.30,232.70 V309.85 H430.90" fill="none" stroke="#2c2c2c" stroke-width="1.4" stroke-linecap="square"/>
<path d="M282.30,309.85 v1.6 M356.60,309.85 v1.6 M430.90,309.85 v1.6 M282.30,309.85 h-1.6 M282.30,274.58 h-1.6 M282.30,239.30 h-1.6 " fill="none" stroke="#2c2c2c" stroke-width="1.4" stroke-linecap="square"/>
<path d="M519.00,230.70 V308.80 H667.60" fill="none" stroke="#2c2c2c" stroke-width="1.4" stroke-linecap="square"/>
<path d="M519.00,308.80 v1.6 M593.30,308.80 v1.6 M667.60,308.80 v1.6 M519.00,308.80 h-1.6 M519.00,273.55 h-1.6 M519.00,238.30 h-1.6 " fill="none" stroke="#2c2c2c" stroke-width="1.4" stroke-linecap="square"/>
<circle cx="50.5" cy="240.0" r="2.7" fill="#12a9ac"/>
<circle cx="282.2" cy="241.7" r="2.7" fill="#12a9ac"/>
<circle cx="519.0" cy="241.0" r="2.7" fill="#12a9ac"/>
<path d="M50.8,422.5 L51.0,422.3 L51.2,422.0 L51.4,421.7 L51.7,421.3 L52.0,420.9 L52.3,420.5 L52.6,420.1 L52.9,419.7 L53.3,419.4 L53.6,419.0 L53.9,418.7 L54.2,418.3 L54.6,418.0 L54.9,417.7 L55.3,417.4 L55.6,417.1 L56.0,416.8 L56.4,416.5 L56.8,416.1 L57.2,415.8 L57.6,415.5 L58.1,415.1 L58.6,414.7 L59.1,414.4 L59.6,414.0 L60.1,413.6 L60.6,413.3 L61.1,412.9 L61.6,412.6 L62.1,412.3 L62.6,412.0 L63.0,411.7 L63.4,411.5 L63.9,411.2 L64.3,411.0 L64.7,410.7 L65.1,410.5 L65.5,410.3 L65.9,410.0 L66.3,409.8 L66.7,409.6 L67.0,409.3 L67.3,409.1 L67.7,408.9 L68.0,408.6 L68.3,408.4 L68.6,408.2 L69.0,408.0 L69.4,407.9 L69.9,407.7 L70.4,407.6 L71.0,407.5 L71.6,407.4 L72.3,407.3 L72.9,407.2 L73.6,407.2 L74.3,407.1 L74.9,407.1 L75.6,407.0 L76.2,407.0 L76.8,407.0 L77.4,407.0 L77.9,407.0 L78.5,407.0 L79.1,407.0 L79.6,407.0 L80.2,407.0 L80.7,407.0 L81.3,407.1 L81.9,407.1 L82.5,407.1 L83.1,407.2 L83.7,407.2 L84.3,407.3 L84.9,407.4 L85.5,407.4 L86.1,407.5 L86.7,407.6 L87.4,407.6 L88.0,407.7 L88.6,407.8 L89.1,407.8 L89.6,407.9 L90.1,408.0 L90.6,408.0 L91.2,408.1 L91.9,408.2 L92.7,408.3 L93.6,408.4 L94.7,408.5 L96.0,408.6 L97.5,408.8 L99.2,408.9 L101.0,409.1 L102.9,409.2 L104.8,409.4 L106.7,409.5 L108.6,409.7 L110.5,409.8 L112.2,409.9 L113.6,410.0 L114.6,410.1 L115.3,410.1 L116.0,410.2 L116.8,410.2 L117.8,410.3 L119.3,410.3 L121.3,410.3 L124.2,410.4 L128.0,410.4 L133.2,410.4 L139.8,410.4 L147.5,410.4 L155.8,410.4 L164.4,410.4 L173.0,410.4 L181.1,410.4 L188.4,410.4 L194.4,410.4 L198.9,410.4 L198.9,410.5 L194.5,410.5 L188.6,410.5 L181.5,410.6 L173.6,410.6 L165.2,410.6 L156.6,410.6 L148.3,410.7 L140.5,410.7 L133.6,410.7 L128.0,410.8 L123.4,410.9 L119.5,410.9 L116.1,411.0 L113.2,411.1 L110.7,411.2 L108.4,411.3 L106.4,411.4 L104.4,411.4 L102.5,411.5 L100.6,411.6 L98.7,411.7 L97.1,411.8 L95.7,411.9 L94.5,411.9 L93.3,412.0 L92.3,412.1 L91.3,412.2 L90.2,412.2 L89.2,412.3 L88.0,412.3 L86.8,412.3 L85.5,412.3 L84.3,412.2 L83.0,412.1 L81.8,412.1 L80.5,412.0 L79.4,411.9 L78.2,411.9 L77.2,411.9 L76.2,411.9 L75.3,411.9 L74.5,412.0 L73.8,412.1 L73.1,412.2 L72.4,412.3 L71.8,412.4 L71.2,412.5 L70.5,412.7 L69.9,412.8 L69.2,413.0 L68.5,413.2 L67.8,413.4 L67.0,413.6 L66.3,413.9 L65.6,414.1 L64.9,414.4 L64.2,414.6 L63.5,414.9 L62.8,415.2 L62.1,415.5 L61.4,415.8 L60.8,416.1 L60.2,416.5 L59.5,416.8 L58.9,417.2 L58.3,417.6 L57.7,417.9 L57.1,418.3 L56.6,418.6 L56.0,419.0 L55.4,419.4 L54.8,419.8 L54.2,420.2 L53.6,420.6 L53.0,421.0 L52.5,421.4 L51.9,421.7 L51.5,422.0 L51.1,422.3 L50.8,422.5 Z" fill="#e88e5e"/>
<path d="M50.8,422.5 L51.0,422.2 L51.4,421.7 L52.0,420.9 L52.7,420.0 L53.6,419.0 L54.5,418.1 L55.6,417.1 L56.7,416.2 L57.9,415.2 L59.2,414.3 L60.6,413.3 L62.1,412.3 L63.6,411.4 L65.2,410.4 L66.9,409.4 L68.7,408.2 L70.5,407.6 L72.4,407.3 L74.3,407.1 L76.3,407.0 L78.4,407.0 L80.5,407.0 L82.7,407.2 L85.0,407.4 L87.3,407.6 L89.7,407.9 L92.1,408.2 L94.5,408.5 L97.1,408.7 L99.7,408.9 L102.3,409.2 L105.0,409.4 L107.7,409.6 L110.5,409.8 L113.3,410.0 L116.2,410.2 L119.1,410.3 L122.1,410.4 L125.1,410.4 L128.2,410.4 L131.3,410.4 L134.5,410.4 L137.7,410.4 L141.0,410.4 L144.3,410.4 L147.6,410.4 L151.0,410.4 L154.4,410.4 L157.9,410.4 L161.4,410.4 L165.0,410.4 L168.6,410.4 L172.2,410.4 L175.9,410.4 L179.7,410.4 L183.4,410.4 L187.2,410.4 L191.1,410.4 L195.0,410.4 L198.9,410.4" fill="none" stroke="#ea9361" stroke-width="1.0"/>
<path d="M50.8,422.5 L51.0,422.2 L51.4,421.7 L52.0,421.0 L52.7,420.1 L53.6,419.2 L54.5,418.4 L55.6,417.5 L56.7,416.5 L57.9,415.6 L59.2,414.7 L60.6,413.7 L62.1,412.8 L63.6,411.9 L65.2,411.0 L66.9,410.0 L68.7,408.9 L70.5,408.3 L72.4,408.0 L74.3,407.8 L76.3,407.7 L78.4,407.7 L80.5,407.7 L82.7,407.9 L85.0,408.1 L87.3,408.3 L89.7,408.5 L92.1,408.8 L94.5,409.0 L97.1,409.2 L99.7,409.3 L102.3,409.5 L105.0,409.7 L107.7,409.8 L110.5,410.0 L113.3,410.1 L116.2,410.3 L119.1,410.4 L122.1,410.4 L125.1,410.4 L128.2,410.5 L131.3,410.5 L134.5,410.5 L137.7,410.5 L141.0,410.5 L144.3,410.5 L147.6,410.5 L151.0,410.5 L154.4,410.5 L157.9,410.5 L161.4,410.5 L165.0,410.5 L168.6,410.5 L172.2,410.4 L175.9,410.4 L179.7,410.4 L183.4,410.4 L187.2,410.4 L191.1,410.4 L195.0,410.4 L198.9,410.4" fill="none" stroke="#ea9160" stroke-width="1.0"/>
<path d="M50.8,422.5 L51.0,422.3 L51.4,421.8 L52.0,421.1 L52.7,420.3 L53.6,419.5 L54.5,418.6 L55.6,417.8 L56.7,416.9 L57.9,416.0 L59.2,415.1 L60.6,414.1 L62.1,413.2 L63.6,412.4 L65.2,411.5 L66.9,410.6 L68.7,409.6 L70.5,409.0 L72.4,408.7 L74.3,408.5 L76.3,408.4 L78.4,408.4 L80.5,408.4 L82.7,408.6 L85.0,408.8 L87.3,409.0 L89.7,409.2 L92.1,409.3 L94.5,409.5 L97.1,409.6 L99.7,409.7 L102.3,409.8 L105.0,410.0 L107.7,410.1 L110.5,410.2 L113.3,410.3 L116.2,410.4 L119.1,410.5 L122.1,410.5 L125.1,410.5 L128.2,410.5 L131.3,410.5 L134.5,410.5 L137.7,410.5 L141.0,410.5 L144.3,410.5 L147.6,410.5 L151.0,410.5 L154.4,410.5 L157.9,410.5 L161.4,410.5 L165.0,410.5 L168.6,410.5 L172.2,410.5 L175.9,410.5 L179.7,410.5 L183.4,410.5 L187.2,410.4 L191.1,410.4 L195.0,410.4 L198.9,410.4" fill="none" stroke="#e98f5f" stroke-width="1.0"/>
<path d="M50.8,422.5 L51.0,422.3 L51.4,421.8 L52.0,421.2 L52.7,420.5 L53.6,419.7 L54.5,418.9 L55.6,418.1 L56.7,417.2 L57.9,416.3 L59.2,415.5 L60.6,414.6 L62.1,413.7 L63.6,412.9 L65.2,412.1 L66.9,411.2 L68.7,410.3 L70.5,409.8 L72.4,409.4 L74.3,409.2 L76.3,409.1 L78.4,409.1 L80.5,409.2 L82.7,409.3 L85.0,409.5 L87.3,409.6 L89.7,409.8 L92.1,409.9 L94.5,410.0 L97.1,410.0 L99.7,410.1 L102.3,410.2 L105.0,410.3 L107.7,410.3 L110.5,410.4 L113.3,410.4 L116.2,410.5 L119.1,410.6 L122.1,410.6 L125.1,410.6 L128.2,410.6 L131.3,410.6 L134.5,410.6 L137.7,410.6 L141.0,410.5 L144.3,410.5 L147.6,410.5 L151.0,410.5 L154.4,410.5 L157.9,410.5 L161.4,410.5 L165.0,410.5 L168.6,410.5 L172.2,410.5 L175.9,410.5 L179.7,410.5 L183.4,410.5 L187.2,410.5 L191.1,410.5 L195.0,410.4 L198.9,410.4" fill="none" stroke="#e88e5e" stroke-width="1.0"/>
<path d="M50.8,422.5 L51.0,422.3 L51.4,421.9 L52.0,421.3 L52.7,420.7 L53.6,419.9 L54.5,419.2 L55.6,418.4 L56.7,417.6 L57.9,416.7 L59.2,415.8 L60.6,415.0 L62.1,414.1 L63.6,413.4 L65.2,412.6 L66.9,411.8 L68.7,411.0 L70.5,410.5 L72.4,410.1 L74.3,409.9 L76.3,409.8 L78.4,409.8 L80.5,409.9 L82.7,410.0 L85.0,410.2 L87.3,410.3 L89.7,410.4 L92.1,410.5 L94.5,410.5 L97.1,410.5 L99.7,410.5 L102.3,410.5 L105.0,410.5 L107.7,410.6 L110.5,410.6 L113.3,410.6 L116.2,410.7 L119.1,410.7 L122.1,410.7 L125.1,410.6 L128.2,410.6 L131.3,410.6 L134.5,410.6 L137.7,410.6 L141.0,410.6 L144.3,410.6 L147.6,410.6 L151.0,410.6 L154.4,410.6 L157.9,410.5 L161.4,410.5 L165.0,410.5 L168.6,410.5 L172.2,410.5 L175.9,410.5 L179.7,410.5 L183.4,410.5 L187.2,410.5 L191.1,410.5 L195.0,410.5 L198.9,410.5" fill="none" stroke="#e78c5d" stroke-width="1.0"/>
<path d="M50.8,422.5 L51.0,422.3 L51.4,421.9 L52.0,421.4 L52.7,420.8 L53.6,420.1 L54.5,419.4 L55.6,418.7 L56.7,417.9 L57.9,417.1 L59.2,416.2 L60.6,415.4 L62.1,414.6 L63.6,413.9 L65.2,413.1 L66.9,412.4 L68.7,411.7 L70.5,411.2 L72.4,410.8 L74.3,410.6 L76.3,410.5 L78.4,410.5 L80.5,410.6 L82.7,410.7 L85.0,410.9 L87.3,411.0 L89.7,411.0 L92.1,411.0 L94.5,410.9 L97.1,410.9 L99.7,410.9 L102.3,410.9 L105.0,410.8 L107.7,410.8 L110.5,410.8 L113.3,410.8 L116.2,410.8 L119.1,410.8 L122.1,410.7 L125.1,410.7 L128.2,410.7 L131.3,410.7 L134.5,410.7 L137.7,410.6 L141.0,410.6 L144.3,410.6 L147.6,410.6 L151.0,410.6 L154.4,410.6 L157.9,410.6 L161.4,410.6 L165.0,410.6 L168.6,410.5 L172.2,410.5 L175.9,410.5 L179.7,410.5 L183.4,410.5 L187.2,410.5 L191.1,410.5 L195.0,410.5 L198.9,410.5" fill="none" stroke="#e78b5c" stroke-width="1.0"/>
<path d="M50.8,422.5 L51.0,422.3 L51.4,422.0 L52.0,421.5 L52.7,421.0 L53.6,420.4 L54.5,419.7 L55.6,419.0 L56.7,418.2 L57.9,417.4 L59.2,416.6 L60.6,415.8 L62.1,415.1 L63.6,414.3 L65.2,413.7 L66.9,413.0 L68.7,412.4 L70.5,411.9 L72.4,411.6 L74.3,411.3 L76.3,411.2 L78.4,411.2 L80.5,411.3 L82.7,411.4 L85.0,411.5 L87.3,411.6 L89.7,411.6 L92.1,411.6 L94.5,411.4 L97.1,411.3 L99.7,411.3 L102.3,411.2 L105.0,411.1 L107.7,411.1 L110.5,411.0 L113.3,410.9 L116.2,410.9 L119.1,410.8 L122.1,410.8 L125.1,410.8 L128.2,410.7 L131.3,410.7 L134.5,410.7 L137.7,410.7 L141.0,410.7 L144.3,410.6 L147.6,410.6 L151.0,410.6 L154.4,410.6 L157.9,410.6 L161.4,410.6 L165.0,410.6 L168.6,410.6 L172.2,410.6 L175.9,410.5 L179.7,410.5 L183.4,410.5 L187.2,410.5 L191.1,410.5 L195.0,410.5 L198.9,410.5" fill="none" stroke="#e6895b" stroke-width="1.0"/>
<path d="M50.8,422.5 L51.0,422.4 L51.4,422.1 L52.0,421.7 L52.7,421.2 L53.6,420.6 L54.5,420.0 L55.6,419.3 L56.7,418.6 L57.9,417.8 L59.2,417.0 L60.6,416.2 L62.1,415.5 L63.6,414.8 L65.2,414.2 L66.9,413.7 L68.7,413.1 L70.5,412.7 L72.4,412.3 L74.3,412.0 L76.3,411.9 L78.4,411.9 L80.5,412.0 L82.7,412.1 L85.0,412.2 L87.3,412.3 L89.7,412.3 L92.1,412.1 L94.5,411.9 L97.1,411.8 L99.7,411.6 L102.3,411.5 L105.0,411.4 L107.7,411.3 L110.5,411.2 L113.3,411.1 L116.2,411.0 L119.1,410.9 L122.1,410.9 L125.1,410.8 L128.2,410.8 L131.3,410.8 L134.5,410.7 L137.7,410.7 L141.0,410.7 L144.3,410.7 L147.6,410.7 L151.0,410.7 L154.4,410.6 L157.9,410.6 L161.4,410.6 L165.0,410.6 L168.6,410.6 L172.2,410.6 L175.9,410.6 L179.7,410.6 L183.4,410.5 L187.2,410.5 L191.1,410.5 L195.0,410.5 L198.9,410.5" fill="none" stroke="#e5875a" stroke-width="1.0"/>
<path d="M50.9,411.2 L58,410.2 L64,409.3 L69.9,407.9 L62.1,412.3 L57.2,415.8 L53.6,419 L50.9,422.3 Z" fill="#f3ad71"/>
<path d="M51.20,414.50 C52.33,414.17 55.87,413.17 58.00,412.50 C60.13,411.83 62.02,411.25 64.00,410.50 C65.98,409.75 68.92,408.42 69.90,408.00" fill="none" stroke="#f0a069" stroke-width="1.0" stroke-linejoin="round"/>
<path d="M51.20,403.50 C52.43,403.78 56.20,404.68 58.60,405.20 C61.00,405.72 63.37,406.22 65.60,406.60 C67.83,406.98 68.77,407.17 72.00,407.50 C75.23,407.83 78.67,408.22 85.00,408.60 C91.33,408.98 100.83,409.52 110.00,409.80 C119.17,410.08 135.00,410.22 140.00,410.30" fill="none" stroke="#f5b676" stroke-width="1.8" stroke-linejoin="round"/>
<path d="M51.20,412.00 C52.33,411.83 55.87,411.33 58.00,411.00 C60.13,410.67 62.00,410.30 64.00,410.00 C66.00,409.70 67.33,409.33 70.00,409.20 C72.67,409.07 78.33,409.20 80.00,409.20" fill="none" stroke="#f4b374" stroke-width="1.3" stroke-linejoin="round"/>
<path d="M50.80,371.60 C51.43,372.75 53.00,375.77 54.60,378.50 C56.20,381.23 58.33,385.25 60.40,388.00 C62.47,390.75 64.95,393.25 67.00,395.00 C69.05,396.75 70.58,397.38 72.70,398.50 C74.82,399.62 77.15,400.75 79.70,401.70 C82.25,402.65 84.82,403.43 88.00,404.20 C91.18,404.97 93.80,405.47 98.80,406.30 C103.80,407.13 110.30,408.55 118.00,409.20 C125.70,409.85 131.52,410.00 145.00,410.20 C158.48,410.40 189.92,410.37 198.90,410.40" fill="none" stroke="#f5b676" stroke-width="1.8" stroke-linejoin="round"/>
<path d="M50.80,422.50 C51.27,421.92 52.53,420.12 53.60,419.00 C54.67,417.88 55.78,416.92 57.20,415.80 C58.62,414.68 60.58,413.30 62.10,412.30 C63.62,411.30 65.00,410.57 66.30,409.80 C67.60,409.03 68.25,408.17 69.90,407.70 C71.55,407.23 74.20,407.10 76.20,407.00 C78.20,406.90 79.93,406.98 81.90,407.10 C83.87,407.22 85.87,407.47 88.00,407.70 C90.13,407.93 90.67,408.13 94.70,408.50 C98.73,408.87 106.65,409.58 112.20,409.90 C117.75,410.22 113.55,410.32 128.00,410.40 C142.45,410.48 187.08,410.40 198.90,410.40" fill="none" stroke="#000" stroke-width="2.2" stroke-linejoin="round"/>
<path d="M50.3,371.3 H199" stroke="#12a9ac" stroke-width="1.6" stroke-dasharray="5.6 5.4"/>
<path d="M282.1,374.7 L282.2,375.1 L282.4,375.7 L282.5,376.3 L282.7,377.0 L282.9,377.8 L283.1,378.6 L283.4,379.4 L283.6,380.2 L283.9,381.0 L284.2,381.7 L284.5,382.4 L284.9,383.1 L285.2,383.8 L285.6,384.5 L286.0,385.2 L286.5,385.9 L286.9,386.6 L287.4,387.3 L287.8,388.0 L288.3,388.6 L288.8,389.2 L289.3,389.8 L289.8,390.4 L290.4,391.0 L290.9,391.5 L291.5,392.1 L292.1,392.6 L292.7,393.2 L293.3,393.7 L293.9,394.2 L294.5,394.7 L295.2,395.2 L295.9,395.7 L296.6,396.2 L297.3,396.7 L298.0,397.2 L298.7,397.7 L299.4,398.1 L300.1,398.6 L300.8,399.0 L301.5,399.4 L302.1,399.8 L302.8,400.1 L303.4,400.5 L304.0,400.8 L304.7,401.2 L305.4,401.5 L306.1,401.8 L306.9,402.2 L307.8,402.5 L308.7,402.9 L309.7,403.2 L310.7,403.6 L311.8,403.9 L312.9,404.3 L314.1,404.7 L315.2,405.0 L316.4,405.3 L317.7,405.7 L318.9,406.0 L320.1,406.3 L321.3,406.6 L322.4,406.9 L323.6,407.2 L324.8,407.5 L326.1,407.7 L327.6,408.0 L329.1,408.3 L330.9,408.5 L332.8,408.8 L334.8,409.1 L336.7,409.4 L338.6,409.7 L340.6,410.0 L342.8,410.3 L345.3,410.6 L348.2,410.8 L351.6,411.1 L355.5,411.3 L360.0,411.5 L365.6,411.7 L372.5,411.8 L380.3,411.9 L388.6,412.0 L397.1,412.1 L405.5,412.2 L413.4,412.3 L420.5,412.3 L426.4,412.4 L430.8,412.4 L430.8,412.5 L429.8,412.5 L428.8,412.5 L427.8,412.5 L426.8,412.5 L425.7,412.5 L424.7,412.5 L423.7,412.4 L422.7,412.4 L421.7,412.4 L420.7,412.4 L419.7,412.4 L418.7,412.4 L417.7,412.4 L416.6,412.4 L415.6,412.4 L414.6,412.4 L413.6,412.4 L412.6,412.4 L411.6,412.4 L410.6,412.4 L409.6,412.4 L408.5,412.3 L407.5,412.3 L406.5,412.3 L405.5,412.3 L404.5,412.3 L403.5,412.3 L402.5,412.3 L401.5,412.3 L400.5,412.3 L399.4,412.3 L398.4,412.3 L397.4,412.3 L396.4,412.3 L395.4,412.2 L394.4,412.2 L393.4,412.2 L392.4,412.2 L391.4,412.2 L390.3,412.2 L389.3,412.2 L388.3,412.2 L387.3,412.2 L386.3,412.2 L385.3,412.2 L384.3,412.2 L383.3,412.2 L382.3,412.2 L381.2,412.1 L380.2,412.1 L379.2,412.1 L378.2,412.1 L377.2,412.1 L376.2,412.1 L375.2,412.1 L374.2,412.1 L373.1,412.1 L372.1,412.1 L371.1,412.1 L370.1,412.1 L369.1,412.1 L368.1,412.1 L367.1,412.1 L366.1,412.0 L365.1,412.0 L364.0,412.0 L363.0,412.0 L362.0,412.0 L361.0,412.0 L360.0,412.0 L359.0,411.9 L357.9,411.9 L356.9,411.8 L355.9,411.7 L354.8,411.7 L353.8,411.6 L352.8,411.5 L351.7,411.5 L350.7,411.4 L349.7,411.3 L348.6,411.3 L347.6,411.2 L346.6,411.1 L345.5,411.1 L344.5,411.0 L343.5,410.9 L342.4,410.9 L341.4,410.8 L340.4,410.7 L339.3,410.7 L338.3,410.6 L337.3,410.5 L336.2,410.3 L335.2,410.2 L334.1,410.0 L333.1,409.9 L332.1,409.8 L331.0,409.6 L330.0,409.5 L328.9,409.3 L327.9,409.2 L326.8,409.0 L325.8,408.9 L324.8,408.7 L323.8,408.6 L322.8,408.4 L321.8,408.2 L320.8,408.0 L319.7,407.9 L318.7,407.7 L317.7,407.5 L316.7,407.3 L315.7,407.2 L314.7,407.0 L313.6,406.9 L312.4,406.8 L311.2,406.7 L310.1,406.6 L308.9,406.5 L307.8,406.4 L306.8,406.7 L305.8,406.9 L304.8,407.2 L303.8,407.4 L302.8,407.7 L301.8,407.9 L300.8,408.2 L299.9,408.7 L299.0,409.1 L298.1,409.6 L297.1,410.1 L296.2,410.5 L295.3,411.0 L294.5,411.7 L293.7,412.4 L292.9,413.1 L292.1,413.8 L291.2,414.5 L290.4,415.2 L289.6,415.9 L288.8,416.6 L288.1,417.4 L287.4,418.2 L286.7,419.0 L286.0,419.8 L285.2,420.5 L284.5,421.3 L283.8,422.1 L283.1,422.9 L282.4,423.7 Z" fill="#eb9562"/>
<path d="M282.4,375.8 L282.6,376.7 L283.0,378.3 L283.6,380.2 L284.3,382.0 L285.2,383.7 L286.1,385.4 L287.2,387.0 L288.3,388.6 L289.5,390.1 L290.8,391.4 L292.2,392.8 L293.7,394.0 L295.2,395.3 L296.9,396.4 L298.5,397.6 L300.3,398.7 L302.1,399.8 L304.0,400.8 L306.0,401.7 L308.0,402.6 L310.1,403.3 L312.2,404.1 L314.4,404.8 L316.7,405.4 L319.0,406.0 L321.3,406.6 L323.8,407.2 L326.2,407.7 L328.8,408.2 L331.4,408.6 L334.0,409.0 L336.7,409.4 L339.4,409.8 L342.2,410.2 L345.0,410.5 L347.9,410.8 L350.9,411.0 L353.9,411.2 L356.9,411.4 L360.0,411.5 L363.1,411.6 L366.3,411.7 L369.5,411.7 L372.7,411.8 L376.1,411.9 L379.4,411.9 L382.8,412.0 L386.2,412.0 L389.7,412.0 L393.3,412.1 L396.8,412.1 L400.4,412.1 L404.1,412.2 L407.8,412.2 L411.5,412.2 L415.3,412.3 L419.1,412.3 L423.0,412.3 L426.9,412.4 L430.8,412.4" fill="none" stroke="#f4b072" stroke-width="1.2"/>
<path d="M282.4,377.7 L282.6,378.5 L283.0,380.1 L283.6,381.9 L284.3,383.6 L285.2,385.2 L286.1,386.7 L287.2,388.3 L288.3,389.7 L289.5,391.1 L290.8,392.4 L292.2,393.6 L293.7,394.8 L295.2,395.9 L296.9,397.0 L298.5,398.1 L300.3,399.1 L302.1,400.1 L304.0,401.1 L306.0,401.9 L308.0,402.7 L310.1,403.5 L312.2,404.2 L314.4,404.8 L316.7,405.5 L319.0,406.1 L321.3,406.7 L323.8,407.3 L326.2,407.8 L328.8,408.2 L331.4,408.6 L334.0,409.0 L336.7,409.4 L339.4,409.8 L342.2,410.2 L345.0,410.5 L347.9,410.8 L350.9,411.0 L353.9,411.2 L356.9,411.4 L360.0,411.5 L363.1,411.6 L366.3,411.7 L369.5,411.8 L372.7,411.8 L376.1,411.9 L379.4,411.9 L382.8,412.0 L386.2,412.0 L389.7,412.1 L393.3,412.1 L396.8,412.1 L400.4,412.2 L404.1,412.2 L407.8,412.2 L411.5,412.2 L415.3,412.3 L419.1,412.3 L423.0,412.3 L426.9,412.4 L430.8,412.4" fill="none" stroke="#f3ad71" stroke-width="1.2"/>
<path d="M282.4,379.6 L282.6,380.3 L283.0,381.8 L283.6,383.5 L284.3,385.1 L285.2,386.6 L286.1,388.1 L287.2,389.5 L288.3,390.8 L289.5,392.1 L290.8,393.3 L292.2,394.4 L293.7,395.5 L295.2,396.5 L296.9,397.5 L298.5,398.5 L300.3,399.5 L302.1,400.4 L304.0,401.3 L306.0,402.1 L308.0,402.9 L310.1,403.6 L312.2,404.3 L314.4,404.9 L316.7,405.6 L319.0,406.2 L321.3,406.7 L323.8,407.3 L326.2,407.8 L328.8,408.3 L331.4,408.7 L334.0,409.1 L336.7,409.5 L339.4,409.9 L342.2,410.2 L345.0,410.6 L347.9,410.8 L350.9,411.1 L353.9,411.2 L356.9,411.4 L360.0,411.5 L363.1,411.6 L366.3,411.7 L369.5,411.8 L372.7,411.8 L376.1,411.9 L379.4,411.9 L382.8,412.0 L386.2,412.0 L389.7,412.1 L393.3,412.1 L396.8,412.1 L400.4,412.2 L404.1,412.2 L407.8,412.2 L411.5,412.2 L415.3,412.3 L419.1,412.3 L423.0,412.3 L426.9,412.4 L430.8,412.4" fill="none" stroke="#f2a96f" stroke-width="1.2"/>
<path d="M282.4,381.4 L282.6,382.1 L283.0,383.5 L283.6,385.1 L284.3,386.6 L285.2,388.0 L286.1,389.3 L287.2,390.7 L288.3,391.9 L289.5,393.1 L290.8,394.2 L292.2,395.2 L293.7,396.2 L295.2,397.1 L296.9,398.0 L298.5,399.0 L300.3,399.8 L302.1,400.7 L304.0,401.6 L306.0,402.3 L308.0,403.0 L310.1,403.7 L312.2,404.4 L314.4,405.0 L316.7,405.6 L319.0,406.2 L321.3,406.8 L323.8,407.4 L326.2,407.9 L328.8,408.3 L331.4,408.7 L334.0,409.1 L336.7,409.5 L339.4,409.9 L342.2,410.3 L345.0,410.6 L347.9,410.8 L350.9,411.1 L353.9,411.3 L356.9,411.4 L360.0,411.6 L363.1,411.6 L366.3,411.7 L369.5,411.8 L372.7,411.8 L376.1,411.9 L379.4,411.9 L382.8,412.0 L386.2,412.0 L389.7,412.1 L393.3,412.1 L396.8,412.1 L400.4,412.2 L404.1,412.2 L407.8,412.2 L411.5,412.3 L415.3,412.3 L419.1,412.3 L423.0,412.3 L426.9,412.4 L430.8,412.4" fill="none" stroke="#f1a66d" stroke-width="1.2"/>
<path d="M282.4,383.2 L282.6,383.8 L283.0,385.1 L283.6,386.7 L284.3,388.1 L285.2,389.4 L286.1,390.6 L287.2,391.8 L288.3,393.0 L289.5,394.0 L290.8,395.0 L292.2,396.0 L293.7,396.8 L295.2,397.7 L296.9,398.6 L298.5,399.4 L300.3,400.2 L302.1,401.0 L304.0,401.8 L306.0,402.5 L308.0,403.2 L310.1,403.8 L312.2,404.5 L314.4,405.1 L316.7,405.7 L319.0,406.3 L321.3,406.9 L323.8,407.4 L326.2,407.9 L328.8,408.4 L331.4,408.8 L334.0,409.1 L336.7,409.5 L339.4,409.9 L342.2,410.3 L345.0,410.6 L347.9,410.9 L350.9,411.1 L353.9,411.3 L356.9,411.4 L360.0,411.6 L363.1,411.7 L366.3,411.7 L369.5,411.8 L372.7,411.9 L376.1,411.9 L379.4,412.0 L382.8,412.0 L386.2,412.0 L389.7,412.1 L393.3,412.1 L396.8,412.1 L400.4,412.2 L404.1,412.2 L407.8,412.2 L411.5,412.3 L415.3,412.3 L419.1,412.3 L423.0,412.3 L426.9,412.4 L430.8,412.4" fill="none" stroke="#f1a36b" stroke-width="1.2"/>
<path d="M282.4,384.9 L282.6,385.5 L283.0,386.8 L283.6,388.2 L284.3,389.5 L285.2,390.7 L286.1,391.9 L287.2,393.0 L288.3,394.0 L289.5,395.0 L290.8,395.9 L292.2,396.7 L293.7,397.5 L295.2,398.3 L296.9,399.1 L298.5,399.8 L300.3,400.5 L302.1,401.3 L304.0,402.1 L306.0,402.7 L308.0,403.3 L310.1,404.0 L312.2,404.6 L314.4,405.2 L316.7,405.8 L319.0,406.3 L321.3,406.9 L323.8,407.5 L326.2,408.0 L328.8,408.4 L331.4,408.8 L334.0,409.2 L336.7,409.6 L339.4,410.0 L342.2,410.3 L345.0,410.6 L347.9,410.9 L350.9,411.1 L353.9,411.3 L356.9,411.4 L360.0,411.6 L363.1,411.7 L366.3,411.7 L369.5,411.8 L372.7,411.9 L376.1,411.9 L379.4,412.0 L382.8,412.0 L386.2,412.0 L389.7,412.1 L393.3,412.1 L396.8,412.1 L400.4,412.2 L404.1,412.2 L407.8,412.2 L411.5,412.3 L415.3,412.3 L419.1,412.3 L423.0,412.3 L426.9,412.4 L430.8,412.4" fill="none" stroke="#f09f69" stroke-width="1.2"/>
<path d="M282.4,386.6 L282.6,387.2 L283.0,388.4 L283.6,389.7 L284.3,390.9 L285.2,392.0 L286.1,393.1 L287.2,394.1 L288.3,395.0 L289.5,395.9 L290.8,396.7 L292.2,397.5 L293.7,398.2 L295.2,398.8 L296.9,399.6 L298.5,400.2 L300.3,400.9 L302.1,401.6 L304.0,402.3 L306.0,402.9 L308.0,403.4 L310.1,404.1 L312.2,404.7 L314.4,405.3 L316.7,405.8 L319.0,406.4 L321.3,407.0 L323.8,407.5 L326.2,408.0 L328.8,408.4 L331.4,408.8 L334.0,409.2 L336.7,409.6 L339.4,410.0 L342.2,410.3 L345.0,410.6 L347.9,410.9 L350.9,411.1 L353.9,411.3 L356.9,411.5 L360.0,411.6 L363.1,411.7 L366.3,411.8 L369.5,411.8 L372.7,411.9 L376.1,411.9 L379.4,412.0 L382.8,412.0 L386.2,412.0 L389.7,412.1 L393.3,412.1 L396.8,412.1 L400.4,412.2 L404.1,412.2 L407.8,412.2 L411.5,412.3 L415.3,412.3 L419.1,412.3 L423.0,412.4 L426.9,412.4 L430.8,412.4" fill="none" stroke="#ef9d67" stroke-width="1.2"/>
<path d="M282.4,388.3 L282.6,388.9 L283.0,390.0 L283.6,391.2 L284.3,392.3 L285.2,393.3 L286.1,394.3 L287.2,395.2 L288.3,396.0 L289.5,396.8 L290.8,397.5 L292.2,398.2 L293.7,398.8 L295.2,399.4 L296.9,400.0 L298.5,400.7 L300.3,401.2 L302.1,401.9 L304.0,402.5 L306.0,403.1 L308.0,403.6 L310.1,404.2 L312.2,404.8 L314.4,405.3 L316.7,405.9 L319.0,406.5 L321.3,407.0 L323.8,407.6 L326.2,408.1 L328.8,408.5 L331.4,408.9 L334.0,409.2 L336.7,409.6 L339.4,410.0 L342.2,410.4 L345.0,410.7 L347.9,410.9 L350.9,411.1 L353.9,411.3 L356.9,411.5 L360.0,411.6 L363.1,411.7 L366.3,411.8 L369.5,411.8 L372.7,411.9 L376.1,411.9 L379.4,412.0 L382.8,412.0 L386.2,412.1 L389.7,412.1 L393.3,412.1 L396.8,412.2 L400.4,412.2 L404.1,412.2 L407.8,412.2 L411.5,412.3 L415.3,412.3 L419.1,412.3 L423.0,412.4 L426.9,412.4 L430.8,412.4" fill="none" stroke="#ee9b66" stroke-width="1.2"/>
<path d="M282.4,390.0 L282.6,390.5 L283.0,391.5 L283.6,392.7 L284.3,393.7 L285.2,394.6 L286.1,395.5 L287.2,396.3 L288.3,397.0 L289.5,397.7 L290.8,398.4 L292.2,398.9 L293.7,399.4 L295.2,399.9 L296.9,400.5 L298.5,401.1 L300.3,401.6 L302.1,402.2 L304.0,402.8 L306.0,403.3 L308.0,403.7 L310.1,404.3 L312.2,404.9 L314.4,405.4 L316.7,406.0 L319.0,406.5 L321.3,407.1 L323.8,407.6 L326.2,408.1 L328.8,408.5 L331.4,408.9 L334.0,409.3 L336.7,409.7 L339.4,410.1 L342.2,410.4 L345.0,410.7 L347.9,410.9 L350.9,411.1 L353.9,411.3 L356.9,411.5 L360.0,411.6 L363.1,411.7 L366.3,411.8 L369.5,411.8 L372.7,411.9 L376.1,411.9 L379.4,412.0 L382.8,412.0 L386.2,412.1 L389.7,412.1 L393.3,412.1 L396.8,412.2 L400.4,412.2 L404.1,412.2 L407.8,412.2 L411.5,412.3 L415.3,412.3 L419.1,412.3 L423.0,412.4 L426.9,412.4 L430.8,412.4" fill="none" stroke="#ed9864" stroke-width="1.2"/>
<path d="M282.4,391.6 L282.6,392.1 L283.0,393.0 L283.6,394.1 L284.3,395.0 L285.2,395.9 L286.1,396.6 L287.2,397.4 L288.3,398.0 L289.5,398.6 L290.8,399.1 L292.2,399.6 L293.7,400.1 L295.2,400.5 L296.9,401.0 L298.5,401.5 L300.3,401.9 L302.1,402.4 L304.0,403.0 L306.0,403.4 L308.0,403.8 L310.1,404.4 L312.2,405.0 L314.4,405.5 L316.7,406.0 L319.0,406.6 L321.3,407.1 L323.8,407.6 L326.2,408.1 L328.8,408.6 L331.4,408.9 L334.0,409.3 L336.7,409.7 L339.4,410.1 L342.2,410.4 L345.0,410.7 L347.9,410.9 L350.9,411.2 L353.9,411.3 L356.9,411.5 L360.0,411.7 L363.1,411.7 L366.3,411.8 L369.5,411.9 L372.7,411.9 L376.1,411.9 L379.4,412.0 L382.8,412.0 L386.2,412.1 L389.7,412.1 L393.3,412.1 L396.8,412.2 L400.4,412.2 L404.1,412.2 L407.8,412.3 L411.5,412.3 L415.3,412.3 L419.1,412.3 L423.0,412.4 L426.9,412.4 L430.8,412.4" fill="none" stroke="#ec9663" stroke-width="1.2"/>
<path d="M282.4,393.2 L282.6,393.6 L283.0,394.5 L283.6,395.5 L284.3,396.3 L285.2,397.1 L286.1,397.8 L287.2,398.4 L288.3,398.9 L289.5,399.5 L290.8,399.9 L292.2,400.3 L293.7,400.7 L295.2,401.0 L296.9,401.4 L298.5,401.9 L300.3,402.2 L302.1,402.7 L304.0,403.2 L306.0,403.6 L308.0,404.0 L310.1,404.5 L312.2,405.0 L314.4,405.6 L316.7,406.1 L319.0,406.6 L321.3,407.2 L323.8,407.7 L326.2,408.2 L328.8,408.6 L331.4,409.0 L334.0,409.3 L336.7,409.7 L339.4,410.1 L342.2,410.4 L345.0,410.7 L347.9,411.0 L350.9,411.2 L353.9,411.4 L356.9,411.5 L360.0,411.7 L363.1,411.7 L366.3,411.8 L369.5,411.9 L372.7,411.9 L376.1,412.0 L379.4,412.0 L382.8,412.0 L386.2,412.1 L389.7,412.1 L393.3,412.1 L396.8,412.2 L400.4,412.2 L404.1,412.2 L407.8,412.3 L411.5,412.3 L415.3,412.3 L419.1,412.3 L423.0,412.4 L426.9,412.4 L430.8,412.4" fill="none" stroke="#eb9462" stroke-width="1.2"/>
<path d="M282.4,394.7 L282.6,395.2 L283.0,396.0 L283.6,396.9 L284.3,397.6 L285.2,398.3 L286.1,398.9 L287.2,399.4 L288.3,399.9 L289.5,400.3 L290.8,400.7 L292.2,401.0 L293.7,401.3 L295.2,401.5 L296.9,401.9 L298.5,402.2 L300.3,402.6 L302.1,403.0 L304.0,403.4 L306.0,403.8 L308.0,404.1 L310.1,404.6 L312.2,405.1 L314.4,405.6 L316.7,406.2 L319.0,406.7 L321.3,407.2 L323.8,407.7 L326.2,408.2 L328.8,408.6 L331.4,409.0 L334.0,409.4 L336.7,409.8 L339.4,410.1 L342.2,410.4 L345.0,410.7 L347.9,411.0 L350.9,411.2 L353.9,411.4 L356.9,411.5 L360.0,411.7 L363.1,411.8 L366.3,411.8 L369.5,411.9 L372.7,411.9 L376.1,412.0 L379.4,412.0 L382.8,412.0 L386.2,412.1 L389.7,412.1 L393.3,412.1 L396.8,412.2 L400.4,412.2 L404.1,412.2 L407.8,412.3 L411.5,412.3 L415.3,412.3 L419.1,412.3 L423.0,412.4 L426.9,412.4 L430.8,412.4" fill="none" stroke="#ea9160" stroke-width="1.2"/>
<path d="M282.4,396.3 L282.6,396.6 L283.0,397.4 L283.6,398.2 L284.3,398.9 L285.2,399.5 L286.1,400.0 L287.2,400.4 L288.3,400.8 L289.5,401.1 L290.8,401.4 L292.2,401.7 L293.7,401.9 L295.2,402.0 L296.9,402.3 L298.5,402.6 L300.3,402.9 L302.1,403.2 L304.0,403.6 L306.0,403.9 L308.0,404.2 L310.1,404.7 L312.2,405.2 L314.4,405.7 L316.7,406.2 L319.0,406.7 L321.3,407.3 L323.8,407.8 L326.2,408.3 L328.8,408.7 L331.4,409.0 L334.0,409.4 L336.7,409.8 L339.4,410.2 L342.2,410.5 L345.0,410.7 L347.9,411.0 L350.9,411.2 L353.9,411.4 L356.9,411.6 L360.0,411.7 L363.1,411.8 L366.3,411.8 L369.5,411.9 L372.7,411.9 L376.1,412.0 L379.4,412.0 L382.8,412.0 L386.2,412.1 L389.7,412.1 L393.3,412.1 L396.8,412.2 L400.4,412.2 L404.1,412.2 L407.8,412.3 L411.5,412.3 L415.3,412.3 L419.1,412.3 L423.0,412.4 L426.9,412.4 L430.8,412.4" fill="none" stroke="#e98f5f" stroke-width="1.2"/>
<path d="M282.4,397.7 L282.6,398.1 L283.0,398.8 L283.6,399.5 L284.3,400.1 L285.2,400.6 L286.1,401.0 L287.2,401.4 L288.3,401.7 L289.5,401.9 L290.8,402.2 L292.2,402.3 L293.7,402.4 L295.2,402.5 L296.9,402.7 L298.5,403.0 L300.3,403.2 L302.1,403.5 L304.0,403.8 L306.0,404.1 L308.0,404.3 L310.1,404.8 L312.2,405.3 L314.4,405.8 L316.7,406.3 L319.0,406.8 L321.3,407.3 L323.8,407.8 L326.2,408.3 L328.8,408.7 L331.4,409.1 L334.0,409.4 L336.7,409.8 L339.4,410.2 L342.2,410.5 L345.0,410.8 L347.9,411.0 L350.9,411.2 L353.9,411.4 L356.9,411.6 L360.0,411.7 L363.1,411.8 L366.3,411.8 L369.5,411.9 L372.7,411.9 L376.1,412.0 L379.4,412.0 L382.8,412.1 L386.2,412.1 L389.7,412.1 L393.3,412.2 L396.8,412.2 L400.4,412.2 L404.1,412.2 L407.8,412.3 L411.5,412.3 L415.3,412.3 L419.1,412.4 L423.0,412.4 L426.9,412.4 L430.8,412.4" fill="none" stroke="#e88d5d" stroke-width="1.2"/>
<path d="M282.4,399.2 L282.6,399.5 L283.0,400.1 L283.6,400.8 L284.3,401.3 L285.2,401.7 L286.1,402.1 L287.2,402.3 L288.3,402.5 L289.5,402.7 L290.8,402.9 L292.2,403.0 L293.7,403.0 L295.2,403.0 L296.9,403.2 L298.5,403.3 L300.3,403.5 L302.1,403.7 L304.0,404.0 L306.0,404.2 L308.0,404.4 L310.1,404.9 L312.2,405.4 L314.4,405.8 L316.7,406.3 L319.0,406.9 L321.3,407.4 L323.8,407.9 L326.2,408.3 L328.8,408.7 L331.4,409.1 L334.0,409.5 L336.7,409.9 L339.4,410.2 L342.2,410.5 L345.0,410.8 L347.9,411.0 L350.9,411.2 L353.9,411.4 L356.9,411.6 L360.0,411.7 L363.1,411.8 L366.3,411.9 L369.5,411.9 L372.7,411.9 L376.1,412.0 L379.4,412.0 L382.8,412.1 L386.2,412.1 L389.7,412.1 L393.3,412.2 L396.8,412.2 L400.4,412.2 L404.1,412.2 L407.8,412.3 L411.5,412.3 L415.3,412.3 L419.1,412.4 L423.0,412.4 L426.9,412.4 L430.8,412.4" fill="none" stroke="#e78a5c" stroke-width="1.2"/>
<path d="M282.4,400.6 L282.6,400.9 L283.0,401.4 L283.6,402.0 L284.3,402.5 L285.2,402.8 L286.1,403.1 L287.2,403.3 L288.3,403.4 L289.5,403.5 L290.8,403.6 L292.2,403.6 L293.7,403.5 L295.2,403.4 L296.9,403.6 L298.5,403.7 L300.3,403.7 L302.1,404.0 L304.0,404.2 L306.0,404.4 L308.0,404.6 L310.1,405.0 L312.2,405.5 L314.4,405.9 L316.7,406.4 L319.0,406.9 L321.3,407.4 L323.8,407.9 L326.2,408.4 L328.8,408.8 L331.4,409.1 L334.0,409.5 L336.7,409.9 L339.4,410.2 L342.2,410.5 L345.0,410.8 L347.9,411.0 L350.9,411.2 L353.9,411.4 L356.9,411.6 L360.0,411.8 L363.1,411.8 L366.3,411.9 L369.5,411.9 L372.7,412.0 L376.1,412.0 L379.4,412.0 L382.8,412.1 L386.2,412.1 L389.7,412.1 L393.3,412.2 L396.8,412.2 L400.4,412.2 L404.1,412.2 L407.8,412.3 L411.5,412.3 L415.3,412.3 L419.1,412.4 L423.0,412.4 L426.9,412.4 L430.8,412.5" fill="none" stroke="#e6885a" stroke-width="1.2"/>
<path d="M282.4,402.0 L282.6,402.3 L283.0,402.7 L283.6,403.2 L284.3,403.6 L285.2,403.9 L286.1,404.1 L287.2,404.2 L288.3,404.2 L289.5,404.2 L290.8,404.2 L292.2,404.2 L293.7,404.1 L295.2,403.9 L296.9,404.0 L298.5,404.0 L300.3,404.0 L302.1,404.2 L304.0,404.4 L306.0,404.5 L308.0,404.7 L310.1,405.1 L312.2,405.5 L314.4,406.0 L316.7,406.5 L319.0,407.0 L321.3,407.4 L323.8,407.9 L326.2,408.4 L328.8,408.8 L331.4,409.2 L334.0,409.5 L336.7,409.9 L339.4,410.3 L342.2,410.5 L345.0,410.8 L347.9,411.0 L350.9,411.2 L353.9,411.4 L356.9,411.6 L360.0,411.8 L363.1,411.8 L366.3,411.9 L369.5,411.9 L372.7,412.0 L376.1,412.0 L379.4,412.0 L382.8,412.1 L386.2,412.1 L389.7,412.1 L393.3,412.2 L396.8,412.2 L400.4,412.2 L404.1,412.3 L407.8,412.3 L411.5,412.3 L415.3,412.3 L419.1,412.4 L423.0,412.4 L426.9,412.4 L430.8,412.5" fill="none" stroke="#e58659" stroke-width="1.2"/>
<path d="M282.4,403.4 L282.6,403.6 L283.0,404.0 L283.6,404.4 L284.3,404.7 L285.2,404.9 L286.1,405.0 L287.2,405.1 L288.3,405.0 L289.5,405.0 L290.8,404.9 L292.2,404.8 L293.7,404.6 L295.2,404.3 L296.9,404.4 L298.5,404.3 L300.3,404.3 L302.1,404.4 L304.0,404.6 L306.0,404.7 L308.0,404.8 L310.1,405.2 L312.2,405.6 L314.4,406.0 L316.7,406.5 L319.0,407.0 L321.3,407.5 L323.8,408.0 L326.2,408.4 L328.8,408.8 L331.4,409.2 L334.0,409.6 L336.7,410.0 L339.4,410.3 L342.2,410.6 L345.0,410.8 L347.9,411.0 L350.9,411.2 L353.9,411.4 L356.9,411.6 L360.0,411.8 L363.1,411.8 L366.3,411.9 L369.5,411.9 L372.7,412.0 L376.1,412.0 L379.4,412.0 L382.8,412.1 L386.2,412.1 L389.7,412.1 L393.3,412.2 L396.8,412.2 L400.4,412.2 L404.1,412.3 L407.8,412.3 L411.5,412.3 L415.3,412.3 L419.1,412.4 L423.0,412.4 L426.9,412.4 L430.8,412.5" fill="none" stroke="#e28357" stroke-width="1.2"/>
<path d="M282.4,404.7 L282.6,404.9 L283.0,405.2 L283.6,405.6 L284.3,405.8 L285.2,405.9 L286.1,406.0 L287.2,405.9 L288.3,405.8 L289.5,405.7 L290.8,405.5 L292.2,405.3 L293.7,405.1 L295.2,404.8 L296.9,404.7 L298.5,404.7 L300.3,404.6 L302.1,404.6 L304.0,404.8 L306.0,404.8 L308.0,404.9 L310.1,405.3 L312.2,405.7 L314.4,406.1 L316.7,406.6 L319.0,407.0 L321.3,407.5 L323.8,408.0 L326.2,408.5 L328.8,408.9 L331.4,409.2 L334.0,409.6 L336.7,410.0 L339.4,410.3 L342.2,410.6 L345.0,410.8 L347.9,411.1 L350.9,411.3 L353.9,411.4 L356.9,411.6 L360.0,411.8 L363.1,411.9 L366.3,411.9 L369.5,411.9 L372.7,412.0 L376.1,412.0 L379.4,412.0 L382.8,412.1 L386.2,412.1 L389.7,412.1 L393.3,412.2 L396.8,412.2 L400.4,412.2 L404.1,412.3 L407.8,412.3 L411.5,412.3 L415.3,412.3 L419.1,412.4 L423.0,412.4 L426.9,412.4 L430.8,412.5" fill="none" stroke="#db7e54" stroke-width="1.2"/>
<path d="M282.4,405.9 L282.6,406.1 L283.0,406.4 L283.6,406.7 L284.3,406.9 L285.2,406.9 L286.1,406.9 L287.2,406.8 L288.3,406.6 L289.5,406.4 L290.8,406.2 L292.2,405.9 L293.7,405.6 L295.2,405.2 L296.9,405.1 L298.5,405.0 L300.3,404.8 L302.1,404.9 L304.0,404.9 L306.0,405.0 L308.0,405.0 L310.1,405.4 L312.2,405.8 L314.4,406.1 L316.7,406.6 L319.0,407.1 L321.3,407.6 L323.8,408.1 L326.2,408.5 L328.8,408.9 L331.4,409.3 L334.0,409.6 L336.7,410.0 L339.4,410.3 L342.2,410.6 L345.0,410.8 L347.9,411.1 L350.9,411.3 L353.9,411.5 L356.9,411.6 L360.0,411.8 L363.1,411.9 L366.3,411.9 L369.5,411.9 L372.7,412.0 L376.1,412.0 L379.4,412.1 L382.8,412.1 L386.2,412.1 L389.7,412.1 L393.3,412.2 L396.8,412.2 L400.4,412.2 L404.1,412.3 L407.8,412.3 L411.5,412.3 L415.3,412.3 L419.1,412.4 L423.0,412.4 L426.9,412.4 L430.8,412.5" fill="none" stroke="#d37a50" stroke-width="1.2"/>
<path d="M282.4,407.2 L282.6,407.3 L283.0,407.6 L283.6,407.8 L284.3,407.9 L285.2,407.9 L286.1,407.8 L287.2,407.6 L288.3,407.3 L289.5,407.0 L290.8,406.8 L292.2,406.4 L293.7,406.0 L295.2,405.6 L296.9,405.5 L298.5,405.3 L300.3,405.1 L302.1,405.1 L304.0,405.1 L306.0,405.1 L308.0,405.1 L310.1,405.5 L312.2,405.8 L314.4,406.2 L316.7,406.7 L319.0,407.1 L321.3,407.6 L323.8,408.1 L326.2,408.5 L328.8,408.9 L331.4,409.3 L334.0,409.7 L336.7,410.0 L339.4,410.4 L342.2,410.6 L345.0,410.9 L347.9,411.1 L350.9,411.3 L353.9,411.5 L356.9,411.6 L360.0,411.8 L363.1,411.9 L366.3,411.9 L369.5,412.0 L372.7,412.0 L376.1,412.0 L379.4,412.1 L382.8,412.1 L386.2,412.1 L389.7,412.2 L393.3,412.2 L396.8,412.2 L400.4,412.2 L404.1,412.3 L407.8,412.3 L411.5,412.3 L415.3,412.3 L419.1,412.4 L423.0,412.4 L426.9,412.4 L430.8,412.5" fill="none" stroke="#cc764d" stroke-width="1.2"/>
<path d="M282.4,408.4 L282.6,408.5 L283.0,408.7 L283.6,408.9 L284.3,408.9 L285.2,408.8 L286.1,408.6 L287.2,408.4 L288.3,408.0 L289.5,407.7 L290.8,407.4 L292.2,407.0 L293.7,406.5 L295.2,406.0 L296.9,405.8 L298.5,405.6 L300.3,405.3 L302.1,405.3 L304.0,405.3 L306.0,405.2 L308.0,405.2 L310.1,405.6 L312.2,405.9 L314.4,406.3 L316.7,406.7 L319.0,407.2 L321.3,407.7 L323.8,408.1 L326.2,408.6 L328.8,408.9 L331.4,409.3 L334.0,409.7 L336.7,410.1 L339.4,410.4 L342.2,410.6 L345.0,410.9 L347.9,411.1 L350.9,411.3 L353.9,411.5 L356.9,411.7 L360.0,411.8 L363.1,411.9 L366.3,411.9 L369.5,412.0 L372.7,412.0 L376.1,412.0 L379.4,412.1 L382.8,412.1 L386.2,412.1 L389.7,412.2 L393.3,412.2 L396.8,412.2 L400.4,412.2 L404.1,412.3 L407.8,412.3 L411.5,412.3 L415.3,412.4 L419.1,412.4 L423.0,412.4 L426.9,412.4 L430.8,412.5" fill="none" stroke="#c4714a" stroke-width="1.2"/>
<path d="M282.4,409.5 L282.6,409.6 L283.0,409.8 L283.6,409.9 L284.3,409.9 L285.2,409.7 L286.1,409.5 L287.2,409.1 L288.3,408.7 L289.5,408.3 L290.8,407.9 L292.2,407.5 L293.7,407.0 L295.2,406.4 L296.9,406.1 L298.5,405.9 L300.3,405.6 L302.1,405.5 L304.0,405.4 L306.0,405.4 L308.0,405.3 L310.1,405.6 L312.2,406.0 L314.4,406.3 L316.7,406.8 L319.0,407.2 L321.3,407.7 L323.8,408.2 L326.2,408.6 L328.8,409.0 L331.4,409.3 L334.0,409.7 L336.7,410.1 L339.4,410.4 L342.2,410.7 L345.0,410.9 L347.9,411.1 L350.9,411.3 L353.9,411.5 L356.9,411.7 L360.0,411.9 L363.1,411.9 L366.3,411.9 L369.5,412.0 L372.7,412.0 L376.1,412.0 L379.4,412.1 L382.8,412.1 L386.2,412.1 L389.7,412.2 L393.3,412.2 L396.8,412.2 L400.4,412.2 L404.1,412.3 L407.8,412.3 L411.5,412.3 L415.3,412.4 L419.1,412.4 L423.0,412.4 L426.9,412.4 L430.8,412.5" fill="none" stroke="#bd6d46" stroke-width="1.2"/>
<path d="M282.4,410.7 L282.6,410.7 L283.0,410.8 L283.6,410.9 L284.3,410.8 L285.2,410.6 L286.1,410.3 L287.2,409.9 L288.3,409.4 L289.5,408.9 L290.8,408.5 L292.2,408.0 L293.7,407.4 L295.2,406.8 L296.9,406.5 L298.5,406.1 L300.3,405.8 L302.1,405.7 L304.0,405.6 L306.0,405.5 L308.0,405.4 L310.1,405.7 L312.2,406.0 L314.4,406.4 L316.7,406.8 L319.0,407.3 L321.3,407.7 L323.8,408.2 L326.2,408.6 L328.8,409.0 L331.4,409.4 L334.0,409.7 L336.7,410.1 L339.4,410.4 L342.2,410.7 L345.0,410.9 L347.9,411.1 L350.9,411.3 L353.9,411.5 L356.9,411.7 L360.0,411.9 L363.1,411.9 L366.3,411.9 L369.5,412.0 L372.7,412.0 L376.1,412.0 L379.4,412.1 L382.8,412.1 L386.2,412.1 L389.7,412.2 L393.3,412.2 L396.8,412.2 L400.4,412.2 L404.1,412.3 L407.8,412.3 L411.5,412.3 L415.3,412.4 L419.1,412.4 L423.0,412.4 L426.9,412.4 L430.8,412.5" fill="none" stroke="#b66943" stroke-width="1.2"/>
<path d="M282.4,411.8 L282.6,411.8 L283.0,411.8 L283.6,411.8 L284.3,411.7 L285.2,411.4 L286.1,411.0 L287.2,410.6 L288.3,410.0 L289.5,409.5 L290.8,409.0 L292.2,408.4 L293.7,407.8 L295.2,407.1 L296.9,406.8 L298.5,406.4 L300.3,406.0 L302.1,405.8 L304.0,405.7 L306.0,405.6 L308.0,405.5 L310.1,405.8 L312.2,406.1 L314.4,406.4 L316.7,406.9 L319.0,407.3 L321.3,407.8 L323.8,408.2 L326.2,408.7 L328.8,409.0 L331.4,409.4 L334.0,409.8 L336.7,410.1 L339.4,410.5 L342.2,410.7 L345.0,410.9 L347.9,411.1 L350.9,411.3 L353.9,411.5 L356.9,411.7 L360.0,411.9 L363.1,411.9 L366.3,412.0 L369.5,412.0 L372.7,412.0 L376.1,412.1 L379.4,412.1 L382.8,412.1 L386.2,412.1 L389.7,412.2 L393.3,412.2 L396.8,412.2 L400.4,412.3 L404.1,412.3 L407.8,412.3 L411.5,412.3 L415.3,412.4 L419.1,412.4 L423.0,412.4 L426.9,412.4 L430.8,412.5" fill="none" stroke="#ae6440" stroke-width="1.2"/>
<path d="M282.4,412.8 L282.6,412.8 L283.0,412.8 L283.6,412.8 L284.3,412.5 L285.2,412.2 L286.1,411.8 L287.2,411.3 L288.3,410.7 L289.5,410.1 L290.8,409.5 L292.2,408.9 L293.7,408.2 L295.2,407.5 L296.9,407.1 L298.5,406.7 L300.3,406.2 L302.1,406.0 L304.0,405.9 L306.0,405.7 L308.0,405.5 L310.1,405.9 L312.2,406.2 L314.4,406.5 L316.7,406.9 L319.0,407.3 L321.3,407.8 L323.8,408.2 L326.2,408.7 L328.8,409.1 L331.4,409.4 L334.0,409.8 L336.7,410.2 L339.4,410.5 L342.2,410.7 L345.0,410.9 L347.9,411.1 L350.9,411.3 L353.9,411.5 L356.9,411.7 L360.0,411.9 L363.1,411.9 L366.3,412.0 L369.5,412.0 L372.7,412.0 L376.1,412.1 L379.4,412.1 L382.8,412.1 L386.2,412.1 L389.7,412.2 L393.3,412.2 L396.8,412.2 L400.4,412.3 L404.1,412.3 L407.8,412.3 L411.5,412.3 L415.3,412.4 L419.1,412.4 L423.0,412.4 L426.9,412.4 L430.8,412.5" fill="none" stroke="#a7603c" stroke-width="1.2"/>
<path d="M282.4,413.8 L282.6,413.8 L283.0,413.8 L283.6,413.6 L284.3,413.4 L285.2,413.0 L286.1,412.5 L287.2,411.9 L288.3,411.3 L289.5,410.6 L290.8,410.0 L292.2,409.3 L293.7,408.6 L295.2,407.8 L296.9,407.4 L298.5,406.9 L300.3,406.4 L302.1,406.2 L304.0,406.0 L306.0,405.8 L308.0,405.6 L310.1,405.9 L312.2,406.2 L314.4,406.5 L316.7,406.9 L319.0,407.4 L321.3,407.8 L323.8,408.3 L326.2,408.7 L328.8,409.1 L331.4,409.4 L334.0,409.8 L336.7,410.2 L339.4,410.5 L342.2,410.7 L345.0,410.9 L347.9,411.1 L350.9,411.3 L353.9,411.5 L356.9,411.7 L360.0,411.9 L363.1,411.9 L366.3,412.0 L369.5,412.0 L372.7,412.0 L376.1,412.1 L379.4,412.1 L382.8,412.1 L386.2,412.1 L389.7,412.2 L393.3,412.2 L396.8,412.2 L400.4,412.3 L404.1,412.3 L407.8,412.3 L411.5,412.3 L415.3,412.4 L419.1,412.4 L423.0,412.4 L426.9,412.4 L430.8,412.5" fill="none" stroke="#a05c39" stroke-width="1.2"/>
<path d="M282.4,414.8 L282.6,414.8 L283.0,414.7 L283.6,414.5 L284.3,414.2 L285.2,413.7 L286.1,413.2 L287.2,412.6 L288.3,411.8 L289.5,411.1 L290.8,410.5 L292.2,409.8 L293.7,409.0 L295.2,408.1 L296.9,407.6 L298.5,407.2 L300.3,406.6 L302.1,406.4 L304.0,406.2 L306.0,405.9 L308.0,405.7 L310.1,406.0 L312.2,406.3 L314.4,406.6 L316.7,407.0 L319.0,407.4 L321.3,407.9 L323.8,408.3 L326.2,408.7 L328.8,409.1 L331.4,409.5 L334.0,409.8 L336.7,410.2 L339.4,410.5 L342.2,410.7 L345.0,410.9 L347.9,411.1 L350.9,411.3 L353.9,411.5 L356.9,411.7 L360.0,411.9 L363.1,411.9 L366.3,412.0 L369.5,412.0 L372.7,412.0 L376.1,412.1 L379.4,412.1 L382.8,412.1 L386.2,412.2 L389.7,412.2 L393.3,412.2 L396.8,412.2 L400.4,412.3 L404.1,412.3 L407.8,412.3 L411.5,412.3 L415.3,412.4 L419.1,412.4 L423.0,412.4 L426.9,412.5 L430.8,412.5" fill="none" stroke="#985736" stroke-width="1.2"/>
<path d="M282.4,415.7 L282.6,415.7 L283.0,415.5 L283.6,415.3 L284.3,414.9 L285.2,414.5 L286.1,413.9 L287.2,413.2 L288.3,412.4 L289.5,411.6 L290.8,410.9 L292.2,410.2 L293.7,409.3 L295.2,408.4 L296.9,407.9 L298.5,407.4 L300.3,406.8 L302.1,406.5 L304.0,406.3 L306.0,406.0 L308.0,405.8 L310.1,406.1 L312.2,406.3 L314.4,406.6 L316.7,407.0 L319.0,407.4 L321.3,407.9 L323.8,408.3 L326.2,408.8 L328.8,409.1 L331.4,409.5 L334.0,409.8 L336.7,410.2 L339.4,410.5 L342.2,410.7 L345.0,410.9 L347.9,411.2 L350.9,411.3 L353.9,411.5 L356.9,411.7 L360.0,411.9 L363.1,412.0 L366.3,412.0 L369.5,412.0 L372.7,412.0 L376.1,412.1 L379.4,412.1 L382.8,412.1 L386.2,412.2 L389.7,412.2 L393.3,412.2 L396.8,412.2 L400.4,412.3 L404.1,412.3 L407.8,412.3 L411.5,412.3 L415.3,412.4 L419.1,412.4 L423.0,412.4 L426.9,412.5 L430.8,412.5" fill="none" stroke="#915332" stroke-width="1.2"/>
<path d="M282.4,416.6 L282.6,416.5 L283.0,416.4 L283.6,416.1 L284.3,415.7 L285.2,415.1 L286.1,414.5 L287.2,413.8 L288.3,412.9 L289.5,412.1 L290.8,411.4 L292.2,410.5 L293.7,409.7 L295.2,408.7 L296.9,408.2 L298.5,407.6 L300.3,407.0 L302.1,406.7 L304.0,406.4 L306.0,406.1 L308.0,405.8 L310.1,406.1 L312.2,406.4 L314.4,406.6 L316.7,407.0 L319.0,407.5 L321.3,407.9 L323.8,408.4 L326.2,408.8 L328.8,409.1 L331.4,409.5 L334.0,409.9 L336.7,410.2 L339.4,410.5 L342.2,410.8 L345.0,411.0 L347.9,411.2 L350.9,411.4 L353.9,411.5 L356.9,411.7 L360.0,411.9 L363.1,412.0 L366.3,412.0 L369.5,412.0 L372.7,412.0 L376.1,412.1 L379.4,412.1 L382.8,412.1 L386.2,412.2 L389.7,412.2 L393.3,412.2 L396.8,412.2 L400.4,412.3 L404.1,412.3 L407.8,412.3 L411.5,412.3 L415.3,412.4 L419.1,412.4 L423.0,412.4 L426.9,412.5 L430.8,412.5" fill="none" stroke="#894e2f" stroke-width="1.2"/>
<path d="M282.4,417.4 L282.6,417.3 L283.0,417.1 L283.6,416.8 L284.3,416.4 L285.2,415.8 L286.1,415.1 L287.2,414.3 L288.3,413.4 L289.5,412.6 L290.8,411.8 L292.2,410.9 L293.7,410.0 L295.2,409.0 L296.9,408.4 L298.5,407.8 L300.3,407.2 L302.1,406.8 L304.0,406.5 L306.0,406.2 L308.0,405.9 L310.1,406.2 L312.2,406.4 L314.4,406.7 L316.7,407.1 L319.0,407.5 L321.3,407.9 L323.8,408.4 L326.2,408.8 L328.8,409.2 L331.4,409.5 L334.0,409.9 L336.7,410.2 L339.4,410.6 L342.2,410.8 L345.0,411.0 L347.9,411.2 L350.9,411.4 L353.9,411.6 L356.9,411.7 L360.0,411.9 L363.1,412.0 L366.3,412.0 L369.5,412.0 L372.7,412.1 L376.1,412.1 L379.4,412.1 L382.8,412.1 L386.2,412.2 L389.7,412.2 L393.3,412.2 L396.8,412.2 L400.4,412.3 L404.1,412.3 L407.8,412.3 L411.5,412.3 L415.3,412.4 L419.1,412.4 L423.0,412.4 L426.9,412.5 L430.8,412.5" fill="none" stroke="#7e482a" stroke-width="1.2"/>
<path d="M282.4,418.2 L282.6,418.1 L283.0,417.9 L283.6,417.5 L284.3,417.0 L285.2,416.4 L286.1,415.7 L287.2,414.8 L288.3,413.9 L289.5,413.0 L290.8,412.2 L292.2,411.3 L293.7,410.3 L295.2,409.2 L296.9,408.6 L298.5,408.0 L300.3,407.3 L302.1,406.9 L304.0,406.6 L306.0,406.3 L308.0,406.0 L310.1,406.2 L312.2,406.5 L314.4,406.7 L316.7,407.1 L319.0,407.5 L321.3,408.0 L323.8,408.4 L326.2,408.8 L328.8,409.2 L331.4,409.5 L334.0,409.9 L336.7,410.3 L339.4,410.6 L342.2,410.8 L345.0,411.0 L347.9,411.2 L350.9,411.4 L353.9,411.6 L356.9,411.7 L360.0,411.9 L363.1,412.0 L366.3,412.0 L369.5,412.0 L372.7,412.1 L376.1,412.1 L379.4,412.1 L382.8,412.1 L386.2,412.2 L389.7,412.2 L393.3,412.2 L396.8,412.2 L400.4,412.3 L404.1,412.3 L407.8,412.3 L411.5,412.3 L415.3,412.4 L419.1,412.4 L423.0,412.4 L426.9,412.5 L430.8,412.5" fill="none" stroke="#744126" stroke-width="1.2"/>
<path d="M282.4,419.0 L282.6,418.9 L283.0,418.6 L283.6,418.2 L284.3,417.6 L285.2,417.0 L286.1,416.2 L287.2,415.3 L288.3,414.3 L289.5,413.4 L290.8,412.5 L292.2,411.6 L293.7,410.6 L295.2,409.5 L296.9,408.9 L298.5,408.2 L300.3,407.5 L302.1,407.1 L304.0,406.7 L306.0,406.4 L308.0,406.0 L310.1,406.3 L312.2,406.5 L314.4,406.8 L316.7,407.1 L319.0,407.6 L321.3,408.0 L323.8,408.4 L326.2,408.8 L328.8,409.2 L331.4,409.6 L334.0,409.9 L336.7,410.3 L339.4,410.6 L342.2,410.8 L345.0,411.0 L347.9,411.2 L350.9,411.4 L353.9,411.6 L356.9,411.8 L360.0,411.9 L363.1,412.0 L366.3,412.0 L369.5,412.0 L372.7,412.1 L376.1,412.1 L379.4,412.1 L382.8,412.1 L386.2,412.2 L389.7,412.2 L393.3,412.2 L396.8,412.2 L400.4,412.3 L404.1,412.3 L407.8,412.3 L411.5,412.4 L415.3,412.4 L419.1,412.4 L423.0,412.4 L426.9,412.5 L430.8,412.5" fill="none" stroke="#693b22" stroke-width="1.2"/>
<path d="M282.4,419.7 L282.6,419.5 L283.0,419.2 L283.6,418.8 L284.3,418.2 L285.2,417.5 L286.1,416.7 L287.2,415.8 L288.3,414.8 L289.5,413.8 L290.8,412.9 L292.2,411.9 L293.7,410.8 L295.2,409.7 L296.9,409.1 L298.5,408.4 L300.3,407.6 L302.1,407.2 L304.0,406.8 L306.0,406.4 L308.0,406.1 L310.1,406.3 L312.2,406.6 L314.4,406.8 L316.7,407.2 L319.0,407.6 L321.3,408.0 L323.8,408.4 L326.2,408.9 L328.8,409.2 L331.4,409.6 L334.0,409.9 L336.7,410.3 L339.4,410.6 L342.2,410.8 L345.0,411.0 L347.9,411.2 L350.9,411.4 L353.9,411.6 L356.9,411.8 L360.0,412.0 L363.1,412.0 L366.3,412.0 L369.5,412.0 L372.7,412.1 L376.1,412.1 L379.4,412.1 L382.8,412.1 L386.2,412.2 L389.7,412.2 L393.3,412.2 L396.8,412.2 L400.4,412.3 L404.1,412.3 L407.8,412.3 L411.5,412.4 L415.3,412.4 L419.1,412.4 L423.0,412.4 L426.9,412.5 L430.8,412.5" fill="none" stroke="#5f351e" stroke-width="1.2"/>
<path d="M282.4,420.3 L282.6,420.2 L283.0,419.9 L283.6,419.4 L284.3,418.8 L285.2,418.0 L286.1,417.2 L287.2,416.2 L288.3,415.1 L289.5,414.2 L290.8,413.2 L292.2,412.2 L293.7,411.1 L295.2,409.9 L296.9,409.2 L298.5,408.5 L300.3,407.8 L302.1,407.3 L304.0,406.9 L306.0,406.5 L308.0,406.1 L310.1,406.4 L312.2,406.6 L314.4,406.8 L316.7,407.2 L319.0,407.6 L321.3,408.0 L323.8,408.5 L326.2,408.9 L328.8,409.2 L331.4,409.6 L334.0,409.9 L336.7,410.3 L339.4,410.6 L342.2,410.8 L345.0,411.0 L347.9,411.2 L350.9,411.4 L353.9,411.6 L356.9,411.8 L360.0,412.0 L363.1,412.0 L366.3,412.0 L369.5,412.0 L372.7,412.1 L376.1,412.1 L379.4,412.1 L382.8,412.1 L386.2,412.2 L389.7,412.2 L393.3,412.2 L396.8,412.2 L400.4,412.3 L404.1,412.3 L407.8,412.3 L411.5,412.4 L415.3,412.4 L419.1,412.4 L423.0,412.4 L426.9,412.5 L430.8,412.5" fill="none" stroke="#542f1a" stroke-width="1.2"/>
<path d="M282.4,421.0 L282.6,420.8 L283.0,420.4 L283.6,419.9 L284.3,419.3 L285.2,418.5 L286.1,417.6 L287.2,416.6 L288.3,415.5 L289.5,414.5 L290.8,413.5 L292.2,412.4 L293.7,411.3 L295.2,410.1 L296.9,409.4 L298.5,408.7 L300.3,407.9 L302.1,407.4 L304.0,407.0 L306.0,406.6 L308.0,406.2 L310.1,406.4 L312.2,406.6 L314.4,406.8 L316.7,407.2 L319.0,407.6 L321.3,408.0 L323.8,408.5 L326.2,408.9 L328.8,409.2 L331.4,409.6 L334.0,410.0 L336.7,410.3 L339.4,410.6 L342.2,410.8 L345.0,411.0 L347.9,411.2 L350.9,411.4 L353.9,411.6 L356.9,411.8 L360.0,412.0 L363.1,412.0 L366.3,412.0 L369.5,412.0 L372.7,412.1 L376.1,412.1 L379.4,412.1 L382.8,412.1 L386.2,412.2 L389.7,412.2 L393.3,412.2 L396.8,412.3 L400.4,412.3 L404.1,412.3 L407.8,412.3 L411.5,412.4 L415.3,412.4 L419.1,412.4 L423.0,412.4 L426.9,412.5 L430.8,412.5" fill="none" stroke="#4a2815" stroke-width="1.2"/>
<path d="M282.4,421.5 L282.6,421.3 L283.0,420.9 L283.6,420.4 L284.3,419.7 L285.2,418.9 L286.1,418.0 L287.2,417.0 L288.3,415.8 L289.5,414.8 L290.8,413.8 L292.2,412.7 L293.7,411.5 L295.2,410.3 L296.9,409.6 L298.5,408.8 L300.3,408.0 L302.1,407.5 L304.0,407.1 L306.0,406.6 L308.0,406.2 L310.1,406.4 L312.2,406.7 L314.4,406.9 L316.7,407.2 L319.0,407.7 L321.3,408.1 L323.8,408.5 L326.2,408.9 L328.8,409.3 L331.4,409.6 L334.0,410.0 L336.7,410.3 L339.4,410.6 L342.2,410.8 L345.0,411.0 L347.9,411.2 L350.9,411.4 L353.9,411.6 L356.9,411.8 L360.0,412.0 L363.1,412.0 L366.3,412.0 L369.5,412.1 L372.7,412.1 L376.1,412.1 L379.4,412.1 L382.8,412.2 L386.2,412.2 L389.7,412.2 L393.3,412.2 L396.8,412.3 L400.4,412.3 L404.1,412.3 L407.8,412.3 L411.5,412.4 L415.3,412.4 L419.1,412.4 L423.0,412.4 L426.9,412.5 L430.8,412.5" fill="none" stroke="#3f2211" stroke-width="1.2"/>
<path d="M282.4,422.0 L282.6,421.8 L283.0,421.4 L283.6,420.9 L284.3,420.1 L285.2,419.3 L286.1,418.4 L287.2,417.3 L288.3,416.1 L289.5,415.1 L290.8,414.0 L292.2,412.9 L293.7,411.7 L295.2,410.5 L296.9,409.7 L298.5,408.9 L300.3,408.1 L302.1,407.6 L304.0,407.1 L306.0,406.7 L308.0,406.3 L310.1,406.5 L312.2,406.7 L314.4,406.9 L316.7,407.3 L319.0,407.7 L321.3,408.1 L323.8,408.5 L326.2,408.9 L328.8,409.3 L331.4,409.6 L334.0,410.0 L336.7,410.3 L339.4,410.6 L342.2,410.8 L345.0,411.0 L347.9,411.2 L350.9,411.4 L353.9,411.6 L356.9,411.8 L360.0,412.0 L363.1,412.0 L366.3,412.0 L369.5,412.1 L372.7,412.1 L376.1,412.1 L379.4,412.1 L382.8,412.2 L386.2,412.2 L389.7,412.2 L393.3,412.2 L396.8,412.3 L400.4,412.3 L404.1,412.3 L407.8,412.3 L411.5,412.4 L415.3,412.4 L419.1,412.4 L423.0,412.4 L426.9,412.5 L430.8,412.5" fill="none" stroke="#351c0d" stroke-width="1.2"/>
<path d="M282.4,422.5 L282.6,422.3 L283.0,421.8 L283.6,421.3 L284.3,420.5 L285.2,419.7 L286.1,418.7 L287.2,417.6 L288.3,416.4 L289.5,415.3 L290.8,414.2 L292.2,413.1 L293.7,411.9 L295.2,410.6 L296.9,409.9 L298.5,409.0 L300.3,408.2 L302.1,407.7 L304.0,407.2 L306.0,406.7 L308.0,406.3 L310.1,406.5 L312.2,406.7 L314.4,406.9 L316.7,407.3 L319.0,407.7 L321.3,408.1 L323.8,408.5 L326.2,408.9 L328.8,409.3 L331.4,409.6 L334.0,410.0 L336.7,410.4 L339.4,410.6 L342.2,410.8 L345.0,411.0 L347.9,411.2 L350.9,411.4 L353.9,411.6 L356.9,411.8 L360.0,412.0 L363.1,412.0 L366.3,412.0 L369.5,412.1 L372.7,412.1 L376.1,412.1 L379.4,412.1 L382.8,412.2 L386.2,412.2 L389.7,412.2 L393.3,412.2 L396.8,412.3 L400.4,412.3 L404.1,412.3 L407.8,412.3 L411.5,412.4 L415.3,412.4 L419.1,412.4 L423.0,412.4 L426.9,412.5 L430.8,412.5" fill="none" stroke="#2c170a" stroke-width="1.2"/>
<path d="M282.4,422.9 L282.6,422.6 L283.0,422.2 L283.6,421.6 L284.3,420.8 L285.2,420.0 L286.1,419.0 L287.2,417.9 L288.3,416.6 L289.5,415.5 L290.8,414.4 L292.2,413.3 L293.7,412.1 L295.2,410.8 L296.9,410.0 L298.5,409.1 L300.3,408.3 L302.1,407.7 L304.0,407.3 L306.0,406.8 L308.0,406.3 L310.1,406.5 L312.2,406.7 L314.4,406.9 L316.7,407.3 L319.0,407.7 L321.3,408.1 L323.8,408.5 L326.2,408.9 L328.8,409.3 L331.4,409.6 L334.0,410.0 L336.7,410.4 L339.4,410.7 L342.2,410.8 L345.0,411.0 L347.9,411.2 L350.9,411.4 L353.9,411.6 L356.9,411.8 L360.0,412.0 L363.1,412.0 L366.3,412.0 L369.5,412.1 L372.7,412.1 L376.1,412.1 L379.4,412.1 L382.8,412.2 L386.2,412.2 L389.7,412.2 L393.3,412.2 L396.8,412.3 L400.4,412.3 L404.1,412.3 L407.8,412.3 L411.5,412.4 L415.3,412.4 L419.1,412.4 L423.0,412.4 L426.9,412.5 L430.8,412.5" fill="none" stroke="#231208" stroke-width="1.2"/>
<path d="M282.4,423.2 L282.6,423.0 L283.0,422.5 L283.6,421.9 L284.3,421.1 L285.2,420.2 L286.1,419.2 L287.2,418.1 L288.3,416.8 L289.5,415.7 L290.8,414.6 L292.2,413.4 L293.7,412.2 L295.2,410.9 L296.9,410.1 L298.5,409.2 L300.3,408.3 L302.1,407.8 L304.0,407.3 L306.0,406.8 L308.0,406.4 L310.1,406.6 L312.2,406.8 L314.4,406.9 L316.7,407.3 L319.0,407.7 L321.3,408.1 L323.8,408.5 L326.2,408.9 L328.8,409.3 L331.4,409.6 L334.0,410.0 L336.7,410.4 L339.4,410.7 L342.2,410.8 L345.0,411.0 L347.9,411.2 L350.9,411.4 L353.9,411.6 L356.9,411.8 L360.0,412.0 L363.1,412.0 L366.3,412.0 L369.5,412.1 L372.7,412.1 L376.1,412.1 L379.4,412.1 L382.8,412.2 L386.2,412.2 L389.7,412.2 L393.3,412.2 L396.8,412.3 L400.4,412.3 L404.1,412.3 L407.8,412.3 L411.5,412.4 L415.3,412.4 L419.1,412.4 L423.0,412.4 L426.9,412.5 L430.8,412.5" fill="none" stroke="#1a0e06" stroke-width="1.2"/>
<path d="M282.4,423.4 L282.6,423.2 L283.0,422.7 L283.6,422.1 L284.3,421.3 L285.2,420.4 L286.1,419.4 L287.2,418.2 L288.3,417.0 L289.5,415.8 L290.8,414.7 L292.2,413.5 L293.7,412.3 L295.2,411.0 L296.9,410.1 L298.5,409.3 L300.3,408.4 L302.1,407.8 L304.0,407.3 L306.0,406.8 L308.0,406.4 L310.1,406.6 L312.2,406.8 L314.4,407.0 L316.7,407.3 L319.0,407.7 L321.3,408.1 L323.8,408.5 L326.2,409.0 L328.8,409.3 L331.4,409.6 L334.0,410.0 L336.7,410.4 L339.4,410.7 L342.2,410.8 L345.0,411.0 L347.9,411.2 L350.9,411.4 L353.9,411.6 L356.9,411.8 L360.0,412.0 L363.1,412.0 L366.3,412.0 L369.5,412.1 L372.7,412.1 L376.1,412.1 L379.4,412.1 L382.8,412.2 L386.2,412.2 L389.7,412.2 L393.3,412.2 L396.8,412.3 L400.4,412.3 L404.1,412.3 L407.8,412.3 L411.5,412.4 L415.3,412.4 L419.1,412.4 L423.0,412.4 L426.9,412.5 L430.8,412.5" fill="none" stroke="#110904" stroke-width="1.2"/>
<path d="M282.4,423.6 L282.6,423.4 L283.0,422.9 L283.6,422.3 L284.3,421.5 L285.2,420.5 L286.1,419.5 L287.2,418.4 L288.3,417.1 L289.5,415.9 L290.8,414.8 L292.2,413.6 L293.7,412.3 L295.2,411.0 L296.9,410.2 L298.5,409.3 L300.3,408.4 L302.1,407.8 L304.0,407.4 L306.0,406.9 L308.0,406.4 L310.1,406.6 L312.2,406.8 L314.4,407.0 L316.7,407.3 L319.0,407.7 L321.3,408.1 L323.8,408.5 L326.2,409.0 L328.8,409.3 L331.4,409.7 L334.0,410.0 L336.7,410.4 L339.4,410.7 L342.2,410.9 L345.0,411.0 L347.9,411.2 L350.9,411.4 L353.9,411.6 L356.9,411.8 L360.0,412.0 L363.1,412.0 L366.3,412.0 L369.5,412.1 L372.7,412.1 L376.1,412.1 L379.4,412.1 L382.8,412.2 L386.2,412.2 L389.7,412.2 L393.3,412.2 L396.8,412.3 L400.4,412.3 L404.1,412.3 L407.8,412.3 L411.5,412.4 L415.3,412.4 L419.1,412.4 L423.0,412.4 L426.9,412.5 L430.8,412.5" fill="none" stroke="#090502" stroke-width="1.2"/>
<path d="M282.4,423.7 L282.6,423.5 L283.0,423.0 L283.6,422.3 L284.3,421.5 L285.2,420.6 L286.1,419.6 L287.2,418.4 L288.3,417.1 L289.5,416.0 L290.8,414.8 L292.2,413.6 L293.7,412.4 L295.2,411.0 L296.9,410.2 L298.5,409.3 L300.3,408.5 L302.1,407.9 L304.0,407.4 L306.0,406.9 L308.0,406.4 L310.1,406.6 L312.2,406.8 L314.4,407.0 L316.7,407.3 L319.0,407.7 L321.3,408.1 L323.8,408.6 L326.2,409.0 L328.8,409.3 L331.4,409.7 L334.0,410.0 L336.7,410.4 L339.4,410.7 L342.2,410.9 L345.0,411.0 L347.9,411.2 L350.9,411.4 L353.9,411.6 L356.9,411.8 L360.0,412.0 L363.1,412.0 L366.3,412.0 L369.5,412.1 L372.7,412.1 L376.1,412.1 L379.4,412.1 L382.8,412.2 L386.2,412.2 L389.7,412.2 L393.3,412.2 L396.8,412.3 L400.4,412.3 L404.1,412.3 L407.8,412.3 L411.5,412.4 L415.3,412.4 L419.1,412.4 L423.0,412.4 L426.9,412.5 L430.8,412.5" fill="none" stroke="#000000" stroke-width="1.2"/>
<path d="M282.4,423.7 L288.8,416.6 L295.3,411.0 L300.8,408.2 L307.8,406.4 L314.7,407.0 L325.8,408.9 L338.3,410.6 L360.0,412.0 L430.8,412.5" fill="none" stroke="#000" stroke-width="2.6" stroke-linejoin="round"/>
<path d="M282.2,373 H431" stroke="#12a9ac" stroke-width="1.6" stroke-dasharray="5.6 5.4"/>
<path d="M518.8,348.2 L519.0,348.8 L519.3,349.6 L519.6,350.6 L519.9,351.7 L520.3,352.9 L520.7,354.1 L521.1,355.3 L521.5,356.5 L521.9,357.7 L522.3,358.7 L522.6,359.7 L523.0,360.6 L523.3,361.5 L523.6,362.4 L524.0,363.3 L524.3,364.2 L524.7,365.2 L525.0,366.1 L525.4,367.0 L525.8,368.0 L526.2,369.0 L526.6,370.1 L527.1,371.1 L527.5,372.2 L528.0,373.3 L528.5,374.4 L529.0,375.5 L529.5,376.5 L530.0,377.6 L530.5,378.6 L531.0,379.6 L531.6,380.6 L532.1,381.5 L532.7,382.5 L533.3,383.4 L533.9,384.4 L534.5,385.3 L535.1,386.2 L535.8,387.0 L536.4,387.9 L537.0,388.7 L537.7,389.6 L538.3,390.4 L539.0,391.2 L539.7,391.9 L540.4,392.7 L541.1,393.4 L541.8,394.2 L542.6,394.9 L543.4,395.6 L544.2,396.3 L545.1,397.0 L545.9,397.6 L546.8,398.3 L547.8,398.9 L548.7,399.6 L549.7,400.2 L550.6,400.8 L551.7,401.3 L552.7,401.9 L553.7,402.4 L554.8,403.0 L555.8,403.5 L556.9,404.0 L558.0,404.4 L559.1,404.9 L560.3,405.3 L561.6,405.8 L562.9,406.2 L564.4,406.6 L566.0,407.0 L567.6,407.4 L569.4,407.8 L571.2,408.2 L573.0,408.6 L575.0,408.9 L576.9,409.3 L579.0,409.6 L581.0,409.8 L583.1,410.1 L585.1,410.3 L586.9,410.5 L588.6,410.6 L590.3,410.8 L592.1,410.9 L594.1,411.0 L596.5,411.0 L599.2,411.1 L602.5,411.2 L606.4,411.3 L611.3,411.4 L617.2,411.5 L623.9,411.6 L631.1,411.6 L638.5,411.7 L645.7,411.8 L652.5,411.9 L658.7,411.9 L663.8,412.0 L667.6,412.0 L667.6,412.0 L666.6,412.0 L665.6,411.9 L664.6,411.9 L663.6,411.9 L662.6,411.9 L661.6,411.8 L660.6,411.8 L659.6,411.8 L658.6,411.8 L657.6,411.7 L656.6,411.7 L655.6,411.7 L654.5,411.6 L653.5,411.6 L652.5,411.6 L651.5,411.6 L650.5,411.5 L649.5,411.5 L648.5,411.5 L647.5,411.5 L646.5,411.4 L645.5,411.4 L644.5,411.4 L643.5,411.4 L642.5,411.3 L641.5,411.3 L640.5,411.2 L639.5,411.1 L638.4,411.1 L637.4,411.0 L636.4,410.9 L635.4,410.8 L634.4,410.7 L633.4,410.6 L632.3,410.6 L631.3,410.5 L630.3,410.4 L629.3,410.3 L628.3,410.2 L627.3,410.1 L626.2,410.1 L625.2,410.0 L624.2,409.9 L623.2,409.8 L622.2,409.7 L621.2,409.6 L620.1,409.6 L619.1,409.5 L618.1,409.4 L617.1,409.1 L616.2,408.8 L615.2,408.5 L614.2,408.3 L613.2,408.0 L612.3,407.7 L611.3,407.4 L610.3,407.1 L609.4,406.9 L608.4,406.6 L607.4,406.3 L606.5,406.0 L605.5,405.7 L604.5,405.4 L603.5,405.1 L602.6,404.9 L601.6,404.6 L600.6,404.3 L599.7,404.0 L598.7,403.7 L597.7,403.5 L596.7,403.2 L595.8,402.9 L594.8,402.6 L593.9,402.1 L593.0,401.6 L592.2,401.1 L591.3,400.6 L590.4,400.0 L589.5,399.5 L588.6,399.0 L587.8,398.5 L586.9,398.0 L586.0,397.5 L585.1,397.0 L584.2,396.5 L583.4,395.9 L582.5,395.4 L581.6,394.9 L580.7,394.4 L579.9,393.9 L579.0,393.4 L578.1,392.9 L577.2,392.4 L576.3,391.8 L575.5,391.3 L574.6,390.8 L573.7,390.3 L572.9,389.7 L572.0,389.2 L571.2,388.6 L570.4,388.1 L569.5,387.5 L568.7,387.0 L567.9,386.4 L567.0,385.8 L566.2,385.3 L565.4,384.7 L564.5,384.2 L563.7,383.6 L562.9,383.1 L562.0,382.5 L561.2,381.9 L560.4,381.4 L559.5,380.8 L558.7,380.3 L557.9,379.7 L557.0,379.2 L556.2,378.6 L555.2,378.6 L554.2,378.6 L553.2,378.6 L552.2,378.6 L551.2,378.6 L550.2,378.6 L549.2,378.6 L548.2,378.6 L547.2,378.6 L546.2,378.6 L545.2,378.6 L544.2,378.6 L543.2,378.6 L542.2,378.6 L541.6,379.4 L540.9,380.2 L540.2,381.1 L539.6,381.9 L539.0,382.7 L538.3,383.5 L537.6,384.3 L537.0,385.1 L536.4,386.0 L535.7,386.8 L535.1,387.6 L534.4,388.4 L533.8,389.2 L533.1,390.0 L532.5,390.9 L531.8,391.7 L531.1,392.5 L530.5,393.3 L529.8,394.1 L529.0,394.8 L528.3,395.6 L527.6,396.4 L526.8,397.1 L526.1,397.9 L525.4,398.6 L524.6,399.4 L523.9,400.2 L523.2,400.9 L522.5,401.7 L521.7,402.4 L521.0,403.2 L520.3,404.0 L519.5,404.7 L518.8,405.5 Z" fill="#e68a5b"/>
<path d="M518.8,348.2 L519.0,348.8 L519.4,350.2 L520.0,352.0 L520.8,354.1 L521.6,356.6 L522.5,359.4 L523.6,362.3 L524.7,365.3 L526.0,368.4 L527.3,371.6 L528.7,374.8 L530.1,377.9 L531.7,380.7 L533.3,383.4 L535.0,386.0 L536.8,388.4 L538.6,390.7 L540.5,392.8 L542.4,394.7 L544.5,396.5 L546.5,398.1 L548.7,399.6 L550.9,400.9 L553.1,402.1 L555.5,403.3 L557.8,404.4 L560.3,405.3 L562.8,406.1 L565.3,406.8 L567.9,407.5 L570.5,408.1 L573.2,408.6 L576.0,409.1 L578.8,409.5 L581.6,409.9 L584.5,410.3 L587.5,410.5 L590.4,410.8 L593.5,410.9 L596.6,411.1 L599.7,411.1 L602.9,411.2 L606.1,411.3 L609.4,411.4 L612.7,411.4 L616.1,411.5 L619.5,411.5 L622.9,411.6 L626.4,411.6 L630.0,411.6 L633.5,411.7 L637.1,411.7 L640.8,411.7 L644.5,411.8 L648.3,411.8 L652.0,411.9 L655.9,411.9 L659.7,411.9 L663.7,412.0 L667.6,412.0" fill="none" stroke="#f5b877" stroke-width="1.2"/>
<path d="M518.8,352.1 L519.0,352.7 L519.4,353.9 L520.0,355.5 L520.8,357.5 L521.6,359.8 L522.5,362.2 L523.6,364.9 L524.7,367.6 L526.0,370.4 L527.3,373.2 L528.7,376.1 L530.1,378.8 L531.7,381.3 L533.3,383.7 L535.0,386.0 L536.8,388.2 L538.6,390.4 L540.5,392.5 L542.4,394.4 L544.5,396.1 L546.5,397.6 L548.7,399.1 L550.9,400.4 L553.1,401.6 L555.5,402.7 L557.8,403.8 L560.3,404.8 L562.8,405.6 L565.3,406.3 L567.9,407.0 L570.5,407.6 L573.2,408.2 L576.0,408.7 L578.8,409.2 L581.6,409.6 L584.5,409.9 L587.5,410.3 L590.4,410.5 L593.5,410.7 L596.6,410.9 L599.7,411.0 L602.9,411.1 L606.1,411.2 L609.4,411.3 L612.7,411.3 L616.1,411.4 L619.5,411.5 L622.9,411.5 L626.4,411.6 L630.0,411.6 L633.5,411.7 L637.1,411.7 L640.8,411.7 L644.5,411.8 L648.3,411.8 L652.0,411.8 L655.9,411.9 L659.7,411.9 L663.7,412.0 L667.6,412.0" fill="none" stroke="#f4b475" stroke-width="1.2"/>
<path d="M518.8,355.8 L519.0,356.4 L519.4,357.4 L520.0,358.9 L520.8,360.7 L521.6,362.8 L522.5,365.0 L523.6,367.4 L524.7,369.8 L526.0,372.3 L527.3,374.9 L528.7,377.3 L530.1,379.7 L531.7,381.9 L533.3,384.0 L535.0,386.1 L536.8,388.1 L538.6,390.1 L540.5,392.1 L542.4,394.0 L544.5,395.6 L546.5,397.2 L548.7,398.6 L550.9,399.9 L553.1,401.0 L555.5,402.1 L557.8,403.2 L560.3,404.2 L562.8,405.1 L565.3,405.8 L567.9,406.5 L570.5,407.1 L573.2,407.7 L576.0,408.3 L578.8,408.8 L581.6,409.2 L584.5,409.6 L587.5,410.0 L590.4,410.3 L593.5,410.5 L596.6,410.7 L599.7,410.8 L602.9,410.9 L606.1,411.0 L609.4,411.1 L612.7,411.2 L616.1,411.3 L619.5,411.4 L622.9,411.5 L626.4,411.5 L630.0,411.6 L633.5,411.6 L637.1,411.7 L640.8,411.7 L644.5,411.8 L648.3,411.8 L652.0,411.8 L655.9,411.9 L659.7,411.9 L663.7,412.0 L667.6,412.0" fill="none" stroke="#f4b173" stroke-width="1.2"/>
<path d="M518.8,359.4 L519.0,359.9 L519.4,360.8 L520.0,362.2 L520.8,363.8 L521.6,365.6 L522.5,367.6 L523.6,369.7 L524.7,371.9 L526.0,374.2 L527.3,376.4 L528.7,378.5 L530.1,380.6 L531.7,382.5 L533.3,384.3 L535.0,386.2 L536.8,388.0 L538.6,389.9 L540.5,391.8 L542.4,393.6 L544.5,395.2 L546.5,396.7 L548.7,398.1 L550.9,399.3 L553.1,400.5 L555.5,401.6 L557.8,402.7 L560.3,403.6 L562.8,404.5 L565.3,405.3 L567.9,406.0 L570.5,406.7 L573.2,407.3 L576.0,407.9 L578.8,408.4 L581.6,408.9 L584.5,409.3 L587.5,409.7 L590.4,410.0 L593.5,410.3 L596.6,410.5 L599.7,410.6 L602.9,410.8 L606.1,410.9 L609.4,411.0 L612.7,411.2 L616.1,411.3 L619.5,411.4 L622.9,411.4 L626.4,411.5 L630.0,411.5 L633.5,411.6 L637.1,411.7 L640.8,411.7 L644.5,411.8 L648.3,411.8 L652.0,411.8 L655.9,411.9 L659.7,411.9 L663.7,412.0 L667.6,412.0" fill="none" stroke="#f3ad71" stroke-width="1.2"/>
<path d="M518.8,362.7 L519.0,363.2 L519.4,364.0 L520.0,365.2 L520.8,366.7 L521.6,368.3 L522.5,370.1 L523.6,372.0 L524.7,373.9 L526.0,375.9 L527.3,377.9 L528.7,379.6 L530.1,381.4 L531.7,383.0 L533.3,384.6 L535.0,386.3 L536.8,387.9 L538.6,389.7 L540.5,391.5 L542.4,393.2 L544.5,394.8 L546.5,396.3 L548.7,397.6 L550.9,398.8 L553.1,399.9 L555.5,401.0 L557.8,402.1 L560.3,403.1 L562.8,404.0 L565.3,404.8 L567.9,405.5 L570.5,406.2 L573.2,406.9 L576.0,407.5 L578.8,408.0 L581.6,408.5 L584.5,409.0 L587.5,409.4 L590.4,409.8 L593.5,410.1 L596.6,410.3 L599.7,410.5 L602.9,410.6 L606.1,410.8 L609.4,410.9 L612.7,411.1 L616.1,411.2 L619.5,411.3 L622.9,411.4 L626.4,411.5 L630.0,411.5 L633.5,411.6 L637.1,411.6 L640.8,411.7 L644.5,411.7 L648.3,411.8 L652.0,411.8 L655.9,411.9 L659.7,411.9 L663.7,412.0 L667.6,412.0" fill="none" stroke="#f2aa6f" stroke-width="1.2"/>
<path d="M518.8,366.0 L519.0,366.3 L519.4,367.1 L520.0,368.2 L520.8,369.4 L521.6,370.9 L522.5,372.5 L523.6,374.1 L524.7,375.8 L526.0,377.6 L527.3,379.3 L528.7,380.7 L530.1,382.2 L531.7,383.6 L533.3,384.9 L535.0,386.3 L536.8,387.8 L538.6,389.4 L540.5,391.1 L542.4,392.9 L544.5,394.4 L546.5,395.8 L548.7,397.1 L550.9,398.3 L553.1,399.4 L555.5,400.4 L557.8,401.5 L560.3,402.5 L562.8,403.4 L565.3,404.3 L567.9,405.0 L570.5,405.8 L573.2,406.4 L576.0,407.1 L578.8,407.6 L581.6,408.2 L584.5,408.7 L587.5,409.1 L590.4,409.5 L593.5,409.9 L596.6,410.1 L599.7,410.3 L602.9,410.5 L606.1,410.7 L609.4,410.8 L612.7,411.0 L616.1,411.2 L619.5,411.3 L622.9,411.4 L626.4,411.4 L630.0,411.5 L633.5,411.6 L637.1,411.6 L640.8,411.7 L644.5,411.7 L648.3,411.8 L652.0,411.8 L655.9,411.9 L659.7,411.9 L663.7,412.0 L667.6,412.0" fill="none" stroke="#f1a66d" stroke-width="1.2"/>
<path d="M518.8,369.0 L519.0,369.3 L519.4,370.0 L520.0,370.9 L520.8,372.0 L521.6,373.3 L522.5,374.7 L523.6,376.2 L524.7,377.7 L526.0,379.1 L527.3,380.6 L528.7,381.8 L530.1,383.0 L531.7,384.1 L533.3,385.2 L535.0,386.4 L536.8,387.7 L538.6,389.2 L540.5,390.8 L542.4,392.5 L544.5,394.0 L546.5,395.4 L548.7,396.6 L550.9,397.8 L553.1,398.8 L555.5,399.9 L557.8,400.9 L560.3,402.0 L562.8,402.9 L565.3,403.7 L567.9,404.5 L570.5,405.3 L573.2,406.0 L576.0,406.7 L578.8,407.3 L581.6,407.8 L584.5,408.3 L587.5,408.8 L590.4,409.3 L593.5,409.7 L596.6,409.9 L599.7,410.1 L602.9,410.3 L606.1,410.5 L609.4,410.7 L612.7,410.9 L616.1,411.1 L619.5,411.2 L622.9,411.3 L626.4,411.4 L630.0,411.5 L633.5,411.5 L637.1,411.6 L640.8,411.7 L644.5,411.7 L648.3,411.8 L652.0,411.8 L655.9,411.9 L659.7,411.9 L663.7,412.0 L667.6,412.0" fill="none" stroke="#f1a36b" stroke-width="1.2"/>
<path d="M518.8,371.9 L519.0,372.2 L519.4,372.7 L520.0,373.6 L520.8,374.5 L521.6,375.6 L522.5,376.8 L523.6,378.1 L524.7,379.4 L526.0,380.6 L527.3,381.8 L528.7,382.8 L530.1,383.7 L531.7,384.5 L533.3,385.4 L535.0,386.5 L536.8,387.6 L538.6,388.9 L540.5,390.5 L542.4,392.1 L544.5,393.6 L546.5,394.9 L548.7,396.1 L550.9,397.3 L553.1,398.3 L555.5,399.3 L557.8,400.4 L560.3,401.4 L562.8,402.4 L565.3,403.2 L567.9,404.0 L570.5,404.8 L573.2,405.6 L576.0,406.3 L578.8,406.9 L581.6,407.5 L584.5,408.0 L587.5,408.6 L590.4,409.0 L593.5,409.5 L596.6,409.8 L599.7,410.0 L602.9,410.2 L606.1,410.4 L609.4,410.6 L612.7,410.8 L616.1,411.0 L619.5,411.2 L622.9,411.3 L626.4,411.3 L630.0,411.4 L633.5,411.5 L637.1,411.6 L640.8,411.7 L644.5,411.7 L648.3,411.8 L652.0,411.8 L655.9,411.9 L659.7,411.9 L663.7,411.9 L667.6,412.0" fill="none" stroke="#f09f69" stroke-width="1.2"/>
<path d="M518.8,374.6 L519.0,374.8 L519.4,375.3 L520.0,376.0 L520.8,376.9 L521.6,377.8 L522.5,378.8 L523.6,379.9 L524.7,381.0 L526.0,382.0 L527.3,383.0 L528.7,383.7 L530.1,384.4 L531.7,385.0 L533.3,385.7 L535.0,386.5 L536.8,387.5 L538.6,388.7 L540.5,390.2 L542.4,391.7 L544.5,393.2 L546.5,394.5 L548.7,395.7 L550.9,396.8 L553.1,397.8 L555.5,398.7 L557.8,399.8 L560.3,400.9 L562.8,401.8 L565.3,402.7 L567.9,403.6 L570.5,404.4 L573.2,405.1 L576.0,405.8 L578.8,406.5 L581.6,407.1 L584.5,407.7 L587.5,408.3 L590.4,408.8 L593.5,409.2 L596.6,409.6 L599.7,409.8 L602.9,410.1 L606.1,410.3 L609.4,410.5 L612.7,410.7 L616.1,411.0 L619.5,411.1 L622.9,411.2 L626.4,411.3 L630.0,411.4 L633.5,411.5 L637.1,411.6 L640.8,411.7 L644.5,411.7 L648.3,411.8 L652.0,411.8 L655.9,411.8 L659.7,411.9 L663.7,411.9 L667.6,412.0" fill="none" stroke="#ef9d67" stroke-width="1.2"/>
<path d="M518.8,377.2 L519.0,377.4 L519.4,377.8 L520.0,378.4 L520.8,379.1 L521.6,379.9 L522.5,380.7 L523.6,381.6 L524.7,382.5 L526.0,383.4 L527.3,384.2 L528.7,384.6 L530.1,385.1 L531.7,385.5 L533.3,386.0 L535.0,386.6 L536.8,387.4 L538.6,388.5 L540.5,389.8 L542.4,391.4 L544.5,392.7 L546.5,394.0 L548.7,395.2 L550.9,396.2 L553.1,397.2 L555.5,398.1 L557.8,399.2 L560.3,400.3 L562.8,401.3 L565.3,402.2 L567.9,403.1 L570.5,403.9 L573.2,404.7 L576.0,405.4 L578.8,406.1 L581.6,406.8 L584.5,407.4 L587.5,408.0 L590.4,408.5 L593.5,409.0 L596.6,409.4 L599.7,409.7 L602.9,409.9 L606.1,410.2 L609.4,410.4 L612.7,410.7 L616.1,410.9 L619.5,411.1 L622.9,411.2 L626.4,411.3 L630.0,411.4 L633.5,411.5 L637.1,411.6 L640.8,411.6 L644.5,411.7 L648.3,411.7 L652.0,411.8 L655.9,411.8 L659.7,411.9 L663.7,411.9 L667.6,412.0" fill="none" stroke="#ee9b66" stroke-width="1.2"/>
<path d="M518.8,379.6 L519.0,379.8 L519.4,380.1 L520.0,380.6 L520.8,381.2 L521.6,381.8 L522.5,382.5 L523.6,383.2 L524.7,383.9 L526.0,384.6 L527.3,385.2 L528.7,385.4 L530.1,385.7 L531.7,385.9 L533.3,386.2 L535.0,386.6 L536.8,387.3 L538.6,388.3 L540.5,389.5 L542.4,391.0 L544.5,392.3 L546.5,393.5 L548.7,394.7 L550.9,395.7 L553.1,396.7 L555.5,397.6 L557.8,398.6 L560.3,399.7 L562.8,400.7 L565.3,401.7 L567.9,402.6 L570.5,403.4 L573.2,404.3 L576.0,405.0 L578.8,405.8 L581.6,406.4 L584.5,407.1 L587.5,407.7 L590.4,408.3 L593.5,408.8 L596.6,409.2 L599.7,409.5 L602.9,409.8 L606.1,410.0 L609.4,410.3 L612.7,410.6 L616.1,410.8 L619.5,411.0 L622.9,411.1 L626.4,411.2 L630.0,411.3 L633.5,411.4 L637.1,411.5 L640.8,411.6 L644.5,411.7 L648.3,411.7 L652.0,411.8 L655.9,411.8 L659.7,411.9 L663.7,411.9 L667.6,412.0" fill="none" stroke="#ed9864" stroke-width="1.2"/>
<path d="M518.8,381.9 L519.0,382.0 L519.4,382.3 L520.0,382.7 L520.8,383.1 L521.6,383.7 L522.5,384.2 L523.6,384.8 L524.7,385.3 L526.0,385.8 L527.3,386.2 L528.7,386.2 L530.1,386.3 L531.7,386.3 L533.3,386.4 L535.0,386.7 L536.8,387.2 L538.6,388.0 L540.5,389.2 L542.4,390.6 L544.5,391.9 L546.5,393.1 L548.7,394.2 L550.9,395.2 L553.1,396.1 L555.5,397.0 L557.8,398.1 L560.3,399.2 L562.8,400.2 L565.3,401.2 L567.9,402.1 L570.5,403.0 L573.2,403.8 L576.0,404.6 L578.8,405.4 L581.6,406.1 L584.5,406.8 L587.5,407.4 L590.4,408.0 L593.5,408.6 L596.6,409.0 L599.7,409.3 L602.9,409.6 L606.1,409.9 L609.4,410.2 L612.7,410.5 L616.1,410.8 L619.5,411.0 L622.9,411.1 L626.4,411.2 L630.0,411.3 L633.5,411.4 L637.1,411.5 L640.8,411.6 L644.5,411.7 L648.3,411.7 L652.0,411.8 L655.9,411.8 L659.7,411.9 L663.7,411.9 L667.6,412.0" fill="none" stroke="#ec9663" stroke-width="1.2"/>
<path d="M518.8,384.0 L519.0,384.1 L519.4,384.3 L520.0,384.6 L520.8,385.0 L521.6,385.4 L522.5,385.8 L523.6,386.2 L524.7,386.6 L526.0,386.9 L527.3,387.2 L528.7,387.0 L530.1,386.9 L531.7,386.7 L533.3,386.6 L535.0,386.8 L536.8,387.1 L538.6,387.8 L540.5,388.9 L542.4,390.2 L544.5,391.5 L546.5,392.6 L548.7,393.7 L550.9,394.7 L553.1,395.6 L555.5,396.4 L557.8,397.5 L560.3,398.6 L562.8,399.7 L565.3,400.7 L567.9,401.6 L570.5,402.5 L573.2,403.4 L576.0,404.2 L578.8,405.0 L581.6,405.7 L584.5,406.4 L587.5,407.1 L590.4,407.8 L593.5,408.4 L596.6,408.8 L599.7,409.2 L602.9,409.5 L606.1,409.8 L609.4,410.1 L612.7,410.4 L616.1,410.7 L619.5,411.0 L622.9,411.1 L626.4,411.2 L630.0,411.3 L633.5,411.4 L637.1,411.5 L640.8,411.6 L644.5,411.7 L648.3,411.7 L652.0,411.8 L655.9,411.8 L659.7,411.9 L663.7,411.9 L667.6,412.0" fill="none" stroke="#ea9361" stroke-width="1.2"/>
<path d="M518.8,386.0 L519.0,386.1 L519.4,386.3 L520.0,386.5 L520.8,386.7 L521.6,387.0 L522.5,387.3 L523.6,387.5 L524.7,387.8 L526.0,388.0 L527.3,388.0 L528.7,387.7 L530.1,387.4 L531.7,387.1 L533.3,386.9 L535.0,386.8 L536.8,387.0 L538.6,387.6 L540.5,388.6 L542.4,389.9 L544.5,391.1 L546.5,392.2 L548.7,393.2 L550.9,394.2 L553.1,395.0 L555.5,395.8 L557.8,396.9 L560.3,398.1 L562.8,399.1 L565.3,400.1 L567.9,401.1 L570.5,402.1 L573.2,403.0 L576.0,403.8 L578.8,404.6 L581.6,405.4 L584.5,406.1 L587.5,406.9 L590.4,407.5 L593.5,408.2 L596.6,408.7 L599.7,409.0 L602.9,409.3 L606.1,409.7 L609.4,410.0 L612.7,410.3 L616.1,410.7 L619.5,410.9 L622.9,411.0 L626.4,411.1 L630.0,411.3 L633.5,411.4 L637.1,411.5 L640.8,411.6 L644.5,411.7 L648.3,411.7 L652.0,411.8 L655.9,411.8 L659.7,411.9 L663.7,411.9 L667.6,412.0" fill="none" stroke="#e99160" stroke-width="1.2"/>
<path d="M518.8,387.9 L519.0,388.0 L519.4,388.1 L520.0,388.2 L520.8,388.3 L521.6,388.5 L522.5,388.6 L523.6,388.8 L524.7,388.9 L526.0,388.9 L527.3,388.9 L528.7,388.4 L530.1,388.0 L531.7,387.5 L533.3,387.1 L535.0,386.9 L536.8,386.9 L538.6,387.4 L540.5,388.3 L542.4,389.5 L544.5,390.7 L546.5,391.7 L548.7,392.7 L550.9,393.6 L553.1,394.5 L555.5,395.3 L557.8,396.3 L560.3,397.5 L562.8,398.6 L565.3,399.6 L567.9,400.6 L570.5,401.6 L573.2,402.5 L576.0,403.4 L578.8,404.2 L581.6,405.0 L584.5,405.8 L587.5,406.6 L590.4,407.3 L593.5,408.0 L596.6,408.5 L599.7,408.8 L602.9,409.2 L606.1,409.5 L609.4,409.9 L612.7,410.2 L616.1,410.6 L619.5,410.9 L622.9,411.0 L626.4,411.1 L630.0,411.2 L633.5,411.3 L637.1,411.5 L640.8,411.6 L644.5,411.7 L648.3,411.7 L652.0,411.8 L655.9,411.8 L659.7,411.9 L663.7,411.9 L667.6,412.0" fill="none" stroke="#e88e5e" stroke-width="1.2"/>
<path d="M518.8,389.7 L519.0,389.7 L519.4,389.7 L520.0,389.8 L520.8,389.8 L521.6,389.9 L522.5,389.9 L523.6,390.0 L524.7,389.9 L526.0,389.8 L527.3,389.6 L528.7,389.0 L530.1,388.5 L531.7,387.8 L533.3,387.3 L535.0,386.9 L536.8,386.9 L538.6,387.2 L540.5,387.9 L542.4,389.1 L544.5,390.2 L546.5,391.3 L548.7,392.2 L550.9,393.1 L553.1,393.9 L555.5,394.7 L557.8,395.8 L560.3,396.9 L562.8,398.1 L565.3,399.1 L567.9,400.1 L570.5,401.1 L573.2,402.1 L576.0,403.0 L578.8,403.9 L581.6,404.7 L584.5,405.5 L587.5,406.3 L590.4,407.0 L593.5,407.8 L596.6,408.3 L599.7,408.7 L602.9,409.0 L606.1,409.4 L609.4,409.8 L612.7,410.2 L616.1,410.5 L619.5,410.8 L622.9,410.9 L626.4,411.1 L630.0,411.2 L633.5,411.3 L637.1,411.4 L640.8,411.6 L644.5,411.6 L648.3,411.7 L652.0,411.8 L655.9,411.8 L659.7,411.9 L663.7,411.9 L667.6,412.0" fill="none" stroke="#e78c5d" stroke-width="1.2"/>
<path d="M518.8,391.3 L519.0,391.3 L519.4,391.3 L520.0,391.3 L520.8,391.3 L521.6,391.2 L522.5,391.1 L523.6,391.0 L524.7,390.9 L526.0,390.7 L527.3,390.4 L528.7,389.6 L530.1,388.9 L531.7,388.1 L533.3,387.5 L535.0,387.0 L536.8,386.8 L538.6,387.0 L540.5,387.6 L542.4,388.7 L544.5,389.8 L546.5,390.8 L548.7,391.8 L550.9,392.6 L553.1,393.4 L555.5,394.1 L557.8,395.2 L560.3,396.4 L562.8,397.5 L565.3,398.6 L567.9,399.6 L570.5,400.7 L573.2,401.7 L576.0,402.6 L578.8,403.5 L581.6,404.3 L584.5,405.2 L587.5,406.0 L590.4,406.8 L593.5,407.6 L596.6,408.1 L599.7,408.5 L602.9,408.9 L606.1,409.3 L609.4,409.7 L612.7,410.1 L616.1,410.5 L619.5,410.8 L622.9,410.9 L626.4,411.0 L630.0,411.2 L633.5,411.3 L637.1,411.4 L640.8,411.6 L644.5,411.6 L648.3,411.7 L652.0,411.8 L655.9,411.8 L659.7,411.9 L663.7,411.9 L667.6,412.0" fill="none" stroke="#e6895b" stroke-width="1.2"/>
<path d="M518.8,392.8 L519.0,392.8 L519.4,392.7 L520.0,392.7 L520.8,392.6 L521.6,392.4 L522.5,392.3 L523.6,392.1 L524.7,391.8 L526.0,391.5 L527.3,391.0 L528.7,390.2 L530.1,389.4 L531.7,388.5 L533.3,387.6 L535.0,387.0 L536.8,386.7 L538.6,386.8 L540.5,387.3 L542.4,388.4 L544.5,389.4 L546.5,390.4 L548.7,391.3 L550.9,392.1 L553.1,392.8 L555.5,393.5 L557.8,394.6 L560.3,395.8 L562.8,397.0 L565.3,398.1 L567.9,399.1 L570.5,400.2 L573.2,401.2 L576.0,402.2 L578.8,403.1 L581.6,404.0 L584.5,404.9 L587.5,405.7 L590.4,406.5 L593.5,407.3 L596.6,407.9 L599.7,408.3 L602.9,408.7 L606.1,409.2 L609.4,409.6 L612.7,410.0 L616.1,410.4 L619.5,410.7 L622.9,410.9 L626.4,411.0 L630.0,411.1 L633.5,411.3 L637.1,411.4 L640.8,411.5 L644.5,411.6 L648.3,411.7 L652.0,411.7 L655.9,411.8 L659.7,411.9 L663.7,411.9 L667.6,412.0" fill="none" stroke="#e5875a" stroke-width="1.2"/>
<path d="M518.8,394.2 L519.0,394.2 L519.4,394.1 L520.0,393.9 L520.8,393.8 L521.6,393.6 L522.5,393.3 L523.6,393.0 L524.7,392.6 L526.0,392.2 L527.3,391.6 L528.7,390.7 L530.1,389.8 L531.7,388.8 L533.3,387.8 L535.0,387.1 L536.8,386.6 L538.6,386.6 L540.5,387.0 L542.4,388.0 L544.5,389.0 L546.5,389.9 L548.7,390.8 L550.9,391.6 L553.1,392.3 L555.5,393.0 L557.8,394.0 L560.3,395.3 L562.8,396.4 L565.3,397.6 L567.9,398.7 L570.5,399.7 L573.2,400.8 L576.0,401.8 L578.8,402.7 L581.6,403.6 L584.5,404.5 L587.5,405.4 L590.4,406.3 L593.5,407.1 L596.6,407.7 L599.7,408.2 L602.9,408.6 L606.1,409.0 L609.4,409.5 L612.7,409.9 L616.1,410.4 L619.5,410.7 L622.9,410.8 L626.4,411.0 L630.0,411.1 L633.5,411.2 L637.1,411.4 L640.8,411.5 L644.5,411.6 L648.3,411.7 L652.0,411.7 L655.9,411.8 L659.7,411.9 L663.7,411.9 L667.6,412.0" fill="none" stroke="#e48458" stroke-width="1.2"/>
<path d="M518.8,395.5 L519.0,395.5 L519.4,395.3 L520.0,395.1 L520.8,394.9 L521.6,394.6 L522.5,394.3 L523.6,393.9 L524.7,393.4 L526.0,392.9 L527.3,392.2 L528.7,391.2 L530.1,390.2 L531.7,389.0 L533.3,388.0 L535.0,387.1 L536.8,386.5 L538.6,386.4 L540.5,386.7 L542.4,387.6 L544.5,388.6 L546.5,389.5 L548.7,390.3 L550.9,391.0 L553.1,391.7 L555.5,392.4 L557.8,393.5 L560.3,394.7 L562.8,395.9 L565.3,397.0 L567.9,398.2 L570.5,399.3 L573.2,400.4 L576.0,401.4 L578.8,402.3 L581.6,403.3 L584.5,404.2 L587.5,405.1 L590.4,406.0 L593.5,406.9 L596.6,407.5 L599.7,408.0 L602.9,408.5 L606.1,408.9 L609.4,409.4 L612.7,409.8 L616.1,410.3 L619.5,410.6 L622.9,410.8 L626.4,410.9 L630.0,411.1 L633.5,411.2 L637.1,411.4 L640.8,411.5 L644.5,411.6 L648.3,411.7 L652.0,411.7 L655.9,411.8 L659.7,411.9 L663.7,411.9 L667.6,412.0" fill="none" stroke="#dd8055" stroke-width="1.2"/>
<path d="M518.8,396.7 L519.0,396.6 L519.4,396.5 L520.0,396.2 L520.8,395.9 L521.6,395.6 L522.5,395.1 L523.6,394.7 L524.7,394.1 L526.0,393.5 L527.3,392.7 L528.7,391.6 L530.1,390.5 L531.7,389.3 L533.3,388.1 L535.0,387.2 L536.8,386.5 L538.6,386.2 L540.5,386.4 L542.4,387.2 L544.5,388.2 L546.5,389.0 L548.7,389.8 L550.9,390.5 L553.1,391.2 L555.5,391.8 L557.8,392.9 L560.3,394.2 L562.8,395.4 L565.3,396.5 L567.9,397.7 L570.5,398.8 L573.2,399.9 L576.0,401.0 L578.8,402.0 L581.6,402.9 L584.5,403.9 L587.5,404.9 L590.4,405.8 L593.5,406.7 L596.6,407.4 L599.7,407.8 L602.9,408.3 L606.1,408.8 L609.4,409.3 L612.7,409.7 L616.1,410.2 L619.5,410.6 L622.9,410.7 L626.4,410.9 L630.0,411.0 L633.5,411.2 L637.1,411.4 L640.8,411.5 L644.5,411.6 L648.3,411.7 L652.0,411.7 L655.9,411.8 L659.7,411.9 L663.7,411.9 L667.6,412.0" fill="none" stroke="#d57b51" stroke-width="1.2"/>
<path d="M518.8,397.8 L519.0,397.7 L519.4,397.5 L520.0,397.2 L520.8,396.9 L521.6,396.4 L522.5,395.9 L523.6,395.4 L524.7,394.8 L526.0,394.1 L527.3,393.2 L528.7,392.0 L530.1,390.9 L531.7,389.6 L533.3,388.3 L535.0,387.2 L536.8,386.4 L538.6,386.0 L540.5,386.1 L542.4,386.9 L544.5,387.7 L546.5,388.6 L548.7,389.3 L550.9,390.0 L553.1,390.6 L555.5,391.2 L557.8,392.3 L560.3,393.6 L562.8,394.8 L565.3,396.0 L567.9,397.2 L570.5,398.4 L573.2,399.5 L576.0,400.6 L578.8,401.6 L581.6,402.6 L584.5,403.6 L587.5,404.6 L590.4,405.5 L593.5,406.5 L596.6,407.2 L599.7,407.7 L602.9,408.2 L606.1,408.7 L609.4,409.2 L612.7,409.7 L616.1,410.2 L619.5,410.5 L622.9,410.7 L626.4,410.9 L630.0,411.0 L633.5,411.2 L637.1,411.3 L640.8,411.5 L644.5,411.6 L648.3,411.7 L652.0,411.7 L655.9,411.8 L659.7,411.9 L663.7,411.9 L667.6,412.0" fill="none" stroke="#cd774e" stroke-width="1.2"/>
<path d="M518.8,398.8 L519.0,398.7 L519.4,398.5 L520.0,398.1 L520.8,397.7 L521.6,397.2 L522.5,396.7 L523.6,396.1 L524.7,395.4 L526.0,394.6 L527.3,393.7 L528.7,392.4 L530.1,391.2 L531.7,389.8 L533.3,388.4 L535.0,387.2 L536.8,386.3 L538.6,385.8 L540.5,385.8 L542.4,386.5 L544.5,387.3 L546.5,388.1 L548.7,388.8 L550.9,389.5 L553.1,390.1 L555.5,390.7 L557.8,391.7 L560.3,393.0 L562.8,394.3 L565.3,395.5 L567.9,396.7 L570.5,397.9 L573.2,399.1 L576.0,400.2 L578.8,401.2 L581.6,402.2 L584.5,403.3 L587.5,404.3 L590.4,405.3 L593.5,406.3 L596.6,407.0 L599.7,407.5 L602.9,408.0 L606.1,408.5 L609.4,409.1 L612.7,409.6 L616.1,410.1 L619.5,410.5 L622.9,410.7 L626.4,410.8 L630.0,411.0 L633.5,411.2 L637.1,411.3 L640.8,411.5 L644.5,411.6 L648.3,411.6 L652.0,411.7 L655.9,411.8 L659.7,411.9 L663.7,411.9 L667.6,412.0" fill="none" stroke="#c6724a" stroke-width="1.2"/>
<path d="M518.8,399.7 L519.0,399.6 L519.4,399.3 L520.0,399.0 L520.8,398.5 L521.6,398.0 L522.5,397.4 L523.6,396.7 L524.7,395.9 L526.0,395.1 L527.3,394.1 L528.7,392.8 L530.1,391.5 L531.7,390.0 L533.3,388.6 L535.0,387.3 L536.8,386.2 L538.6,385.6 L540.5,385.6 L542.4,386.1 L544.5,386.9 L546.5,387.7 L548.7,388.3 L550.9,389.0 L553.1,389.5 L555.5,390.1 L557.8,391.2 L560.3,392.5 L562.8,393.7 L565.3,395.0 L567.9,396.2 L570.5,397.4 L573.2,398.6 L576.0,399.8 L578.8,400.8 L581.6,401.9 L584.5,403.0 L587.5,404.0 L590.4,405.0 L593.5,406.1 L596.6,406.8 L599.7,407.3 L602.9,407.9 L606.1,408.4 L609.4,409.0 L612.7,409.5 L616.1,410.0 L619.5,410.4 L622.9,410.6 L626.4,410.8 L630.0,411.0 L633.5,411.1 L637.1,411.3 L640.8,411.5 L644.5,411.6 L648.3,411.6 L652.0,411.7 L655.9,411.8 L659.7,411.9 L663.7,411.9 L667.6,412.0" fill="none" stroke="#be6e47" stroke-width="1.2"/>
<path d="M518.8,400.6 L519.0,400.4 L519.4,400.1 L520.0,399.7 L520.8,399.2 L521.6,398.6 L522.5,398.0 L523.6,397.2 L524.7,396.4 L526.0,395.5 L527.3,394.4 L528.7,393.1 L530.1,391.8 L531.7,390.2 L533.3,388.7 L535.0,387.3 L536.8,386.2 L538.6,385.4 L540.5,385.3 L542.4,385.7 L544.5,386.5 L546.5,387.2 L548.7,387.9 L550.9,388.5 L553.1,389.0 L555.5,389.5 L557.8,390.6 L560.3,391.9 L562.8,393.2 L565.3,394.5 L567.9,395.7 L570.5,397.0 L573.2,398.2 L576.0,399.3 L578.8,400.4 L581.6,401.5 L584.5,402.6 L587.5,403.7 L590.4,404.8 L593.5,405.9 L596.6,406.6 L599.7,407.2 L602.9,407.7 L606.1,408.3 L609.4,408.8 L612.7,409.4 L616.1,410.0 L619.5,410.4 L622.9,410.6 L626.4,410.7 L630.0,410.9 L633.5,411.1 L637.1,411.3 L640.8,411.5 L644.5,411.6 L648.3,411.6 L652.0,411.7 L655.9,411.8 L659.7,411.8 L663.7,411.9 L667.6,412.0" fill="none" stroke="#b66943" stroke-width="1.2"/>
<path d="M518.8,401.3 L519.0,401.1 L519.4,400.8 L520.0,400.4 L520.8,399.8 L521.6,399.2 L522.5,398.5 L523.6,397.7 L524.7,396.8 L526.0,395.9 L527.3,394.8 L528.7,393.4 L530.1,392.0 L531.7,390.4 L533.3,388.8 L535.0,387.3 L536.8,386.1 L538.6,385.3 L540.5,385.0 L542.4,385.4 L544.5,386.1 L546.5,386.8 L548.7,387.4 L550.9,387.9 L553.1,388.5 L555.5,388.9 L557.8,390.0 L560.3,391.4 L562.8,392.7 L565.3,394.0 L567.9,395.2 L570.5,396.5 L573.2,397.8 L576.0,398.9 L578.8,400.1 L581.6,401.2 L584.5,402.3 L587.5,403.4 L590.4,404.5 L593.5,405.6 L596.6,406.4 L599.7,407.0 L602.9,407.6 L606.1,408.2 L609.4,408.7 L612.7,409.3 L616.1,409.9 L619.5,410.3 L622.9,410.5 L626.4,410.7 L630.0,410.9 L633.5,411.1 L637.1,411.3 L640.8,411.5 L644.5,411.5 L648.3,411.6 L652.0,411.7 L655.9,411.8 L659.7,411.8 L663.7,411.9 L667.6,412.0" fill="none" stroke="#ae6440" stroke-width="1.2"/>
<path d="M518.8,402.0 L519.0,401.8 L519.4,401.5 L520.0,401.0 L520.8,400.4 L521.6,399.7 L522.5,399.0 L523.6,398.1 L524.7,397.2 L526.0,396.2 L527.3,395.1 L528.7,393.7 L530.1,392.2 L531.7,390.6 L533.3,388.9 L535.0,387.4 L536.8,386.0 L538.6,385.1 L540.5,384.7 L542.4,385.0 L544.5,385.7 L546.5,386.3 L548.7,386.9 L550.9,387.4 L553.1,387.9 L555.5,388.4 L557.8,389.5 L560.3,390.8 L562.8,392.1 L565.3,393.4 L567.9,394.7 L570.5,396.0 L573.2,397.3 L576.0,398.5 L578.8,399.7 L581.6,400.8 L584.5,402.0 L587.5,403.2 L590.4,404.3 L593.5,405.4 L596.6,406.3 L599.7,406.8 L602.9,407.4 L606.1,408.0 L609.4,408.6 L612.7,409.2 L616.1,409.9 L619.5,410.3 L622.9,410.5 L626.4,410.7 L630.0,410.9 L633.5,411.1 L637.1,411.2 L640.8,411.4 L644.5,411.5 L648.3,411.6 L652.0,411.7 L655.9,411.8 L659.7,411.8 L663.7,411.9 L667.6,412.0" fill="none" stroke="#a7603c" stroke-width="1.2"/>
<path d="M518.8,402.5 L519.0,402.4 L519.4,402.0 L520.0,401.5 L520.8,400.9 L521.6,400.2 L522.5,399.4 L523.6,398.5 L524.7,397.6 L526.0,396.5 L527.3,395.3 L528.7,393.9 L530.1,392.5 L531.7,390.8 L533.3,389.0 L535.0,387.4 L536.8,386.0 L538.6,384.9 L540.5,384.4 L542.4,384.6 L544.5,385.3 L546.5,385.8 L548.7,386.4 L550.9,386.9 L553.1,387.4 L555.5,387.8 L557.8,388.9 L560.3,390.3 L562.8,391.6 L565.3,392.9 L567.9,394.2 L570.5,395.6 L573.2,396.9 L576.0,398.1 L578.8,399.3 L581.6,400.5 L584.5,401.7 L587.5,402.9 L590.4,404.1 L593.5,405.2 L596.6,406.1 L599.7,406.7 L602.9,407.3 L606.1,407.9 L609.4,408.5 L612.7,409.2 L616.1,409.8 L619.5,410.3 L622.9,410.4 L626.4,410.6 L630.0,410.8 L633.5,411.0 L637.1,411.2 L640.8,411.4 L644.5,411.5 L648.3,411.6 L652.0,411.7 L655.9,411.8 L659.7,411.8 L663.7,411.9 L667.6,412.0" fill="none" stroke="#9f5b39" stroke-width="1.2"/>
<path d="M518.8,403.1 L519.0,402.9 L519.4,402.5 L520.0,402.0 L520.8,401.4 L521.6,400.6 L522.5,399.8 L523.6,398.9 L524.7,397.9 L526.0,396.8 L527.3,395.6 L528.7,394.1 L530.1,392.6 L531.7,390.9 L533.3,389.1 L535.0,387.4 L536.8,385.9 L538.6,384.8 L540.5,384.2 L542.4,384.2 L544.5,384.8 L546.5,385.4 L548.7,385.9 L550.9,386.4 L553.1,386.8 L555.5,387.2 L557.8,388.3 L560.3,389.7 L562.8,391.1 L565.3,392.4 L567.9,393.8 L570.5,395.1 L573.2,396.5 L576.0,397.7 L578.8,398.9 L581.6,400.1 L584.5,401.4 L587.5,402.6 L590.4,403.8 L593.5,405.0 L596.6,405.9 L599.7,406.5 L602.9,407.1 L606.1,407.8 L609.4,408.4 L612.7,409.1 L616.1,409.7 L619.5,410.2 L622.9,410.4 L626.4,410.6 L630.0,410.8 L633.5,411.0 L637.1,411.2 L640.8,411.4 L644.5,411.5 L648.3,411.6 L652.0,411.7 L655.9,411.8 L659.7,411.8 L663.7,411.9 L667.6,412.0" fill="none" stroke="#975735" stroke-width="1.2"/>
<path d="M518.8,403.5 L519.0,403.3 L519.4,402.9 L520.0,402.4 L520.8,401.8 L521.6,401.0 L522.5,400.1 L523.6,399.2 L524.7,398.2 L526.0,397.0 L527.3,395.8 L528.7,394.3 L530.1,392.8 L531.7,391.0 L533.3,389.2 L535.0,387.5 L536.8,385.9 L538.6,384.6 L540.5,383.9 L542.4,383.9 L544.5,384.4 L546.5,384.9 L548.7,385.4 L550.9,385.9 L553.1,386.3 L555.5,386.6 L557.8,387.7 L560.3,389.1 L562.8,390.5 L565.3,391.9 L567.9,393.3 L570.5,394.7 L573.2,396.0 L576.0,397.3 L578.8,398.6 L581.6,399.8 L584.5,401.0 L587.5,402.3 L590.4,403.6 L593.5,404.8 L596.6,405.7 L599.7,406.3 L602.9,407.0 L606.1,407.7 L609.4,408.3 L612.7,409.0 L616.1,409.7 L619.5,410.2 L622.9,410.4 L626.4,410.6 L630.0,410.8 L633.5,411.0 L637.1,411.2 L640.8,411.4 L644.5,411.5 L648.3,411.6 L652.0,411.7 L655.9,411.8 L659.7,411.8 L663.7,411.9 L667.6,412.0" fill="none" stroke="#8f5231" stroke-width="1.2"/>
<path d="M518.8,403.9 L519.0,403.7 L519.4,403.3 L520.0,402.8 L520.8,402.1 L521.6,401.3 L522.5,400.4 L523.6,399.5 L524.7,398.4 L526.0,397.2 L527.3,396.0 L528.7,394.5 L530.1,393.0 L531.7,391.2 L533.3,389.3 L535.0,387.5 L536.8,385.8 L538.6,384.5 L540.5,383.6 L542.4,383.5 L544.5,384.0 L546.5,384.5 L548.7,384.9 L550.9,385.3 L553.1,385.7 L555.5,386.1 L557.8,387.2 L560.3,388.6 L562.8,390.0 L565.3,391.4 L567.9,392.8 L570.5,394.2 L573.2,395.6 L576.0,396.9 L578.8,398.2 L581.6,399.5 L584.5,400.7 L587.5,402.0 L590.4,403.3 L593.5,404.6 L596.6,405.5 L599.7,406.2 L602.9,406.9 L606.1,407.5 L609.4,408.2 L612.7,408.9 L616.1,409.6 L619.5,410.1 L622.9,410.3 L626.4,410.5 L630.0,410.7 L633.5,411.0 L637.1,411.2 L640.8,411.4 L644.5,411.5 L648.3,411.6 L652.0,411.7 L655.9,411.7 L659.7,411.8 L663.7,411.9 L667.6,412.0" fill="none" stroke="#864c2d" stroke-width="1.2"/>
<path d="M518.8,404.3 L519.0,404.1 L519.4,403.6 L520.0,403.1 L520.8,402.4 L521.6,401.6 L522.5,400.7 L523.6,399.7 L524.7,398.6 L526.0,397.4 L527.3,396.1 L528.7,394.6 L530.1,393.1 L531.7,391.3 L533.3,389.4 L535.0,387.5 L536.8,385.8 L538.6,384.3 L540.5,383.4 L542.4,383.1 L544.5,383.6 L546.5,384.0 L548.7,384.4 L550.9,384.8 L553.1,385.2 L555.5,385.5 L557.8,386.6 L560.3,388.0 L562.8,389.4 L565.3,390.9 L567.9,392.3 L570.5,393.7 L573.2,395.2 L576.0,396.5 L578.8,397.8 L581.6,399.1 L584.5,400.4 L587.5,401.7 L590.4,403.1 L593.5,404.4 L596.6,405.3 L599.7,406.0 L602.9,406.7 L606.1,407.4 L609.4,408.1 L612.7,408.8 L616.1,409.5 L619.5,410.1 L622.9,410.3 L626.4,410.5 L630.0,410.7 L633.5,410.9 L637.1,411.2 L640.8,411.4 L644.5,411.5 L648.3,411.6 L652.0,411.7 L655.9,411.7 L659.7,411.8 L663.7,411.9 L667.6,412.0" fill="none" stroke="#7b4629" stroke-width="1.2"/>
<path d="M518.8,404.5 L519.0,404.3 L519.4,403.9 L520.0,403.3 L520.8,402.6 L521.6,401.8 L522.5,400.9 L523.6,399.9 L524.7,398.8 L526.0,397.5 L527.3,396.2 L528.7,394.8 L530.1,393.2 L531.7,391.4 L533.3,389.4 L535.0,387.5 L536.8,385.7 L538.6,384.2 L540.5,383.1 L542.4,382.7 L544.5,383.2 L546.5,383.6 L548.7,384.0 L550.9,384.3 L553.1,384.6 L555.5,384.9 L557.8,386.0 L560.3,387.5 L562.8,388.9 L565.3,390.3 L567.9,391.8 L570.5,393.3 L573.2,394.7 L576.0,396.1 L578.8,397.4 L581.6,398.8 L584.5,400.1 L587.5,401.4 L590.4,402.8 L593.5,404.2 L596.6,405.1 L599.7,405.9 L602.9,406.6 L606.1,407.3 L609.4,408.0 L612.7,408.7 L616.1,409.5 L619.5,410.0 L622.9,410.2 L626.4,410.5 L630.0,410.7 L633.5,410.9 L637.1,411.1 L640.8,411.4 L644.5,411.5 L648.3,411.6 L652.0,411.7 L655.9,411.7 L659.7,411.8 L663.7,411.9 L667.6,412.0" fill="none" stroke="#703f25" stroke-width="1.2"/>
<path d="M518.8,404.8 L519.0,404.6 L519.4,404.1 L520.0,403.6 L520.8,402.8 L521.6,402.0 L522.5,401.1 L523.6,400.0 L524.7,398.9 L526.0,397.7 L527.3,396.3 L528.7,394.9 L530.1,393.3 L531.7,391.5 L533.3,389.5 L535.0,387.6 L536.8,385.7 L538.6,384.0 L540.5,382.8 L542.4,382.4 L544.5,382.8 L546.5,383.1 L548.7,383.5 L550.9,383.8 L553.1,384.1 L555.5,384.3 L557.8,385.4 L560.3,386.9 L562.8,388.4 L565.3,389.8 L567.9,391.3 L570.5,392.8 L573.2,394.3 L576.0,395.7 L578.8,397.0 L581.6,398.4 L584.5,399.8 L587.5,401.2 L590.4,402.6 L593.5,404.0 L596.6,405.0 L599.7,405.7 L602.9,406.4 L606.1,407.2 L609.4,407.9 L612.7,408.7 L616.1,409.4 L619.5,410.0 L622.9,410.2 L626.4,410.4 L630.0,410.7 L633.5,410.9 L637.1,411.1 L640.8,411.4 L644.5,411.5 L648.3,411.6 L652.0,411.6 L655.9,411.7 L659.7,411.8 L663.7,411.9 L667.6,412.0" fill="none" stroke="#643820" stroke-width="1.2"/>
<path d="M518.8,405.0 L519.0,404.8 L519.4,404.3 L520.0,403.7 L520.8,403.0 L521.6,402.2 L522.5,401.2 L523.6,400.2 L524.7,399.0 L526.0,397.8 L527.3,396.4 L528.7,395.0 L530.1,393.4 L531.7,391.5 L533.3,389.6 L535.0,387.6 L536.8,385.6 L538.6,383.9 L540.5,382.6 L542.4,382.0 L544.5,382.3 L546.5,382.7 L548.7,383.0 L550.9,383.3 L553.1,383.5 L555.5,383.8 L557.8,384.9 L560.3,386.3 L562.8,387.8 L565.3,389.3 L567.9,390.8 L570.5,392.3 L573.2,393.9 L576.0,395.3 L578.8,396.7 L581.6,398.1 L584.5,399.5 L587.5,400.9 L590.4,402.3 L593.5,403.7 L596.6,404.8 L599.7,405.5 L602.9,406.3 L606.1,407.0 L609.4,407.8 L612.7,408.6 L616.1,409.4 L619.5,409.9 L622.9,410.2 L626.4,410.4 L630.0,410.6 L633.5,410.9 L637.1,411.1 L640.8,411.3 L644.5,411.5 L648.3,411.6 L652.0,411.6 L655.9,411.7 L659.7,411.8 L663.7,411.9 L667.6,412.0" fill="none" stroke="#59321c" stroke-width="1.2"/>
<path d="M518.8,405.1 L519.0,404.9 L519.4,404.5 L520.0,403.9 L520.8,403.1 L521.6,402.3 L522.5,401.3 L523.6,400.3 L524.7,399.1 L526.0,397.9 L527.3,396.5 L528.7,395.0 L530.1,393.5 L531.7,391.6 L533.3,389.6 L535.0,387.6 L536.8,385.6 L538.6,383.8 L540.5,382.4 L542.4,381.6 L544.5,381.9 L546.5,382.2 L548.7,382.5 L550.9,382.7 L553.1,383.0 L555.5,383.2 L557.8,384.3 L560.3,385.8 L562.8,387.3 L565.3,388.8 L567.9,390.3 L570.5,391.9 L573.2,393.4 L576.0,394.9 L578.8,396.3 L581.6,397.7 L584.5,399.1 L587.5,400.6 L590.4,402.1 L593.5,403.5 L596.6,404.6 L599.7,405.4 L602.9,406.1 L606.1,406.9 L609.4,407.7 L612.7,408.5 L616.1,409.3 L619.5,409.9 L622.9,410.1 L626.4,410.4 L630.0,410.6 L633.5,410.8 L637.1,411.1 L640.8,411.3 L644.5,411.5 L648.3,411.5 L652.0,411.6 L655.9,411.7 L659.7,411.8 L663.7,411.9 L667.6,412.0" fill="none" stroke="#4e2b17" stroke-width="1.2"/>
<path d="M518.8,405.3 L519.0,405.0 L519.4,404.6 L520.0,404.0 L520.8,403.3 L521.6,402.4 L522.5,401.4 L523.6,400.3 L524.7,399.2 L526.0,397.9 L527.3,396.6 L528.7,395.1 L530.1,393.5 L531.7,391.7 L533.3,389.7 L535.0,387.6 L536.8,385.6 L538.6,383.7 L540.5,382.1 L542.4,381.2 L544.5,381.5 L546.5,381.8 L548.7,382.0 L550.9,382.2 L553.1,382.4 L555.5,382.6 L557.8,383.7 L560.3,385.2 L562.8,386.8 L565.3,388.3 L567.9,389.8 L570.5,391.4 L573.2,393.0 L576.0,394.5 L578.8,395.9 L581.6,397.4 L584.5,398.8 L587.5,400.3 L590.4,401.8 L593.5,403.3 L596.6,404.4 L599.7,405.2 L602.9,406.0 L606.1,406.8 L609.4,407.6 L612.7,408.4 L616.1,409.2 L619.5,409.8 L622.9,410.1 L626.4,410.3 L630.0,410.6 L633.5,410.8 L637.1,411.1 L640.8,411.3 L644.5,411.4 L648.3,411.5 L652.0,411.6 L655.9,411.7 L659.7,411.8 L663.7,411.9 L667.6,412.0" fill="none" stroke="#432413" stroke-width="1.2"/>
<path d="M518.8,405.3 L519.0,405.1 L519.4,404.7 L520.0,404.1 L520.8,403.3 L521.6,402.5 L522.5,401.5 L523.6,400.4 L524.7,399.2 L526.0,398.0 L527.3,396.6 L528.7,395.1 L530.1,393.6 L531.7,391.7 L533.3,389.7 L535.0,387.6 L536.8,385.5 L538.6,383.6 L540.5,381.9 L542.4,380.9 L544.5,381.1 L546.5,381.3 L548.7,381.5 L550.9,381.7 L553.1,381.9 L555.5,382.0 L557.8,383.1 L560.3,384.7 L562.8,386.2 L565.3,387.8 L567.9,389.4 L570.5,391.0 L573.2,392.6 L576.0,394.1 L578.8,395.5 L581.6,397.0 L584.5,398.5 L587.5,400.0 L590.4,401.6 L593.5,403.1 L596.6,404.2 L599.7,405.0 L602.9,405.8 L606.1,406.7 L609.4,407.5 L612.7,408.3 L616.1,409.2 L619.5,409.8 L622.9,410.0 L626.4,410.3 L630.0,410.5 L633.5,410.8 L637.1,411.1 L640.8,411.3 L644.5,411.4 L648.3,411.5 L652.0,411.6 L655.9,411.7 L659.7,411.8 L663.7,411.9 L667.6,412.0" fill="none" stroke="#381e0f" stroke-width="1.2"/>
<path d="M518.8,405.4 L519.0,405.2 L519.4,404.7 L520.0,404.1 L520.8,403.4 L521.6,402.5 L522.5,401.5 L523.6,400.5 L524.7,399.3 L526.0,398.0 L527.3,396.6 L528.7,395.2 L530.1,393.6 L531.7,391.8 L533.3,389.7 L535.0,387.6 L536.8,385.5 L538.6,383.5 L540.5,381.7 L542.4,380.5 L544.5,380.7 L546.5,380.9 L548.7,381.0 L550.9,381.2 L553.1,381.3 L555.5,381.5 L557.8,382.6 L560.3,384.1 L562.8,385.7 L565.3,387.3 L567.9,388.9 L570.5,390.5 L573.2,392.1 L576.0,393.7 L578.8,395.1 L581.6,396.7 L584.5,398.2 L587.5,399.7 L590.4,401.3 L593.5,402.9 L596.6,404.0 L599.7,404.9 L602.9,405.7 L606.1,406.5 L609.4,407.4 L612.7,408.2 L616.1,409.1 L619.5,409.7 L622.9,410.0 L626.4,410.3 L630.0,410.5 L633.5,410.8 L637.1,411.0 L640.8,411.3 L644.5,411.4 L648.3,411.5 L652.0,411.6 L655.9,411.7 L659.7,411.8 L663.7,411.9 L667.6,412.0" fill="none" stroke="#2e180b" stroke-width="1.2"/>
<path d="M518.8,405.5 L519.0,405.2 L519.4,404.8 L520.0,404.2 L520.8,403.4 L521.6,402.6 L522.5,401.6 L523.6,400.5 L524.7,399.3 L526.0,398.0 L527.3,396.7 L528.7,395.2 L530.1,393.7 L531.7,391.8 L533.3,389.7 L535.0,387.6 L536.8,385.5 L538.6,383.4 L540.5,381.5 L542.4,380.1 L544.5,380.3 L546.5,380.4 L548.7,380.5 L550.9,380.7 L553.1,380.8 L555.5,380.9 L557.8,382.0 L560.3,383.6 L562.8,385.1 L565.3,386.7 L567.9,388.4 L570.5,390.0 L573.2,391.7 L576.0,393.2 L578.8,394.8 L581.6,396.3 L584.5,397.9 L587.5,399.5 L590.4,401.1 L593.5,402.7 L596.6,403.9 L599.7,404.7 L602.9,405.5 L606.1,406.4 L609.4,407.3 L612.7,408.2 L616.1,409.1 L619.5,409.7 L622.9,410.0 L626.4,410.2 L630.0,410.5 L633.5,410.7 L637.1,411.0 L640.8,411.3 L644.5,411.4 L648.3,411.5 L652.0,411.6 L655.9,411.7 L659.7,411.8 L663.7,411.9 L667.6,412.0" fill="none" stroke="#251309" stroke-width="1.2"/>
<path d="M518.8,405.5 L519.0,405.3 L519.4,404.8 L520.0,404.2 L520.8,403.4 L521.6,402.6 L522.5,401.6 L523.6,400.5 L524.7,399.3 L526.0,398.0 L527.3,396.7 L528.7,395.2 L530.1,393.7 L531.7,391.8 L533.3,389.8 L535.0,387.6 L536.8,385.5 L538.6,383.3 L540.5,381.3 L542.4,379.7 L544.5,379.8 L546.5,380.0 L548.7,380.1 L550.9,380.2 L553.1,380.2 L555.5,380.3 L557.8,381.4 L560.3,383.0 L562.8,384.6 L565.3,386.2 L567.9,387.9 L570.5,389.6 L573.2,391.3 L576.0,392.8 L578.8,394.4 L581.6,396.0 L584.5,397.6 L587.5,399.2 L590.4,400.8 L593.5,402.5 L596.6,403.7 L599.7,404.5 L602.9,405.4 L606.1,406.3 L609.4,407.2 L612.7,408.1 L616.1,409.0 L619.5,409.7 L622.9,409.9 L626.4,410.2 L630.0,410.5 L633.5,410.7 L637.1,411.0 L640.8,411.3 L644.5,411.4 L648.3,411.5 L652.0,411.6 L655.9,411.7 L659.7,411.8 L663.7,411.9 L667.6,412.0" fill="none" stroke="#1c0e07" stroke-width="1.2"/>
<path d="M518.8,405.5 L519.0,405.3 L519.4,404.8 L520.0,404.2 L520.8,403.5 L521.6,402.6 L522.5,401.6 L523.6,400.5 L524.7,399.3 L526.0,398.0 L527.3,396.7 L528.7,395.2 L530.1,393.7 L531.7,391.8 L533.3,389.8 L535.0,387.7 L536.8,385.5 L538.6,383.2 L540.5,381.1 L542.4,379.4 L544.5,379.4 L546.5,379.5 L548.7,379.6 L550.9,379.6 L553.1,379.7 L555.5,379.7 L557.8,380.8 L560.3,382.4 L562.8,384.1 L565.3,385.7 L567.9,387.4 L570.5,389.1 L573.2,390.8 L576.0,392.4 L578.8,394.0 L581.6,395.6 L584.5,397.2 L587.5,398.9 L590.4,400.6 L593.5,402.3 L596.6,403.5 L599.7,404.4 L602.9,405.3 L606.1,406.2 L609.4,407.1 L612.7,408.0 L616.1,408.9 L619.5,409.6 L622.9,409.9 L626.4,410.1 L630.0,410.4 L633.5,410.7 L637.1,411.0 L640.8,411.3 L644.5,411.4 L648.3,411.5 L652.0,411.6 L655.9,411.7 L659.7,411.8 L663.7,411.9 L667.6,412.0" fill="none" stroke="#120a04" stroke-width="1.2"/>
<path d="M518.8,405.5 L519.0,405.3 L519.4,404.8 L520.0,404.2 L520.8,403.5 L521.6,402.6 L522.5,401.6 L523.6,400.5 L524.7,399.3 L526.0,398.0 L527.3,396.7 L528.7,395.2 L530.1,393.7 L531.7,391.8 L533.3,389.8 L535.0,387.7 L536.8,385.4 L538.6,383.2 L540.5,380.9 L542.4,379.0 L544.5,379.0 L546.5,379.1 L548.7,379.1 L550.9,379.1 L553.1,379.1 L555.5,379.2 L557.8,380.3 L560.3,381.9 L562.8,383.5 L565.3,385.2 L567.9,386.9 L570.5,388.6 L573.2,390.4 L576.0,392.0 L578.8,393.6 L581.6,395.3 L584.5,396.9 L587.5,398.6 L590.4,400.3 L593.5,402.0 L596.6,403.3 L599.7,404.2 L602.9,405.1 L606.1,406.0 L609.4,407.0 L612.7,407.9 L616.1,408.9 L619.5,409.6 L622.9,409.8 L626.4,410.1 L630.0,410.4 L633.5,410.7 L637.1,411.0 L640.8,411.3 L644.5,411.4 L648.3,411.5 L652.0,411.6 L655.9,411.7 L659.7,411.8 L663.7,411.9 L667.6,412.0" fill="none" stroke="#090502" stroke-width="1.2"/>
<path d="M518.8,405.5 L519.0,405.3 L519.4,404.8 L520.0,404.2 L520.8,403.5 L521.6,402.6 L522.5,401.6 L523.6,400.5 L524.7,399.3 L526.0,398.0 L527.3,396.7 L528.7,395.2 L530.1,393.7 L531.7,391.8 L533.3,389.8 L535.0,387.7 L536.8,385.4 L538.6,383.1 L540.5,380.8 L542.4,378.6 L544.5,378.6 L546.5,378.6 L548.7,378.6 L550.9,378.6 L553.1,378.6 L555.5,378.6 L557.8,379.7 L560.3,381.3 L562.8,383.0 L565.3,384.7 L567.9,386.4 L570.5,388.2 L573.2,390.0 L576.0,391.6 L578.8,393.3 L581.6,394.9 L584.5,396.6 L587.5,398.3 L590.4,400.1 L593.5,401.8 L596.6,403.1 L599.7,404.0 L602.9,405.0 L606.1,405.9 L609.4,406.9 L612.7,407.8 L616.1,408.8 L619.5,409.5 L622.9,409.8 L626.4,410.1 L630.0,410.4 L633.5,410.7 L637.1,410.9 L640.8,411.2 L644.5,411.4 L648.3,411.5 L652.0,411.6 L655.9,411.7 L659.7,411.8 L663.7,411.9 L667.6,412.0" fill="none" stroke="#000000" stroke-width="1.2"/>
<path d="M518.8,405.5 L530.5,393.3 L542.2,378.6 L556.2,378.6 L573.7,390.3 L594.8,402.6 L618.1,409.4 L641.5,411.3 L667.6,412.0" fill="none" stroke="#000" stroke-width="2.8" stroke-linejoin="round"/>
<path d="M519.0,372.6 H673" stroke="#12a9ac" stroke-width="1.6" stroke-dasharray="5.6 5.4"/>
<path d="M50.30,347.35 V424.85 H198.90" fill="none" stroke="#2c2c2c" stroke-width="1.4" stroke-linecap="square"/>
<path d="M50.30,424.85 v1.6 M124.60,424.85 v1.6 M198.90,424.85 v1.6 M50.30,424.85 h-1.6 M50.30,386.10 h-1.6 M50.30,347.35 h-1.6 " fill="none" stroke="#2c2c2c" stroke-width="1.4" stroke-linecap="square"/>
<path d="M282.20,349.00 V426.50 H430.80" fill="none" stroke="#2c2c2c" stroke-width="1.4" stroke-linecap="square"/>
<path d="M282.20,426.50 v1.6 M356.50,426.50 v1.6 M430.80,426.50 v1.6 M282.20,426.50 h-1.6 M282.20,387.75 h-1.6 M282.20,349.00 h-1.6 " fill="none" stroke="#2c2c2c" stroke-width="1.4" stroke-linecap="square"/>
<path d="M519.00,348.70 V426.10 H667.60" fill="none" stroke="#2c2c2c" stroke-width="1.4" stroke-linecap="square"/>
<path d="M519.00,426.10 v1.6 M593.30,426.10 v1.6 M667.60,426.10 v1.6 M519.00,426.10 h-1.6 M519.00,387.40 h-1.6 M519.00,348.70 h-1.6 " fill="none" stroke="#2c2c2c" stroke-width="1.4" stroke-linecap="square"/>
<circle cx="50.3" cy="371.3" r="2.7" fill="#12a9ac"/>
<circle cx="282.3" cy="373.1" r="2.7" fill="#12a9ac"/>
<circle cx="519.0" cy="372.5" r="2.7" fill="#12a9ac"/>
<rect x="519.2" y="347.7" width="11.1" height="25.4" fill="none" stroke="#e2283d" stroke-width="1.3"/>
<text x="3" y="11.6" font-size="15.5" font-weight="bold" fill="#111">a</text>
<text x="232" y="11.6" font-size="15.5" font-weight="bold" fill="#111">b</text>
<text x="466.5" y="11.6" font-size="15.5" font-weight="bold" fill="#111">c</text>
<text x="83.20" y="15.60" font-size="12.5" text-anchor="start" fill="#2e2e2e" >Chemotherapy</text>
<text x="337.20" y="15.70" font-size="12.2" text-anchor="start" fill="#2e2e2e" >PDT</text>
<text x="586.20" y="15.70" font-size="12.3" text-anchor="start" fill="#2e2e2e" >PIT</text>
<text transform="translate(11.5,101.3) rotate(-90)" text-anchor="middle" font-size="12.4" fill="#2e2e2e"><tspan font-style="italic">C</tspan> (10<tspan dy="-4.5" font-size="9">6</tspan><tspan dy="4.5"> cells)</tspan></text>
<text transform="translate(247.5,100.1) rotate(-90)" text-anchor="middle" font-size="12.4" fill="#2e2e2e"><tspan font-style="italic">C</tspan> (10<tspan dy="-4.5" font-size="9">6</tspan><tspan dy="4.5"> cells)</tspan></text>
<text transform="translate(482.5,100.2) rotate(-90)" text-anchor="middle" font-size="12.4" fill="#2e2e2e"><tspan font-style="italic">C</tspan> (10<tspan dy="-4.5" font-size="9">6</tspan><tspan dy="4.5"> cells)</tspan></text>
<text x="121.5" y="207.8" text-anchor="middle" font-size="12.4" fill="#2e2e2e"><tspan font-style="italic">E</tspan> (10<tspan dy="-4.5" font-size="9">6</tspan><tspan dy="4.5"> cells)</tspan></text>
<text x="354.5" y="207.8" text-anchor="middle" font-size="12.4" fill="#2e2e2e"><tspan font-style="italic">E</tspan> (10<tspan dy="-4.5" font-size="9">6</tspan><tspan dy="4.5"> cells)</tspan></text>
<text x="589.2" y="207.8" text-anchor="middle" font-size="12.4" fill="#2e2e2e"><tspan font-style="italic">E</tspan> (10<tspan dy="-4.5" font-size="9">6</tspan><tspan dy="4.5"> cells)</tspan></text>
<text transform="translate(16.3,268) rotate(-90)" text-anchor="middle" font-size="12.4" fill="#2e2e2e"><tspan font-style="italic">C</tspan> (10<tspan dy="-4.5" font-size="9">6</tspan><tspan dy="4.5"> cells)</tspan></text>
<text transform="translate(251.2,268) rotate(-90)" text-anchor="middle" font-size="12.4" fill="#2e2e2e"><tspan font-style="italic">C</tspan> (10<tspan dy="-4.5" font-size="9">6</tspan><tspan dy="4.5"> cells)</tspan></text>
<text transform="translate(485.5,267) rotate(-90)" text-anchor="middle" font-size="12.4" fill="#2e2e2e"><tspan font-style="italic">C</tspan> (10<tspan dy="-4.5" font-size="9">6</tspan><tspan dy="4.5"> cells)</tspan></text>
<text transform="translate(16.0,389.7) rotate(-90)" text-anchor="middle" font-size="12.4" fill="#2e2e2e"><tspan font-style="italic">E</tspan> (10<tspan dy="-4.5" font-size="9">6</tspan><tspan dy="4.5"> cells)</tspan></text>
<text transform="translate(251.5,390.3) rotate(-90)" text-anchor="middle" font-size="12.4" fill="#2e2e2e"><tspan font-style="italic">E</tspan> (10<tspan dy="-4.5" font-size="9">6</tspan><tspan dy="4.5"> cells)</tspan></text>
<text transform="translate(485.5,390) rotate(-90)" text-anchor="middle" font-size="12.4" fill="#2e2e2e"><tspan font-style="italic">E</tspan> (10<tspan dy="-4.5" font-size="9">6</tspan><tspan dy="4.5"> cells)</tspan></text>
<text x="38.40" y="172.60" font-size="12.5" text-anchor="end" fill="#2e2e2e" >0</text>
<text x="38.40" y="98.98" font-size="12.5" text-anchor="end" fill="#2e2e2e" >15</text>
<text x="38.40" y="24.85" font-size="12.5" text-anchor="end" fill="#2e2e2e" >30</text>
<text x="44.30" y="185.90" font-size="12.5" text-anchor="middle" fill="#2e2e2e" >0</text>
<text x="118.85" y="185.90" font-size="12.5" text-anchor="middle" fill="#2e2e2e" >7</text>
<text x="193.40" y="185.90" font-size="12.5" text-anchor="middle" fill="#2e2e2e" >14</text>
<text x="274.30" y="172.50" font-size="12.5" text-anchor="end" fill="#2e2e2e" >0</text>
<text x="274.30" y="98.93" font-size="12.5" text-anchor="end" fill="#2e2e2e" >15</text>
<text x="274.30" y="24.85" font-size="12.5" text-anchor="end" fill="#2e2e2e" >30</text>
<text x="280.90" y="185.80" font-size="12.5" text-anchor="middle" fill="#2e2e2e" >0</text>
<text x="355.35" y="185.80" font-size="12.5" text-anchor="middle" fill="#2e2e2e" >7</text>
<text x="429.80" y="185.80" font-size="12.5" text-anchor="middle" fill="#2e2e2e" >14</text>
<text x="508.70" y="171.70" font-size="12.5" text-anchor="end" fill="#2e2e2e" >0</text>
<text x="508.70" y="98.25" font-size="12.5" text-anchor="end" fill="#2e2e2e" >15</text>
<text x="508.70" y="24.30" font-size="12.5" text-anchor="end" fill="#2e2e2e" >30</text>
<text x="514.25" y="185.00" font-size="12.5" text-anchor="middle" fill="#2e2e2e" >0</text>
<text x="588.90" y="185.00" font-size="12.5" text-anchor="middle" fill="#2e2e2e" >7</text>
<text x="663.55" y="185.00" font-size="12.5" text-anchor="middle" fill="#2e2e2e" >14</text>
<text x="43.65" y="312.40" font-size="12.5" text-anchor="end" fill="#2e2e2e" >0</text>
<text x="43.65" y="277.12" font-size="12.5" text-anchor="end" fill="#2e2e2e" >15</text>
<text x="43.65" y="241.85" font-size="12.5" text-anchor="end" fill="#2e2e2e" >30</text>
<text x="50.45" y="327.40" font-size="12.5" text-anchor="middle" fill="#2e2e2e" >0</text>
<text x="124.75" y="327.40" font-size="12.5" text-anchor="middle" fill="#2e2e2e" >2</text>
<text x="199.06" y="327.40" font-size="12.5" text-anchor="middle" fill="#2e2e2e" >4</text>
<text x="275.50" y="314.25" font-size="12.5" text-anchor="end" fill="#2e2e2e" >0</text>
<text x="275.50" y="278.98" font-size="12.5" text-anchor="end" fill="#2e2e2e" >15</text>
<text x="275.50" y="243.70" font-size="12.5" text-anchor="end" fill="#2e2e2e" >30</text>
<text x="282.30" y="329.25" font-size="12.5" text-anchor="middle" fill="#2e2e2e" >0</text>
<text x="356.60" y="329.25" font-size="12.5" text-anchor="middle" fill="#2e2e2e" >2</text>
<text x="430.90" y="329.25" font-size="12.5" text-anchor="middle" fill="#2e2e2e" >4</text>
<text x="512.20" y="313.20" font-size="12.5" text-anchor="end" fill="#2e2e2e" >0</text>
<text x="512.20" y="277.95" font-size="12.5" text-anchor="end" fill="#2e2e2e" >15</text>
<text x="512.20" y="242.70" font-size="12.5" text-anchor="end" fill="#2e2e2e" >30</text>
<text x="519.00" y="328.20" font-size="12.5" text-anchor="middle" fill="#2e2e2e" >0</text>
<text x="593.30" y="328.20" font-size="12.5" text-anchor="middle" fill="#2e2e2e" >2</text>
<text x="667.60" y="328.20" font-size="12.5" text-anchor="middle" fill="#2e2e2e" >4</text>
<text x="43.50" y="429.25" font-size="12.5" text-anchor="end" fill="#2e2e2e" >0</text>
<text x="43.50" y="390.50" font-size="12.5" text-anchor="end" fill="#2e2e2e" >3</text>
<text x="43.50" y="351.75" font-size="12.5" text-anchor="end" fill="#2e2e2e" >6</text>
<text x="50.30" y="444.75" font-size="12.5" text-anchor="middle" fill="#2e2e2e" >0</text>
<text x="124.60" y="444.75" font-size="12.5" text-anchor="middle" fill="#2e2e2e" >2</text>
<text x="198.90" y="444.75" font-size="12.5" text-anchor="middle" fill="#2e2e2e" >4</text>
<text x="123.90" y="465.00" font-size="12.4" text-anchor="middle" fill="#2e2e2e" >Time (months)</text>
<text x="275.40" y="430.90" font-size="12.5" text-anchor="end" fill="#2e2e2e" >0</text>
<text x="275.40" y="392.15" font-size="12.5" text-anchor="end" fill="#2e2e2e" >3</text>
<text x="275.40" y="353.40" font-size="12.5" text-anchor="end" fill="#2e2e2e" >6</text>
<text x="282.20" y="446.40" font-size="12.5" text-anchor="middle" fill="#2e2e2e" >0</text>
<text x="356.50" y="446.40" font-size="12.5" text-anchor="middle" fill="#2e2e2e" >2</text>
<text x="430.80" y="446.40" font-size="12.5" text-anchor="middle" fill="#2e2e2e" >4</text>
<text x="357.05" y="465.00" font-size="12.4" text-anchor="middle" fill="#2e2e2e" >Time (months)</text>
<text x="512.20" y="430.50" font-size="12.5" text-anchor="end" fill="#2e2e2e" >0</text>
<text x="512.20" y="391.80" font-size="12.5" text-anchor="end" fill="#2e2e2e" >3</text>
<text x="512.20" y="353.10" font-size="12.5" text-anchor="end" fill="#2e2e2e" >6</text>
<text x="519.00" y="446.00" font-size="12.5" text-anchor="middle" fill="#2e2e2e" >0</text>
<text x="593.30" y="446.00" font-size="12.5" text-anchor="middle" fill="#2e2e2e" >2</text>
<text x="667.60" y="446.00" font-size="12.5" text-anchor="middle" fill="#2e2e2e" >4</text>
<text x="591.90" y="465.00" font-size="12.4" text-anchor="middle" fill="#2e2e2e" >Time (months)</text>
<text x="154.80" y="137.30" font-size="10.6" text-anchor="start" fill="#2e2e2e" >100 μM</text>
<text x="155.10" y="164.50" font-size="10.6" text-anchor="start" fill="#2e2e2e" >1 μM</text>
<text x="385.5" y="137" font-size="10.8" fill="#2e2e2e">60 J/cm<tspan dy="-4.6" font-size="8.4">2</tspan></text>
<text x="386.9" y="164.6" font-size="10.8" fill="#2e2e2e">1 J/cm<tspan dy="-4.6" font-size="8.4">2</tspan></text>
<text x="619.2" y="137" font-size="10.8" fill="#2e2e2e">60 J/cm<tspan dy="-4.6" font-size="8.4">2</tspan></text>
<text x="620.5" y="164.6" font-size="10.8" fill="#2e2e2e">1 J/cm<tspan dy="-4.6" font-size="8.4">2</tspan></text>
<text x="202.8" y="375.6" font-size="12.4" fill="#12a9ac"><tspan font-style="italic">E</tspan><tspan dy="2.6" font-size="10">0</tspan></text>
<text x="434.9" y="376.0" font-size="12.4" fill="#12a9ac"><tspan font-style="italic">E</tspan><tspan dy="2.6" font-size="10">0</tspan></text>
<text x="672.5" y="376.0" font-size="12.4" fill="#12a9ac"><tspan font-style="italic">E</tspan><tspan dy="2.6" font-size="10">0</tspan></text>
<text x="536.5" y="359.2" font-size="12.6" fill="#e2283d">Transient <tspan font-style="italic">E</tspan> increase</text>
</svg></body></html>
